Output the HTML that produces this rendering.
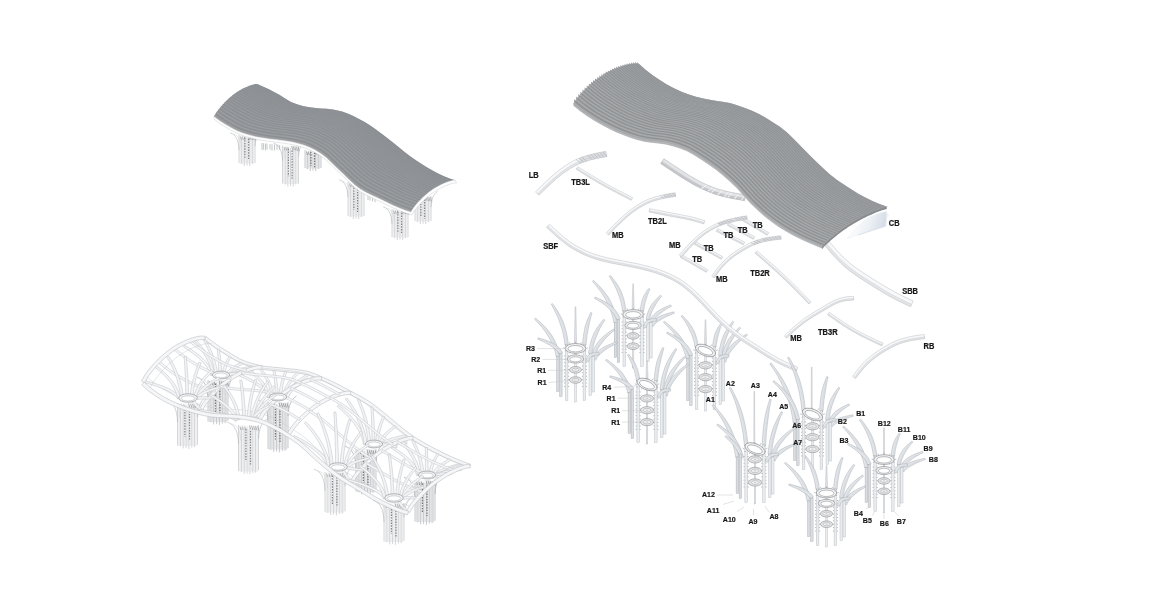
<!DOCTYPE html>
<html><head><meta charset="utf-8"><title>Exploded axonometric</title>
<style>
html,body{margin:0;padding:0;background:#fff;}
body{width:1175px;height:606px;overflow:hidden;}
svg{display:block;will-change:transform;}
text{font-family:"Liberation Sans",sans-serif;font-weight:bold;fill:#1a1a1a;}
</style></head><body>
<svg width="1175" height="606" viewBox="0 0 1175 606">
<rect width="1175" height="606" fill="#ffffff"/>
<rect x="305.5" y="150" width="15" height="18.5" fill="#f8f8f9"/>
<path d="M305 150V168M307.7 152.5V169.1M310.3 152.5V171.1M313 152.5V170.7M315.7 152.5V171.1M318.3 152.5V169.1M321 150V168" fill="none" stroke="#9b9ea2" stroke-width="0.55" />
<path d="M306.3 154V168.5M309 154V168.5M311.7 154V168.5M314.3 154V168.5M317 154V168.5M319.7 154V168.5" fill="none" stroke="#c3c6c9" stroke-width="0.5" />
<line x1="310.9" y1="151.7" x2="310.9" y2="165.9" stroke="#707377" stroke-width="1.2" stroke-dasharray="1.4 1.3"/>
<line x1="314.6" y1="152.6" x2="314.6" y2="167.2" stroke="#707377" stroke-width="1.2" stroke-dasharray="1.4 1.3"/>
<path d="M314 150.5L315.4 154.5M315.6 150.7L317 154.8M317.2 150.9L318.6 155.1M318.8 151.1L320.2 155.4M320.4 151.3L321.8 155.7M306.5 151.5L307.3 155M308.4 151.5L309.2 155M310.3 151.5L311.1 155" fill="none" stroke="#808387" stroke-width="0.7" />
<rect x="415.5" y="196" width="15" height="25.5" fill="#f8f8f9"/>
<path d="M415 196V221M417.7 198.5V222.1M420.3 198.5V224.1M423 198.5V223.7M425.7 198.5V224.1M428.3 198.5V222.1M431 196V221" fill="none" stroke="#b3b6ba" stroke-width="0.55" />
<path d="M416.3 200V221.5M419 200V221.5M421.7 200V221.5M424.3 200V221.5M427 200V221.5M429.7 200V221.5" fill="none" stroke="#dcdee1" stroke-width="0.5" />
<line x1="420.9" y1="198.3" x2="420.9" y2="217.1" stroke="#808387" stroke-width="1.2" stroke-dasharray="1.4 1.3"/>
<line x1="424.6" y1="199.4" x2="424.6" y2="218.8" stroke="#808387" stroke-width="1.2" stroke-dasharray="1.4 1.3"/>
<path d="M424 196.5L425.4 200.5M425.6 196.7L427 200.8M427.2 196.9L428.6 201.1M428.8 197.1L430.2 201.4M430.4 197.3L431.8 201.7M416.5 197.5L417.3 201M418.4 197.5L419.2 201M420.3 197.5L421.1 201" fill="none" stroke="#96999d" stroke-width="0.7" />
<path d="M437.7 191.2 L436.1 192.5 L434.6 194.1 L433.4 196 L432.5 198.3 L431.8 200.9 L431.3 203.9 L431 207.2" fill="none" stroke="#b3b6ba" stroke-width="0.6" />
<path d="M262 143V150.1M263.6 143.2V149.6M265.5 143.4V150.4M267 143.6V149.5M270 144V149.5M272 144.2V150.7M274.5 144.5V150.4M277 144.8V150.1M279.5 145.1V149.8" fill="none" stroke="#a9acb0" stroke-width="0.7" />
<path d="M368 195V200M370 195.8V200.6M372.5 196.8V201.3M375 197.8V202.1" fill="none" stroke="#a9acb0" stroke-width="0.7" />
<rect x="239.5" y="135" width="15" height="28.5" fill="#f8f8f9"/>
<path d="M239 135V163M241.7 137.5V164.1M244.3 137.5V166.1M247 137.5V165.7M249.7 137.5V166.1M252.3 137.5V164.1M255 135V163" fill="none" stroke="#b3b6ba" stroke-width="0.55" />
<path d="M240.3 139V163.5M243 139V163.5M245.7 139V163.5M248.3 139V163.5M251 139V163.5M253.7 139V163.5" fill="none" stroke="#dcdee1" stroke-width="0.5" />
<line x1="244.9" y1="137.5" x2="244.9" y2="158.3" stroke="#808387" stroke-width="1.2" stroke-dasharray="1.4 1.3"/>
<line x1="248.6" y1="138.8" x2="248.6" y2="160.2" stroke="#808387" stroke-width="1.2" stroke-dasharray="1.4 1.3"/>
<path d="M248 135.5L249.4 139.5M249.6 135.7L251 139.8M251.2 135.9L252.6 140.1M252.8 136.1L254.2 140.4M254.4 136.3L255.8 140.7M240.5 136.5L241.3 140M242.4 136.5L243.2 140M244.3 136.5L245.1 140" fill="none" stroke="#96999d" stroke-width="0.7" />
<path d="M230.2 132.8 L232.2 133.6 L233.9 134.9 L235.4 136.5 L236.6 138.5 L237.6 140.9 L238.3 143.6 L238.8 146.7 L239 150.2" fill="none" stroke="#b3b6ba" stroke-width="0.6" />
<path d="M233.2 134 L235.1 134.7 L236.7 135.6 L238 136.9 L239.2 138.5 L240.1 140.3 L240.7 142.5 L241.2 145 L241.4 147.8" fill="none" stroke="#cdd0d3" stroke-width="0.5" />
<path d="M261.7 130.2 L260.1 131.5 L258.6 133.1 L257.4 135 L256.5 137.3 L255.8 139.9 L255.3 142.9 L255 146.2" fill="none" stroke="#b3b6ba" stroke-width="0.6" />
<rect x="283" y="145.5" width="15" height="38.5" fill="#f8f8f9"/>
<path d="M282.5 145.5V183.5M285.2 148V184.6M287.8 148V186.6M290.5 148V186.2M293.2 148V186.6M295.8 148V184.6M298.5 145.5V183.5" fill="none" stroke="#b3b6ba" stroke-width="0.55" />
<path d="M283.8 149.5V184M286.5 149.5V184M289.2 149.5V184M291.8 149.5V184M294.5 149.5V184M297.2 149.5V184" fill="none" stroke="#dcdee1" stroke-width="0.5" />
<line x1="288.4" y1="148.8" x2="288.4" y2="176.2" stroke="#808387" stroke-width="1.2" stroke-dasharray="1.4 1.3"/>
<line x1="292.1" y1="150.5" x2="292.1" y2="178.7" stroke="#808387" stroke-width="1.2" stroke-dasharray="1.4 1.3"/>
<path d="M291.5 146L292.9 150M293.1 146.2L294.5 150.3M294.7 146.4L296.1 150.6M296.3 146.6L297.7 150.9M297.9 146.8L299.3 151.2M284 147L284.8 150.5M285.9 147L286.7 150.5M287.8 147L288.6 150.5" fill="none" stroke="#96999d" stroke-width="0.7" />
<path d="M273.7 143.3 L275.7 144.1 L277.4 145.4 L278.9 147 L280.1 149 L281.1 151.4 L281.8 154.1 L282.3 157.2 L282.5 160.7" fill="none" stroke="#b3b6ba" stroke-width="0.6" />
<path d="M276.7 144.5 L278.6 145.2 L280.2 146.1 L281.5 147.4 L282.7 149 L283.6 150.8 L284.2 153 L284.7 155.5 L284.9 158.3" fill="none" stroke="#cdd0d3" stroke-width="0.5" />
<path d="M305.2 140.7 L303.6 142 L302.1 143.6 L300.9 145.5 L300 147.8 L299.3 150.4 L298.8 153.4 L298.5 156.7" fill="none" stroke="#b3b6ba" stroke-width="0.6" />
<rect x="348.5" y="182" width="15" height="34.5" fill="#f8f8f9"/>
<path d="M348 182V216M350.7 184.5V217.1M353.3 184.5V219.1M356 184.5V218.7M358.7 184.5V219.1M361.3 184.5V217.1M364 182V216" fill="none" stroke="#b3b6ba" stroke-width="0.55" />
<path d="M349.3 186V216.5M352 186V216.5M354.7 186V216.5M357.3 186V216.5M360 186V216.5M362.7 186V216.5" fill="none" stroke="#dcdee1" stroke-width="0.5" />
<line x1="353.9" y1="185" x2="353.9" y2="209.8" stroke="#808387" stroke-width="1.2" stroke-dasharray="1.4 1.3"/>
<line x1="357.6" y1="186.5" x2="357.6" y2="212" stroke="#808387" stroke-width="1.2" stroke-dasharray="1.4 1.3"/>
<path d="M357 182.5L358.4 186.5M358.6 182.7L360 186.8M360.2 182.9L361.6 187.1M361.8 183.1L363.2 187.4M363.4 183.3L364.8 187.7M349.5 183.5L350.3 187M351.4 183.5L352.2 187M353.3 183.5L354.1 187" fill="none" stroke="#96999d" stroke-width="0.7" />
<path d="M339.2 179.8 L341.2 180.6 L342.9 181.9 L344.4 183.5 L345.6 185.5 L346.6 187.9 L347.3 190.6 L347.8 193.7 L348 197.2" fill="none" stroke="#b3b6ba" stroke-width="0.6" />
<path d="M342.2 181 L344.1 181.7 L345.7 182.6 L347 183.9 L348.2 185.5 L349.1 187.3 L349.7 189.5 L350.2 192 L350.4 194.8" fill="none" stroke="#cdd0d3" stroke-width="0.5" />
<path d="M370.7 177.2 L369.1 178.5 L367.6 180.1 L366.4 182 L365.5 184.3 L364.8 186.9 L364.3 189.9 L364 193.2" fill="none" stroke="#b3b6ba" stroke-width="0.6" />
<rect x="392.5" y="209" width="15" height="28.5" fill="#f8f8f9"/>
<path d="M392 209V237M394.7 211.5V238.1M397.3 211.5V240.1M400 211.5V239.7M402.7 211.5V240.1M405.3 211.5V238.1M408 209V237" fill="none" stroke="#b3b6ba" stroke-width="0.55" />
<path d="M393.3 213V237.5M396 213V237.5M398.7 213V237.5M401.3 213V237.5M404 213V237.5M406.7 213V237.5" fill="none" stroke="#dcdee1" stroke-width="0.5" />
<line x1="397.9" y1="211.5" x2="397.9" y2="232.3" stroke="#808387" stroke-width="1.2" stroke-dasharray="1.4 1.3"/>
<line x1="401.6" y1="212.8" x2="401.6" y2="234.2" stroke="#808387" stroke-width="1.2" stroke-dasharray="1.4 1.3"/>
<path d="M401 209.5L402.4 213.5M402.6 209.7L404 213.8M404.2 209.9L405.6 214.1M405.8 210.1L407.2 214.4M407.4 210.3L408.8 214.7M393.5 210.5L394.3 214M395.4 210.5L396.2 214M397.3 210.5L398.1 214" fill="none" stroke="#96999d" stroke-width="0.7" />
<path d="M383.2 206.8 L385.2 207.6 L386.9 208.9 L388.4 210.5 L389.6 212.5 L390.6 214.9 L391.3 217.6 L391.8 220.7 L392 224.2" fill="none" stroke="#b3b6ba" stroke-width="0.6" />
<path d="M386.2 208 L388.1 208.7 L389.7 209.6 L391 210.9 L392.2 212.5 L393.1 214.3 L393.7 216.5 L394.2 219 L394.4 221.8" fill="none" stroke="#cdd0d3" stroke-width="0.5" />
<path d="M257.3 84 L263 86.5 L268.6 89.1 L274.3 91.9 L279.9 95.1 L285.6 98.7 L291.2 102 L296.9 104.2 L302.6 105.9 L308.2 107 L313.9 107.8 L319.5 108.4 L325.2 108.8 L330.8 109.2 L336.5 110.2 L342.2 111.6 L347.8 113.5 L353.5 116.1 L359.1 119 L364.8 121.9 L370.4 125.4 L376.1 129.6 L381.8 133.8 L387.4 138 L393.1 142.4 L398.7 147.1 L404.4 151.7 L410 156 L415.7 160 L421.4 163.7 L427 167.3 L432.7 170.5 L438.3 173.5 L444 176.2 L449.6 178.4 L455.3 180.3 L455.3 180.3 L453.5 180.3 L451.6 180.7 L449.8 181.2 L447.9 181.8 L446.1 182.5 L444.2 183.2 L442.4 184 L440.5 184.9 L438.6 185.9 L436.8 186.9 L435 188 L433.1 189.2 L431.2 190.5 L429.4 191.8 L427.6 193.3 L425.7 194.9 L423.9 196.5 L422 198.3 L420.1 200.2 L418.3 202.1 L416.4 204.2 L414.6 206.4 L412.8 208.9 L410.9 212 L410.9 212 L405.3 210.2 L399.6 208.1 L394 205.7 L388.4 203.1 L382.8 200.3 L377.1 197.6 L371.5 195 L365.9 192.3 L360.3 189 L354.6 184.7 L349 179.5 L343.4 174 L337.8 168.7 L332.1 163.2 L326.5 157.8 L320.9 153.4 L315.3 150.1 L309.6 147.3 L304 145.1 L298.4 143.4 L292.8 142.1 L287.1 141.1 L281.5 140.3 L275.9 139.6 L270.3 138.9 L264.6 138.1 L259 137.2 L253.4 136 L247.8 134.6 L242.1 132.8 L236.5 130.4 L230.9 127.5 L225.3 124.3 L219.6 120.7 L214 116.5 L214 116.5 L215.8 113.3 L217.6 110.7 L219.4 108.4 L221.2 106.3 L223 104.3 L224.8 102.3 L226.6 100.5 L228.4 98.8 L230.2 97.2 L232 95.7 L233.8 94.3 L235.7 93 L237.5 91.8 L239.3 90.6 L241.1 89.6 L242.9 88.6 L244.7 87.7 L246.5 86.9 L248.3 86.2 L250.1 85.5 L251.9 84.9 L253.7 84.4 L255.5 84 L257.3 84Z" fill="#8c9094" stroke="none" stroke-width="0.5" />
<path d="M256.3 83.9 L262 86.4 L267.6 89.1 L273.3 91.9 L278.9 95.1 L284.6 98.6 L290.3 101.9 L295.9 104.1 L301.6 105.7 L307.2 106.9 L312.9 107.7 L318.5 108.3 L324.2 108.6 L329.8 109.1 L335.5 110.1 L341.2 111.5 L346.8 113.4 L352.5 116 L358.1 118.8 L363.8 121.8 L369.4 125.3 L375.1 129.5 L380.8 133.8 L386.4 138 L392.1 142.5 L397.7 147.1 L403.4 151.8 L409 156 L414.7 160 L420.4 163.7 L426 167.2 L431.7 170.4 L437.3 173.5 L443 176.1 L448.6 178.3 L454.3 180.2 L453.3 180.4 L447.6 178.5 L442 176.3 L436.3 173.6 L430.7 170.6 L425 167.4 L419.3 163.9 L413.7 160.2 L408 156.3 L402.4 152 L396.7 147.4 L391.1 142.7 L385.4 138.3 L379.8 134 L374.1 129.7 L368.4 125.5 L362.8 121.9 L357.1 119 L351.5 116.1 L345.8 113.5 L340.2 111.6 L334.5 110.2 L328.9 109.2 L323.2 108.8 L317.5 108.4 L311.9 107.8 L306.2 107 L300.6 105.9 L294.9 104.2 L289.3 102 L283.6 98.8 L278 95.3 L272.3 92.1 L266.6 89.3 L261 86.6 L255.3 84Z" fill="#8d9195" stroke="none" stroke-width="0.5" />
<path d="M254.3 84.2 L260 86.8 L265.7 89.5 L271.3 92.4 L277 95.5 L282.6 99.1 L288.3 102.2 L293.9 104.4 L299.6 106 L305.2 107.2 L310.9 108 L316.6 108.6 L322.2 109 L327.9 109.4 L333.5 110.4 L339.2 111.8 L344.8 113.7 L350.5 116.3 L356.1 119.1 L361.8 122.1 L367.4 125.7 L373.1 129.9 L378.8 134.2 L384.4 138.5 L390.1 143 L395.7 147.7 L401.4 152.3 L407 156.6 L412.7 160.5 L418.3 164.1 L424 167.6 L429.7 170.8 L435.3 173.8 L441 176.5 L446.6 178.7 L452.3 180.6 L451.3 180.8 L445.6 178.9 L440 176.7 L434.3 174.1 L428.6 171.1 L423 167.9 L417.3 164.4 L411.7 160.8 L406 156.9 L400.4 152.7 L394.7 148.1 L389.1 143.4 L383.4 138.9 L377.8 134.5 L372.1 130.2 L366.4 125.9 L360.8 122.4 L355.1 119.4 L349.5 116.5 L343.8 113.9 L338.2 112.1 L332.5 110.6 L326.9 109.7 L321.2 109.2 L315.6 108.8 L309.9 108.2 L304.3 107.4 L298.6 106.3 L292.9 104.6 L287.3 102.5 L281.6 99.3 L276 95.9 L270.3 92.7 L264.7 89.8 L259 87.1 L253.4 84.5Z" fill="#8e9296" stroke="none" stroke-width="0.5" />
<path d="M252.4 84.8 L258 87.4 L263.7 90.2 L269.3 93.1 L275 96.2 L280.6 99.7 L286.3 102.8 L292 104.9 L297.6 106.5 L303.3 107.6 L308.9 108.5 L314.6 109.1 L320.2 109.4 L325.9 109.9 L331.5 110.9 L337.2 112.3 L342.8 114.2 L348.5 116.8 L354.1 119.6 L359.8 122.6 L365.5 126.2 L371.1 130.5 L376.8 134.9 L382.4 139.3 L388.1 143.8 L393.7 148.5 L399.4 153.1 L405 157.3 L410.7 161.1 L416.3 164.8 L422 168.2 L427.6 171.4 L433.3 174.4 L438.9 177 L444.6 179.2 L450.3 181.1 L449.2 181.4 L443.6 179.5 L437.9 177.3 L432.3 174.7 L426.6 171.7 L421 168.5 L415.3 165.1 L409.7 161.5 L404 157.7 L398.4 153.5 L392.7 148.9 L387.1 144.2 L381.4 139.6 L375.8 135.3 L370.1 130.9 L364.5 126.5 L358.8 122.9 L353.1 119.9 L347.5 117.1 L341.8 114.5 L336.2 112.6 L330.5 111.2 L324.9 110.2 L319.2 109.7 L313.6 109.3 L307.9 108.7 L302.3 107.9 L296.6 106.8 L291 105.2 L285.3 103.1 L279.7 100 L274 96.6 L268.4 93.4 L262.7 90.5 L257 87.8 L251.4 85.1Z" fill="#8f9296" stroke="none" stroke-width="0.5" />
<path d="M250.4 85.4 L256.1 88.1 L261.7 90.9 L267.4 93.8 L273 97 L278.7 100.4 L284.3 103.4 L290 105.5 L295.6 107.1 L301.3 108.2 L306.9 109 L312.6 109.6 L318.2 110 L323.9 110.6 L329.5 111.5 L335.2 113 L340.8 114.8 L346.5 117.4 L352.1 120.2 L357.8 123.2 L363.5 126.9 L369.1 131.2 L374.8 135.7 L380.4 140.1 L386.1 144.7 L391.7 149.4 L397.4 154 L403 158.1 L408.7 161.9 L414.3 165.5 L420 168.9 L425.6 172 L431.3 175 L436.9 177.6 L442.6 179.8 L448.2 181.7 L447.2 182.1 L441.6 180.2 L435.9 178 L430.3 175.4 L424.6 172.4 L419 169.3 L413.3 165.9 L407.7 162.3 L402 158.6 L396.4 154.5 L390.7 149.9 L385.1 145.1 L379.4 140.5 L373.8 136.1 L368.1 131.6 L362.5 127.2 L356.8 123.6 L351.2 120.5 L345.5 117.7 L339.9 115.1 L334.2 113.3 L328.5 111.9 L322.9 110.9 L317.2 110.4 L311.6 110 L305.9 109.4 L300.3 108.5 L294.6 107.4 L289 105.9 L283.3 103.8 L277.7 100.8 L272 97.4 L266.4 94.3 L260.7 91.4 L255.1 88.5 L249.4 85.7Z" fill="#8f9397" stroke="none" stroke-width="0.5" />
<path d="M248.4 86.1 L254.1 88.9 L259.7 91.8 L265.4 94.7 L271 97.8 L276.7 101.2 L282.3 104.1 L288 106.2 L293.6 107.8 L299.3 108.9 L305 109.7 L310.6 110.3 L316.3 110.7 L321.9 111.3 L327.6 112.2 L333.2 113.7 L338.9 115.5 L344.5 118.1 L350.2 120.9 L355.8 123.9 L361.5 127.6 L367.1 132 L372.8 136.5 L378.4 141 L384.1 145.6 L389.7 150.4 L395.4 154.9 L401 159 L406.7 162.8 L412.3 166.3 L418 169.7 L423.6 172.8 L429.3 175.8 L434.9 178.4 L440.6 180.6 L446.2 182.4 L445.2 182.8 L439.6 181 L433.9 178.7 L428.3 176.1 L422.6 173.2 L417 170.1 L411.3 166.7 L405.7 163.2 L400 159.5 L394.4 155.5 L388.7 150.9 L383.1 146.1 L377.4 141.4 L371.8 137 L366.1 132.5 L360.5 128 L354.8 124.3 L349.2 121.3 L343.5 118.4 L337.9 115.9 L332.2 114 L326.6 112.6 L320.9 111.7 L315.3 111.1 L309.6 110.7 L304 110.1 L298.3 109.2 L292.7 108.1 L287 106.6 L281.4 104.5 L275.7 101.6 L270.1 98.3 L264.4 95.2 L258.8 92.2 L253.1 89.4 L247.5 86.5Z" fill="#909497" stroke="none" stroke-width="0.5" />
<path d="M246.5 86.9 L252.1 89.8 L257.8 92.7 L263.4 95.7 L269.1 98.7 L274.7 102.1 L280.4 104.9 L286 107 L291.7 108.5 L297.3 109.6 L303 110.5 L308.6 111.1 L314.3 111.5 L319.9 112.1 L325.6 113 L331.2 114.4 L336.9 116.3 L342.5 118.8 L348.2 121.6 L353.8 124.7 L359.5 128.4 L365.1 132.9 L370.8 137.4 L376.4 141.9 L382.1 146.6 L387.7 151.4 L393.4 156 L399 160 L404.7 163.7 L410.3 167.2 L416 170.5 L421.6 173.6 L427.3 176.6 L432.9 179.2 L438.6 181.4 L444.2 183.2 L443.2 183.7 L437.5 181.8 L431.9 179.6 L426.2 177 L420.6 174.1 L414.9 171 L409.3 167.7 L403.7 164.2 L398 160.6 L392.4 156.5 L386.7 152 L381.1 147.2 L375.4 142.5 L369.8 137.9 L364.1 133.4 L358.5 128.9 L352.8 125.1 L347.2 122.1 L341.5 119.2 L335.9 116.7 L330.2 114.9 L324.6 113.5 L318.9 112.5 L313.3 111.9 L307.6 111.5 L302 110.9 L296.3 110 L290.7 108.9 L285 107.4 L279.4 105.4 L273.7 102.5 L268.1 99.2 L262.4 96.2 L256.8 93.2 L251.1 90.3 L245.5 87.4Z" fill="#919498" stroke="none" stroke-width="0.5" />
<path d="M244.5 87.8 L250.2 90.8 L255.8 93.7 L261.5 96.7 L267.1 99.8 L272.7 103 L278.4 105.9 L284 107.9 L289.7 109.4 L295.3 110.5 L301 111.3 L306.6 111.9 L312.3 112.4 L317.9 112.9 L323.6 113.9 L329.2 115.3 L334.9 117.1 L340.5 119.7 L346.2 122.5 L351.8 125.5 L357.5 129.3 L363.1 133.9 L368.8 138.5 L374.4 143 L380.1 147.7 L385.7 152.6 L391.4 157.1 L397 161.1 L402.6 164.7 L408.3 168.2 L413.9 171.4 L419.6 174.5 L425.2 177.5 L430.9 180 L436.5 182.2 L442.2 184.1 L441.2 184.6 L435.5 182.7 L429.9 180.5 L424.2 177.9 L418.6 175 L412.9 171.9 L407.3 168.7 L401.6 165.3 L396 161.7 L390.3 157.7 L384.7 153.2 L379.1 148.3 L373.4 143.6 L367.8 139 L362.1 134.4 L356.5 129.8 L350.8 126 L345.2 122.9 L339.5 120.1 L333.9 117.6 L328.2 115.8 L322.6 114.4 L316.9 113.4 L311.3 112.8 L305.6 112.4 L300 111.7 L294.3 110.9 L288.7 109.8 L283.1 108.3 L277.4 106.3 L271.8 103.5 L266.1 100.3 L260.5 97.2 L254.8 94.3 L249.2 91.3 L243.5 88.3Z" fill="#919598" stroke="none" stroke-width="0.5" />
<path d="M242.5 88.8 L248.2 91.9 L253.8 94.8 L259.5 97.8 L265.1 100.9 L270.8 104.1 L276.4 106.8 L282.1 108.8 L287.7 110.3 L293.4 111.4 L299 112.2 L304.6 112.8 L310.3 113.3 L315.9 113.9 L321.6 114.9 L327.2 116.3 L332.9 118.1 L338.5 120.6 L344.2 123.4 L349.8 126.5 L355.5 130.3 L361.1 134.9 L366.8 139.6 L372.4 144.2 L378.1 148.9 L383.7 153.8 L389.3 158.3 L395 162.3 L400.6 165.9 L406.3 169.2 L411.9 172.5 L417.6 175.5 L423.2 178.4 L428.9 181 L434.5 183.2 L440.2 185.1 L439.2 185.6 L433.5 183.7 L427.9 181.5 L422.2 179 L416.6 176.1 L410.9 173 L405.3 169.8 L399.6 166.4 L394 162.9 L388.3 159 L382.7 154.4 L377.1 149.6 L371.4 144.8 L365.8 140.1 L360.1 135.5 L354.5 130.8 L348.8 127 L343.2 123.9 L337.5 121.1 L331.9 118.6 L326.2 116.8 L320.6 115.4 L314.9 114.4 L309.3 113.8 L303.7 113.3 L298 112.7 L292.4 111.9 L286.7 110.8 L281.1 109.3 L275.4 107.4 L269.8 104.6 L264.1 101.5 L258.5 98.4 L252.8 95.4 L247.2 92.4 L241.6 89.3Z" fill="#929599" stroke="none" stroke-width="0.5" />
<path d="M240.6 89.9 L246.2 93 L251.9 96 L257.5 99 L263.2 102.1 L268.8 105.2 L274.4 107.9 L280.1 109.8 L285.7 111.3 L291.4 112.4 L297 113.2 L302.7 113.9 L308.3 114.3 L314 115 L319.6 115.9 L325.2 117.3 L330.9 119.1 L336.5 121.6 L342.2 124.4 L347.8 127.5 L353.5 131.4 L359.1 136 L364.8 140.8 L370.4 145.4 L376.1 150.2 L381.7 155.1 L387.3 159.6 L393 163.5 L398.6 167.1 L404.3 170.4 L409.9 173.6 L415.6 176.6 L421.2 179.5 L426.9 182.1 L432.5 184.3 L438.1 186.1 L437.1 186.7 L431.5 184.8 L425.8 182.6 L420.2 180.1 L414.6 177.2 L408.9 174.2 L403.3 171 L397.6 167.7 L392 164.2 L386.3 160.3 L380.7 155.8 L375 150.9 L369.4 146.1 L363.8 141.4 L358.1 136.6 L352.5 132 L346.8 128.1 L341.2 125 L335.5 122.2 L329.9 119.7 L324.3 117.9 L318.6 116.5 L313 115.5 L307.3 114.9 L301.7 114.4 L296 113.8 L290.4 112.9 L284.7 111.9 L279.1 110.4 L273.5 108.5 L267.8 105.8 L262.2 102.7 L256.5 99.7 L250.9 96.7 L245.2 93.6 L239.6 90.4Z" fill="#939699" stroke="none" stroke-width="0.5" />
<path d="M238.6 91 L244.2 94.3 L249.9 97.3 L255.5 100.3 L261.2 103.4 L266.8 106.5 L272.5 109.1 L278.1 111 L283.8 112.4 L289.4 113.5 L295 114.4 L300.7 115 L306.3 115.5 L312 116.1 L317.6 117.1 L323.3 118.5 L328.9 120.3 L334.5 122.7 L340.2 125.6 L345.8 128.7 L351.5 132.6 L357.1 137.3 L362.8 142 L368.4 146.7 L374 151.6 L379.7 156.5 L385.3 161 L391 164.9 L396.6 168.4 L402.3 171.6 L407.9 174.8 L413.6 177.8 L419.2 180.7 L424.8 183.2 L430.5 185.4 L436.1 187.3 L435.1 187.9 L429.5 186 L423.8 183.8 L418.2 181.3 L412.5 178.5 L406.9 175.4 L401.3 172.3 L395.6 169 L390 165.6 L384.3 161.8 L378.7 157.3 L373 152.4 L367.4 147.4 L361.8 142.7 L356.1 137.9 L350.5 133.2 L344.8 129.3 L339.2 126.2 L333.5 123.3 L327.9 120.9 L322.3 119.1 L316.6 117.7 L311 116.7 L305.3 116.1 L299.7 115.6 L294 114.9 L288.4 114.1 L282.8 113 L277.1 111.6 L271.5 109.7 L265.8 107.1 L260.2 104.1 L254.5 101 L248.9 98 L243.3 94.9 L237.6 91.7Z" fill="#93979a" stroke="none" stroke-width="0.5" />
<path d="M236.6 92.3 L242.3 95.6 L247.9 98.7 L253.6 101.8 L259.2 104.8 L264.8 107.8 L270.5 110.4 L276.1 112.2 L281.8 113.7 L287.4 114.7 L293.1 115.6 L298.7 116.2 L304.3 116.7 L310 117.4 L315.6 118.3 L321.3 119.7 L326.9 121.5 L332.6 124 L338.2 126.8 L343.8 129.9 L349.5 133.8 L355.1 138.6 L360.8 143.4 L366.4 148.2 L372 153.1 L377.7 158 L383.3 162.5 L389 166.3 L394.6 169.8 L400.3 173 L405.9 176.1 L411.5 179.1 L417.2 182 L422.8 184.5 L428.5 186.7 L434.1 188.5 L433.1 189.2 L427.5 187.3 L421.8 185.1 L416.2 182.6 L410.5 179.8 L404.9 176.8 L399.3 173.7 L393.6 170.5 L388 167.1 L382.3 163.3 L376.7 158.8 L371 153.9 L365.4 148.9 L359.8 144.2 L354.1 139.3 L348.5 134.5 L342.8 130.5 L337.2 127.4 L331.6 124.6 L325.9 122.1 L320.3 120.4 L314.6 119 L309 118 L303.3 117.4 L297.7 116.8 L292.1 116.2 L286.4 115.4 L280.8 114.3 L275.1 112.9 L269.5 111.1 L263.9 108.5 L258.2 105.5 L252.6 102.5 L246.9 99.5 L241.3 96.3 L235.7 93Z" fill="#94979a" stroke="none" stroke-width="0.5" />
<path d="M234.7 93.7 L240.3 97.1 L245.9 100.2 L251.6 103.3 L257.2 106.3 L262.9 109.3 L268.5 111.8 L274.2 113.6 L279.8 115 L285.4 116.1 L291.1 116.9 L296.7 117.5 L302.4 118 L308 118.7 L313.6 119.7 L319.3 121.1 L324.9 122.8 L330.6 125.3 L336.2 128.1 L341.8 131.2 L347.5 135.2 L353.1 140 L358.8 144.9 L364.4 149.7 L370 154.7 L375.7 159.7 L381.3 164.1 L387 167.9 L392.6 171.3 L398.2 174.4 L403.9 177.5 L409.5 180.5 L415.2 183.3 L420.8 185.8 L426.5 188 L432.1 189.9 L431.1 190.6 L425.4 188.7 L419.8 186.6 L414.2 184 L408.5 181.2 L402.9 178.3 L397.2 175.2 L391.6 172.1 L386 168.7 L380.3 165 L374.7 160.5 L369 155.5 L363.4 150.5 L357.8 145.7 L352.1 140.8 L346.5 135.9 L340.8 131.9 L335.2 128.8 L329.6 126 L323.9 123.5 L318.3 121.8 L312.6 120.4 L307 119.4 L301.4 118.8 L295.7 118.2 L290.1 117.6 L284.4 116.8 L278.8 115.7 L273.2 114.3 L267.5 112.5 L261.9 110.1 L256.2 107.1 L250.6 104.1 L245 101 L239.3 97.9 L233.7 94.4Z" fill="#95989b" stroke="none" stroke-width="0.5" />
<path d="M232.7 95.2 L238.3 98.7 L244 101.9 L249.6 104.9 L255.3 107.9 L260.9 110.9 L266.5 113.3 L272.2 115 L277.8 116.4 L283.5 117.5 L289.1 118.3 L294.7 119 L300.4 119.5 L306 120.2 L311.6 121.2 L317.3 122.5 L322.9 124.3 L328.6 126.7 L334.2 129.5 L339.8 132.7 L345.5 136.7 L351.1 141.6 L356.8 146.5 L362.4 151.4 L368 156.4 L373.7 161.4 L379.3 165.8 L385 169.6 L390.6 172.9 L396.2 176 L401.9 179 L407.5 182 L413.2 184.8 L418.8 187.3 L424.4 189.5 L430.1 191.3 L429.1 192.1 L423.4 190.2 L417.8 188.1 L412.1 185.6 L406.5 182.8 L400.9 179.8 L395.2 176.8 L389.6 173.7 L384 170.4 L378.3 166.7 L372.7 162.3 L367 157.3 L361.4 152.2 L355.8 147.4 L350.1 142.4 L344.5 137.5 L338.8 133.4 L333.2 130.3 L327.6 127.5 L321.9 125.1 L316.3 123.3 L310.7 122 L305 121 L299.4 120.3 L293.7 119.7 L288.1 119.1 L282.5 118.2 L276.8 117.2 L271.2 115.8 L265.5 114.1 L259.9 111.7 L254.3 108.8 L248.6 105.8 L243 102.7 L237.4 99.5 L231.7 96Z" fill="#96989b" stroke="none" stroke-width="0.5" />
<path d="M230.7 96.8 L236.4 100.3 L242 103.6 L247.6 106.7 L253.3 109.7 L258.9 112.5 L264.6 114.9 L270.2 116.6 L275.8 118 L281.5 119 L287.1 119.9 L292.7 120.5 L298.4 121.1 L304 121.8 L309.7 122.8 L315.3 124.1 L320.9 125.8 L326.6 128.3 L332.2 131.1 L337.8 134.2 L343.5 138.3 L349.1 143.2 L354.8 148.3 L360.4 153.1 L366 158.2 L371.7 163.2 L377.3 167.7 L383 171.3 L388.6 174.6 L394.2 177.6 L399.9 180.7 L405.5 183.6 L411.1 186.4 L416.8 188.9 L422.4 191 L428.1 192.9 L427 193.7 L421.4 191.9 L415.8 189.7 L410.1 187.2 L404.5 184.5 L398.9 181.5 L393.2 178.5 L387.6 175.5 L381.9 172.3 L376.3 168.6 L370.7 164.2 L365 159.2 L359.4 154.1 L353.8 149.2 L348.1 144.1 L342.5 139.1 L336.9 135 L331.2 131.9 L325.6 129.1 L319.9 126.7 L314.3 124.9 L308.7 123.6 L303 122.6 L297.4 121.9 L291.8 121.3 L286.1 120.7 L280.5 119.9 L274.8 118.8 L269.2 117.5 L263.6 115.7 L257.9 113.4 L252.3 110.6 L246.7 107.6 L241 104.5 L235.4 101.2 L229.7 97.6Z" fill="#96999c" stroke="none" stroke-width="0.5" />
<path d="M228.8 98.5 L234.4 102.2 L240 105.5 L245.7 108.5 L251.3 111.5 L256.9 114.3 L262.6 116.6 L268.2 118.3 L273.9 119.7 L279.5 120.7 L285.1 121.5 L290.8 122.2 L296.4 122.7 L302 123.5 L307.7 124.5 L313.3 125.8 L318.9 127.5 L324.6 129.9 L330.2 132.7 L335.9 135.9 L341.5 140 L347.1 145 L352.8 150.1 L358.4 155 L364 160.1 L369.7 165.2 L375.3 169.6 L380.9 173.2 L386.6 176.4 L392.2 179.4 L397.9 182.4 L403.5 185.3 L409.1 188.1 L414.8 190.6 L420.4 192.7 L426 194.6 L425 195.5 L419.4 193.6 L413.8 191.5 L408.1 189 L402.5 186.2 L396.8 183.3 L391.2 180.4 L385.6 177.4 L379.9 174.2 L374.3 170.6 L368.7 166.2 L363 161.2 L357.4 156 L351.8 151.1 L346.1 145.9 L340.5 140.9 L334.9 136.8 L329.2 133.6 L323.6 130.8 L317.9 128.4 L312.3 126.7 L306.7 125.4 L301 124.4 L295.4 123.6 L289.8 123 L284.1 122.4 L278.5 121.6 L272.9 120.5 L267.2 119.2 L261.6 117.5 L256 115.3 L250.3 112.5 L244.7 109.5 L239 106.4 L233.4 103.1 L227.8 99.4Z" fill="#979a9c" stroke="none" stroke-width="0.5" />
<path d="M226.8 100.4 L232.4 104.1 L238.1 107.4 L243.7 110.5 L249.3 113.5 L255 116.3 L260.6 118.5 L266.2 120.1 L271.9 121.4 L277.5 122.5 L283.1 123.3 L288.8 124 L294.4 124.5 L300 125.3 L305.7 126.3 L311.3 127.6 L317 129.3 L322.6 131.7 L328.2 134.5 L333.9 137.7 L339.5 141.8 L345.1 146.9 L350.8 152 L356.4 157 L362 162.2 L367.7 167.2 L373.3 171.6 L378.9 175.2 L384.6 178.4 L390.2 181.3 L395.8 184.3 L401.5 187.2 L407.1 189.9 L412.7 192.4 L418.4 194.5 L424 196.4 L423 197.3 L417.4 195.5 L411.7 193.3 L406.1 190.9 L400.5 188.1 L394.8 185.3 L389.2 182.3 L383.6 179.4 L377.9 176.3 L372.3 172.7 L366.7 168.3 L361 163.3 L355.4 158 L349.8 153.1 L344.1 147.9 L338.5 142.8 L332.9 138.6 L327.2 135.4 L321.6 132.6 L316 130.3 L310.3 128.5 L304.7 127.2 L299.1 126.2 L293.4 125.5 L287.8 124.9 L282.2 124.2 L276.5 123.4 L270.9 122.4 L265.2 121.1 L259.6 119.4 L254 117.3 L248.3 114.5 L242.7 111.6 L237.1 108.5 L231.4 105.1 L225.8 101.3Z" fill="#989a9d" stroke="none" stroke-width="0.5" />
<path d="M224.8 102.3 L230.5 106.1 L236.1 109.5 L241.7 112.6 L247.4 115.6 L253 118.3 L258.6 120.4 L264.3 122.1 L269.9 123.4 L275.5 124.4 L281.2 125.2 L286.8 125.9 L292.4 126.5 L298.1 127.2 L303.7 128.2 L309.3 129.5 L315 131.2 L320.6 133.6 L326.2 136.4 L331.9 139.6 L337.5 143.8 L343.1 148.9 L348.8 154.1 L354.4 159.1 L360 164.3 L365.7 169.4 L371.3 173.8 L376.9 177.4 L382.6 180.4 L388.2 183.3 L393.8 186.3 L399.5 189.1 L405.1 191.8 L410.7 194.3 L416.4 196.4 L422 198.3 L421 199.3 L415.4 197.4 L409.7 195.3 L404.1 192.9 L398.5 190.1 L392.8 187.3 L387.2 184.4 L381.6 181.5 L375.9 178.5 L370.3 174.9 L364.7 170.6 L359 165.5 L353.4 160.2 L347.8 155.2 L342.1 149.9 L336.5 144.8 L330.9 140.6 L325.2 137.4 L319.6 134.6 L314 132.2 L308.3 130.5 L302.7 129.2 L297.1 128.2 L291.4 127.5 L285.8 126.9 L280.2 126.2 L274.5 125.4 L268.9 124.4 L263.3 123.1 L257.6 121.5 L252 119.4 L246.4 116.7 L240.7 113.7 L235.1 110.6 L229.5 107.2 L223.8 103.4Z" fill="#989b9d" stroke="none" stroke-width="0.5" />
<path d="M222.9 104.4 L228.5 108.3 L234.1 111.7 L239.8 114.9 L245.4 117.8 L251 120.5 L256.6 122.5 L262.3 124.1 L267.9 125.4 L273.5 126.4 L279.2 127.2 L284.8 127.9 L290.4 128.5 L296.1 129.3 L301.7 130.3 L307.3 131.6 L313 133.3 L318.6 135.6 L324.2 138.4 L329.9 141.6 L335.5 145.9 L341.1 151 L346.8 156.3 L352.4 161.4 L358 166.6 L363.7 171.7 L369.3 176.1 L374.9 179.6 L380.6 182.6 L386.2 185.5 L391.8 188.4 L397.5 191.2 L403.1 193.9 L408.7 196.3 L414.3 198.5 L420 200.3 L419 201.4 L413.3 199.5 L407.7 197.4 L402.1 195 L396.4 192.3 L390.8 189.5 L385.2 186.6 L379.6 183.8 L373.9 180.8 L368.3 177.3 L362.7 173 L357 167.8 L351.4 162.5 L345.8 157.4 L340.1 152.1 L334.5 147 L328.9 142.7 L323.2 139.5 L317.6 136.7 L312 134.4 L306.3 132.6 L300.7 131.4 L295.1 130.4 L289.4 129.6 L283.8 129 L278.2 128.3 L272.6 127.5 L266.9 126.5 L261.3 125.2 L255.7 123.6 L250 121.6 L244.4 119 L238.8 116 L233.1 112.9 L227.5 109.4 L221.9 105.5Z" fill="#999b9e" stroke="none" stroke-width="0.5" />
<path d="M220.9 106.7 L226.5 110.6 L232.2 114.1 L237.8 117.2 L243.4 120.2 L249 122.8 L254.7 124.8 L260.3 126.3 L265.9 127.6 L271.6 128.6 L277.2 129.4 L282.8 130 L288.5 130.7 L294.1 131.5 L299.7 132.5 L305.3 133.7 L311 135.5 L316.6 137.8 L322.2 140.6 L327.9 143.8 L333.5 148.1 L339.1 153.3 L344.8 158.6 L350.4 163.7 L356 169.1 L361.7 174.2 L367.3 178.5 L372.9 182 L378.5 185 L384.2 187.8 L389.8 190.6 L395.4 193.4 L401.1 196.1 L406.7 198.5 L412.3 200.6 L418 202.5 L417 203.6 L411.3 201.8 L405.7 199.7 L400.1 197.2 L394.4 194.6 L388.8 191.8 L383.2 188.9 L377.5 186.2 L371.9 183.2 L366.3 179.8 L360.7 175.5 L355 170.3 L349.4 165 L343.8 159.8 L338.1 154.5 L332.5 149.2 L326.9 144.9 L321.2 141.7 L315.6 138.9 L310 136.6 L304.4 134.9 L298.7 133.6 L293.1 132.6 L287.5 131.8 L281.8 131.2 L276.2 130.5 L270.6 129.7 L264.9 128.7 L259.3 127.5 L253.7 125.9 L248.1 124 L242.4 121.4 L236.8 118.5 L231.2 115.3 L225.5 111.8 L219.9 107.8Z" fill="#9a9c9e" stroke="none" stroke-width="0.5" />
<path d="M218.9 109.1 L224.5 113.1 L230.2 116.6 L235.8 119.7 L241.4 122.7 L247.1 125.2 L252.7 127.2 L258.3 128.7 L264 129.9 L269.6 130.9 L275.2 131.7 L280.8 132.4 L286.5 133 L292.1 133.8 L297.7 134.8 L303.4 136.1 L309 137.8 L314.6 140.1 L320.2 142.9 L325.9 146.1 L331.5 150.4 L337.1 155.7 L342.8 161.1 L348.4 166.2 L354 171.6 L359.7 176.8 L365.3 181.1 L370.9 184.5 L376.5 187.4 L382.2 190.2 L387.8 193 L393.4 195.8 L399.1 198.4 L404.7 200.8 L410.3 202.9 L415.9 204.8 L414.9 206 L409.3 204.2 L403.7 202.1 L398.1 199.6 L392.4 197 L386.8 194.2 L381.2 191.4 L375.5 188.7 L369.9 185.8 L364.3 182.5 L358.7 178.1 L353 173 L347.4 167.6 L341.8 162.4 L336.1 157 L330.5 151.7 L324.9 147.3 L319.3 144.1 L313.6 141.3 L308 139 L302.4 137.3 L296.7 136 L291.1 135.1 L285.5 134.2 L279.9 133.6 L274.2 132.9 L268.6 132.1 L263 131.1 L257.3 129.9 L251.7 128.4 L246.1 126.5 L240.5 124 L234.8 121.1 L229.2 117.9 L223.6 114.4 L217.9 110.3Z" fill="#9a9d9f" stroke="none" stroke-width="0.5" />
<path d="M217 111.6 L222.6 115.7 L228.2 119.3 L233.8 122.5 L239.5 125.4 L245.1 127.9 L250.7 129.7 L256.3 131.2 L262 132.4 L267.6 133.4 L273.2 134.2 L278.9 134.9 L284.5 135.5 L290.1 136.3 L295.7 137.3 L301.4 138.6 L307 140.3 L312.6 142.6 L318.3 145.4 L323.9 148.6 L329.5 153 L335.1 158.3 L340.8 163.7 L346.4 168.9 L352 174.4 L357.6 179.5 L363.3 183.9 L368.9 187.2 L374.5 190.1 L380.2 192.8 L385.8 195.5 L391.4 198.3 L397 200.9 L402.7 203.3 L408.3 205.4 L413.9 207.3 L412.9 208.6 L407.3 206.8 L401.7 204.7 L396 202.3 L390.4 199.6 L384.8 196.9 L379.2 194.2 L373.5 191.5 L367.9 188.7 L362.3 185.3 L356.6 181 L351 175.8 L345.4 170.4 L339.8 165.2 L334.1 159.7 L328.5 154.3 L322.9 150 L317.3 146.7 L311.6 143.9 L306 141.6 L300.4 140 L294.7 138.7 L289.1 137.7 L283.5 136.9 L277.9 136.2 L272.2 135.5 L266.6 134.7 L261 133.7 L255.4 132.5 L249.7 131.1 L244.1 129.3 L238.5 126.8 L232.8 123.9 L227.2 120.7 L221.6 117.1 L216 113Z" fill="#9b9d9f" stroke="none" stroke-width="0.5" />
<path d="M215 114.5 L220.6 118.7 L226.2 122.3 L231.9 125.5 L237.5 128.4 L243.1 130.8 L248.7 132.6 L254.4 134 L260 135.2 L265.6 136.2 L271.2 137 L276.9 137.7 L282.5 138.4 L288.1 139.2 L293.8 140.2 L299.4 141.4 L305 143.1 L310.6 145.4 L316.3 148.2 L321.9 151.4 L327.5 155.8 L333.1 161.2 L338.8 166.7 L344.4 171.9 L350 177.4 L355.6 182.6 L361.3 186.9 L366.9 190.2 L372.5 193 L378.2 195.7 L383.8 198.4 L389.4 201.1 L395 203.8 L400.7 206.1 L406.3 208.2 L411.9 210.1 L410.9 212 L405.3 210.2 L399.6 208.1 L394 205.7 L388.4 203.1 L382.8 200.3 L377.1 197.6 L371.5 195 L365.9 192.3 L360.3 189 L354.6 184.7 L349 179.5 L343.4 174 L337.8 168.7 L332.1 163.2 L326.5 157.8 L320.9 153.4 L315.3 150.1 L309.6 147.3 L304 145.1 L298.4 143.4 L292.8 142.1 L287.1 141.1 L281.5 140.3 L275.9 139.6 L270.3 138.9 L264.6 138.1 L259 137.2 L253.4 136 L247.8 134.6 L242.1 132.8 L236.5 130.4 L230.9 127.5 L225.3 124.3 L219.6 120.7 L214 116.5Z" fill="#9c9ea0" stroke="none" stroke-width="0.5" />
<path d="M214 116.5 L219.6 120.7 L225.3 124.3 L230.9 127.5 L236.5 130.4 L242.1 132.8 L247.8 134.6 L253.4 136 L259 137.2 L264.6 138.1 L270.3 138.9 L275.9 139.6 L281.5 140.3 L287.1 141.1 L292.8 142.1 L298.4 143.4 L304 145.1 L309.6 147.3 L315.3 150.1 L320.9 153.4 L326.5 157.8 L332.1 163.2 L337.8 168.7 L343.4 174 L349 179.5 L354.6 184.7 L360.3 189 L365.9 192.3 L371.5 195 L377.1 197.6 L382.8 200.3 L388.4 203.1 L394 205.7 L399.6 208.1 L405.3 210.2 L410.9 212 L410.9 212 L412.8 208.9 L414.6 206.4 L416.4 204.2 L418.3 202.1 L420.1 200.2 L422 198.3 L423.9 196.5 L425.7 194.9 L427.6 193.3 L429.4 191.8 L431.2 190.5 L433.1 189.2 L435 188 L436.8 186.9 L438.6 185.9 L440.5 184.9 L442.4 184 L444.2 183.2 L446.1 182.5 L447.9 181.8 L449.8 181.2 L451.6 180.7 L453.5 180.3 L455.3 180.3 L456.5 182.9 L454.7 182.9 L452.8 183.3 L450.9 183.8 L449.1 184.4 L447.3 185.1 L445.4 185.8 L443.6 186.6 L441.7 187.5 L439.8 188.5 L438 189.5 L436.2 190.6 L434.3 191.8 L432.4 193.1 L430.6 194.4 L428.8 195.9 L426.9 197.5 L425.1 199.1 L423.2 200.9 L421.3 202.8 L419.5 204.7 L417.6 206.8 L415.8 209 L413.9 211.5 L412.1 214.6 L410.9 214.6 L405.3 212.8 L399.6 210.7 L394 208.3 L388.4 205.7 L382.8 202.9 L377.1 200.2 L371.5 197.6 L365.9 194.9 L360.3 191.6 L354.6 187.3 L349 182.1 L343.4 176.6 L337.8 171.3 L332.1 165.8 L326.5 160.4 L320.9 156 L315.3 152.7 L309.6 149.9 L304 147.7 L298.4 146 L292.8 144.7 L287.1 143.7 L281.5 142.9 L275.9 142.2 L270.3 141.5 L264.6 140.7 L259 139.8 L253.4 138.6 L247.8 137.2 L242.1 135.4 L236.5 133 L230.9 130.1 L225.3 126.9 L219.6 123.3 L214 119.1Z" fill="#ffffff" stroke="#c9cacc" stroke-width="0.5" />
<rect x="208.5" y="380" width="19" height="42" fill="#f8f8f9"/>
<path d="M208 380V421.5M210.9 382.5V422.4M213.7 382.5V424.4M216.6 382.5V424.1M219.4 382.5V424.9M222.3 382.5V423.6M225.1 382.5V423.2M228 380V420.7" fill="none" stroke="#9b9ea2" stroke-width="0.55" />
<path d="M209.4 384V422M212.3 384V422M215.1 384V422M218 384V422M220.9 384V422M223.7 384V422M226.6 384V422" fill="none" stroke="#c3c6c9" stroke-width="0.5" />
<line x1="215.4" y1="383.6" x2="215.4" y2="413.3" stroke="#707377" stroke-width="1.2" stroke-dasharray="1.4 1.3"/>
<line x1="220" y1="385.4" x2="220" y2="416" stroke="#707377" stroke-width="1.2" stroke-dasharray="1.4 1.3"/>
<path d="M219 380.5L220.4 384.5M221 380.7L222.4 384.8M223 380.9L224.4 385.1M225 381.1L226.4 385.4M227 381.3L228.4 385.7M209.5 381.5L210.3 385M211.9 381.5L212.7 385M214.3 381.5L215.1 385" fill="none" stroke="#808387" stroke-width="0.7" />
<path d="M197 377.2 L199.5 378.3 L201.7 379.8 L203.6 381.8 L205.1 384.3 L206.3 387.3 L207.2 390.7 L207.8 394.6 L208 399" fill="none" stroke="#9b9ea2" stroke-width="0.6" />
<path d="M200.8 378.8 L203 379.6 L204.8 380.7 L206.5 382.2 L207.8 384.2 L208.9 386.6 L209.7 389.3 L210.2 392.4 L210.4 396" fill="none" stroke="#cdd0d3" stroke-width="0.5" />
<path d="M236.4 374 L234.3 375.6 L232.5 377.7 L231 380.1 L229.8 383 L228.9 386.2 L228.3 389.9 L228 394" fill="none" stroke="#9b9ea2" stroke-width="0.6" />
<rect x="268.5" y="402" width="19" height="47.5" fill="#f8f8f9"/>
<path d="M268 402V449M270.9 404.5V449.9M273.7 404.5V451.9M276.6 404.5V451.6M279.4 404.5V452.4M282.3 404.5V451.1M285.1 404.5V450.7M288 402V448.2" fill="none" stroke="#9b9ea2" stroke-width="0.55" />
<path d="M269.4 406V449.5M272.3 406V449.5M275.1 406V449.5M278 406V449.5M280.9 406V449.5M283.7 406V449.5M286.6 406V449.5" fill="none" stroke="#c3c6c9" stroke-width="0.5" />
<line x1="275.4" y1="406" x2="275.4" y2="439.4" stroke="#707377" stroke-width="1.2" stroke-dasharray="1.4 1.3"/>
<line x1="280" y1="408.1" x2="280" y2="442.4" stroke="#707377" stroke-width="1.2" stroke-dasharray="1.4 1.3"/>
<path d="M279 402.5L280.4 406.5M281 402.7L282.4 406.8M283 402.9L284.4 407.1M285 403.1L286.4 407.4M287 403.3L288.4 407.7M269.5 403.5L270.3 407M271.9 403.5L272.7 407M274.3 403.5L275.1 407" fill="none" stroke="#808387" stroke-width="0.7" />
<path d="M257 399.2 L259.5 400.3 L261.7 401.8 L263.6 403.8 L265.1 406.3 L266.3 409.3 L267.2 412.7 L267.8 416.6 L268 421" fill="none" stroke="#9b9ea2" stroke-width="0.6" />
<path d="M260.8 400.8 L263 401.6 L264.9 402.7 L266.5 404.2 L267.8 406.2 L268.9 408.6 L269.6 411.3 L270.2 414.4 L270.4 418" fill="none" stroke="#cdd0d3" stroke-width="0.5" />
<path d="M296.4 396 L294.3 397.6 L292.5 399.7 L291 402.1 L289.8 405 L288.9 408.2 L288.3 411.9 L288 416" fill="none" stroke="#9b9ea2" stroke-width="0.6" />
<rect x="356.5" y="449" width="19" height="43" fill="#f8f8f9"/>
<path d="M356 449V491.5M358.9 451.5V492.4M361.7 451.5V494.4M364.6 451.5V494.1M367.4 451.5V494.9M370.3 451.5V493.6M373.1 451.5V493.2M376 449V490.7" fill="none" stroke="#9b9ea2" stroke-width="0.55" />
<path d="M357.4 453V492M360.3 453V492M363.1 453V492M366 453V492M368.9 453V492M371.7 453V492M374.6 453V492" fill="none" stroke="#c3c6c9" stroke-width="0.5" />
<line x1="363.4" y1="452.7" x2="363.4" y2="483" stroke="#707377" stroke-width="1.2" stroke-dasharray="1.4 1.3"/>
<line x1="368" y1="454.5" x2="368" y2="485.8" stroke="#707377" stroke-width="1.2" stroke-dasharray="1.4 1.3"/>
<path d="M367 449.5L368.4 453.5M369 449.7L370.4 453.8M371 449.9L372.4 454.1M373 450.1L374.4 454.4M375 450.3L376.4 454.7M357.5 450.5L358.3 454M359.9 450.5L360.7 454M362.3 450.5L363.1 454" fill="none" stroke="#808387" stroke-width="0.7" />
<path d="M345 446.2 L347.5 447.3 L349.7 448.8 L351.6 450.8 L353.1 453.3 L354.3 456.3 L355.2 459.7 L355.8 463.6 L356 468" fill="none" stroke="#9b9ea2" stroke-width="0.6" />
<path d="M348.8 447.8 L351 448.6 L352.9 449.7 L354.5 451.2 L355.8 453.2 L356.9 455.6 L357.6 458.3 L358.2 461.4 L358.4 465" fill="none" stroke="#cdd0d3" stroke-width="0.5" />
<path d="M384.4 443 L382.3 444.6 L380.5 446.7 L379 449.1 L377.8 452 L376.9 455.2 L376.3 458.9 L376 463" fill="none" stroke="#9b9ea2" stroke-width="0.6" />
<rect x="415.5" y="480" width="19" height="42" fill="#f8f8f9"/>
<path d="M415 480V521.5M417.9 482.5V522.4M420.7 482.5V524.4M423.6 482.5V524.1M426.4 482.5V524.9M429.3 482.5V523.6M432.1 482.5V523.2M435 480V520.7" fill="none" stroke="#9b9ea2" stroke-width="0.55" />
<path d="M416.4 484V522M419.3 484V522M422.1 484V522M425 484V522M427.9 484V522M430.7 484V522M433.6 484V522" fill="none" stroke="#c3c6c9" stroke-width="0.5" />
<line x1="422.4" y1="483.6" x2="422.4" y2="513.3" stroke="#707377" stroke-width="1.2" stroke-dasharray="1.4 1.3"/>
<line x1="427" y1="485.4" x2="427" y2="516" stroke="#707377" stroke-width="1.2" stroke-dasharray="1.4 1.3"/>
<path d="M426 480.5L427.4 484.5M428 480.7L429.4 484.8M430 480.9L431.4 485.1M432 481.1L433.4 485.4M434 481.3L435.4 485.7M416.5 481.5L417.3 485M418.9 481.5L419.7 485M421.3 481.5L422.1 485" fill="none" stroke="#808387" stroke-width="0.7" />
<path d="M404 477.2 L406.5 478.3 L408.7 479.8 L410.6 481.8 L412.1 484.3 L413.3 487.3 L414.2 490.7 L414.8 494.6 L415 499" fill="none" stroke="#9b9ea2" stroke-width="0.6" />
<path d="M407.8 478.8 L410 479.6 L411.9 480.7 L413.5 482.2 L414.8 484.2 L415.9 486.6 L416.6 489.3 L417.2 492.4 L417.4 496" fill="none" stroke="#cdd0d3" stroke-width="0.5" />
<path d="M443.4 474 L441.3 475.6 L439.5 477.7 L438 480.1 L436.8 483 L435.9 486.2 L435.3 489.9 L435 494" fill="none" stroke="#9b9ea2" stroke-width="0.6" />
<path d="M204 339.4 L210.8 344.5 L217.6 349.3 L224.5 353.7 L231.3 357.9 L238.2 361.9 L245.2 364.9 L252.1 367 L259 368.7 L265.9 369.8 L272.8 370.6 L279.6 371.2 L286.4 371.9 L293.1 372.6 L299.9 373.4 L306.5 374.6 L313.1 376.7 L319.8 379.6 L326.6 382.6 L333.3 385.8 L340.1 389.3 L346.9 392.9 L353.7 396.5 L360.4 400.1 L367.1 404.2 L373.8 408.9 L380.6 414.4 L387.4 420.1 L394.2 425.6 L401 431.3 L407.9 436.6 L414.7 441.1 L421.6 445.2 L428.4 449.1 L435.2 452.7 L442.1 456.2 L448.9 459.4 L455.8 462.3 L462.6 465.1 L469.4 467.6 L470.6 464.4 L463.8 461.9 L457.1 459.2 L450.3 456.3 L443.6 453.1 L436.8 449.7 L430 446.1 L423.3 442.3 L416.5 438.3 L409.8 433.8 L403.1 428.6 L396.3 423 L389.5 417.4 L382.8 411.7 L375.9 406.2 L369 401.3 L362.1 397.2 L355.3 393.5 L348.5 389.9 L341.7 386.3 L334.9 382.8 L328 379.5 L321.2 376.5 L314.3 373.5 L307.3 371.3 L300.4 370 L293.5 369.2 L286.7 368.5 L279.9 367.8 L273.1 367.2 L266.4 366.5 L259.7 365.3 L253 363.7 L246.4 361.7 L239.7 358.9 L233.1 355 L226.3 350.8 L219.5 346.5 L212.8 341.7 L206 336.6Z" fill="#f5f6f7" stroke="#b7babe" stroke-width="0.55" stroke-linejoin="round"/>
<path d="M201.3 337.7 L208.1 342.9 L214.9 347.7 L221.7 352 L228.5 356.3 L235.3 360.1 L242 363 L248.8 365.1 L255.6 366.8 L262.4 368 L269.2 368.8 L276 369.4 L282.8 370.1 L289.6 370.7 L296.4 371.6 L303.2 372.8 L310 374.9 L316.8 377.8 L323.6 380.7 L330.4 384 L337.2 387.6 L344 391.2 L350.8 394.8 L357.6 398.6 L364.4 402.8 L371.2 407.7 L377.9 413.3 L384.7 419 L391.5 424.6 L398.3 430.2 L405.1 435.4 L411.9 439.8 L418.7 443.9 L425.5 447.8 L432.3 451.5 L439.1 454.9 L445.9 458.1 L452.7 461.1 L459.5 463.8 L466.3 466.3" fill="none" stroke="#c9ccd0" stroke-width="0.5" />
<path d="M146.7 376.4 L153.5 382.4 L160.3 387.4 L167.1 391.6 L173.9 395.2 L180.7 398.3 L187.5 401 L194.3 403.3 L201.1 405.2 L207.9 406.8 L214.7 408.1 L221.5 408.7 L228.3 409.1 L235.1 409.4 L241.8 409.9 L248.6 410.8 L255.4 412.1 L262.2 413.8 L269 416.4 L275.8 419.6 L282.6 423.1 L289.4 427.2 L296.2 431.6 L303 436.3 L309.8 441.9 L316.6 448.2 L323.4 454.4 L330.2 460.2 L337 465.7 L343.8 470.8 L350.6 475.2 L357.4 479.2 L364.2 483.2 L371 487.4 L377.7 491.6 L384.5 495.3 L391.3 498.7 L398.1 501.7 L404.9 504.4 L411.7 506.6" fill="none" stroke="#c9ccd0" stroke-width="0.5" />
<path d="M183.5 347.1 L188.6 350.4 L193.2 353.6 L197.3 356.8 L200.8 360 L203.8 363.2 L206.3 366.4 L208.2 369.5 L209.6 372.6 L210.6 375.7 L213.4 374.8 L212.3 371.5 L210.7 368.1 L208.5 364.8 L205.8 361.5 L202.6 358.2 L198.8 355 L194.6 351.7 L189.8 348.5 L184.6 345.3Z" fill="#f3f4f6" stroke="#bbbec2" stroke-width="0.5" />
<path d="M194.3 341.1 L197.6 345 L200.6 348.8 L203.2 352.6 L205.5 356.4 L207.4 360.2 L209 363.9 L210.2 367.7 L211.2 371.4 L211.7 375.2 L214.7 374.7 L214 370.8 L212.9 366.9 L211.5 363 L209.7 359 L207.6 355.2 L205.2 351.3 L202.4 347.4 L199.3 343.6 L195.9 339.8Z" fill="#f3f4f6" stroke="#bbbec2" stroke-width="0.5" />
<path d="M203.6 340.6 L205.7 344.4 L207.5 348.2 L209.2 352 L210.6 355.7 L211.8 359.5 L212.8 363.2 L213.6 366.9 L214.2 370.6 L214.5 374.4 L217.5 374.1 L217.1 370.2 L216.4 366.4 L215.4 362.5 L214.3 358.7 L213 354.9 L211.4 351 L209.6 347.2 L207.6 343.4 L205.4 339.6Z" fill="#f3f4f6" stroke="#bbbec2" stroke-width="0.5" />
<path d="M217.2 349.3 L217.5 352 L217.8 354.6 L218 357.3 L218.2 359.9 L218.4 362.6 L218.5 365.3 L218.6 367.9 L218.7 370.6 L218.7 373.2 L221.7 373.2 L221.6 370.5 L221.4 367.8 L221.2 365.1 L221 362.4 L220.7 359.7 L220.4 357 L220.1 354.4 L219.7 351.7 L219.3 349Z" fill="#f3f4f6" stroke="#bbbec2" stroke-width="0.5" />
<path d="M229.3 356.2 L228 358.1 L226.9 360 L225.9 361.9 L225 363.8 L224.2 365.7 L223.5 367.7 L223 369.6 L222.6 371.6 L222.3 373.5 L225.2 373.9 L225.4 372 L225.7 370.2 L226.1 368.4 L226.6 366.6 L227.3 364.7 L228 362.9 L228.9 361.1 L229.9 359.2 L231.1 357.3Z" fill="#f3f4f6" stroke="#bbbec2" stroke-width="0.5" />
<path d="M241.7 362.4 L238.9 363.6 L236.3 364.8 L234.1 366.1 L232 367.3 L230.3 368.6 L228.8 369.9 L227.6 371.2 L226.6 372.6 L226 374 L228.7 375.2 L229.1 374 L229.8 372.9 L230.7 371.8 L232 370.6 L233.5 369.4 L235.3 368.1 L237.4 366.9 L239.8 365.6 L242.5 364.3Z" fill="#f3f4f6" stroke="#bbbec2" stroke-width="0.5" />
<path d="M251.9 365.9 L247.8 366.7 L244 367.6 L240.7 368.5 L237.7 369.4 L235.2 370.3 L233 371.3 L231.2 372.2 L229.8 373.3 L228.9 374.3 L231.1 376.2 L231.8 375.4 L232.8 374.6 L234.3 373.7 L236.2 372.7 L238.6 371.8 L241.4 370.8 L244.6 369.8 L248.3 368.9 L252.4 367.9Z" fill="#f3f4f6" stroke="#bbbec2" stroke-width="0.5" />
<path d="M253.2 368.8 L248.8 369.3 L244.9 369.9 L241.4 370.4 L238.3 371 L235.7 371.6 L233.4 372.2 L231.6 372.7 L230.1 373.4 L229.1 374 L230.9 376.5 L231.6 375.9 L232.6 375.3 L234.2 374.7 L236.3 374.1 L238.8 373.5 L241.8 372.8 L245.2 372.2 L249.1 371.5 L253.4 370.9Z" fill="#f3f4f6" stroke="#bbbec2" stroke-width="0.5" />
<path d="M243.3 372.2 L240.4 372.3 L237.8 372.4 L235.4 372.5 L233.4 372.6 L231.6 372.7 L230.1 372.9 L228.9 373 L228 373.1 L227.3 373.2 L228.1 376.1 L228.6 375.9 L229.4 375.7 L230.5 375.5 L231.9 375.3 L233.6 375.1 L235.6 374.9 L237.9 374.7 L240.5 374.5 L243.4 374.3Z" fill="#f3f4f6" stroke="#bbbec2" stroke-width="0.5" />
<path d="M239.2 375.9 L244.6 378.4 L249.5 380.9 L253.8 383.4 L257.5 385.9 L260.6 388.3 L263.2 390.8 L265.2 393.1 L266.7 395.5 L267.6 397.8 L270.4 396.7 L269.2 394.1 L267.4 391.4 L265.1 388.9 L262.3 386.3 L258.9 383.8 L255 381.3 L250.6 378.9 L245.6 376.4 L240.1 374Z" fill="#f3f4f6" stroke="#bbbec2" stroke-width="0.5" />
<path d="M247.4 370.1 L251.3 373.3 L254.7 376.4 L257.7 379.4 L260.3 382.5 L262.6 385.6 L264.4 388.6 L265.8 391.6 L266.9 394.6 L267.6 397.6 L270.5 396.9 L269.7 393.7 L268.4 390.5 L266.8 387.3 L264.7 384.1 L262.3 380.9 L259.5 377.8 L256.3 374.7 L252.7 371.6 L248.7 368.5Z" fill="#f3f4f6" stroke="#bbbec2" stroke-width="0.5" />
<path d="M259.3 369.3 L261.6 372.4 L263.6 375.4 L265.4 378.5 L266.9 381.5 L268.2 384.5 L269.3 387.5 L270.1 390.5 L270.8 393.5 L271.2 396.6 L274.1 396.1 L273.6 393 L272.9 389.8 L271.9 386.7 L270.6 383.5 L269.2 380.4 L267.4 377.3 L265.5 374.2 L263.3 371.1 L261 368Z" fill="#f3f4f6" stroke="#bbbec2" stroke-width="0.5" />
<path d="M272.9 370.7 L273.4 373.4 L273.8 376.2 L274.2 378.9 L274.5 381.7 L274.7 384.4 L275 387.1 L275.1 389.9 L275.2 392.6 L275.3 395.4 L278.3 395.3 L278.1 392.5 L277.9 389.7 L277.6 386.9 L277.3 384.1 L277 381.4 L276.5 378.6 L276 375.8 L275.5 373 L274.9 370.3Z" fill="#f3f4f6" stroke="#bbbec2" stroke-width="0.5" />
<path d="M284.8 371.2 L283.8 373.9 L282.8 376.6 L281.9 379.3 L281.1 382 L280.5 384.7 L279.9 387.4 L279.5 390.1 L279.1 392.8 L278.9 395.5 L281.8 395.7 L282 393.1 L282.2 390.4 L282.6 387.8 L283 385.2 L283.6 382.6 L284.2 379.9 L285 377.3 L285.8 374.6 L286.8 372Z" fill="#f3f4f6" stroke="#bbbec2" stroke-width="0.5" />
<path d="M297 372.2 L294.4 374.8 L292 377.4 L289.8 380 L288 382.7 L286.3 385.4 L285 388.1 L283.9 390.8 L283 393.5 L282.5 396.2 L285.4 396.8 L285.8 394.2 L286.5 391.7 L287.4 389.2 L288.6 386.6 L290.1 384 L291.8 381.5 L293.7 378.9 L296 376.3 L298.5 373.6Z" fill="#f3f4f6" stroke="#bbbec2" stroke-width="0.5" />
<path d="M307.2 374 L303.3 376.4 L299.7 378.9 L296.6 381.4 L293.7 383.9 L291.3 386.4 L289.3 389 L287.6 391.6 L286.3 394.2 L285.5 396.8 L288.4 397.7 L289.1 395.3 L290.1 392.9 L291.5 390.6 L293.3 388.1 L295.5 385.7 L298.1 383.2 L301.1 380.8 L304.5 378.3 L308.4 375.8Z" fill="#f3f4f6" stroke="#bbbec2" stroke-width="0.5" />
<path d="M308.5 378 L304.3 380 L300.6 382 L297.3 384 L294.3 386.1 L291.8 388.1 L289.6 390.2 L287.8 392.4 L286.5 394.6 L285.6 396.7 L288.4 397.8 L289.1 395.9 L290.1 394 L291.6 392 L293.5 390.1 L295.8 388.1 L298.6 386 L301.8 384 L305.4 381.9 L309.4 379.9Z" fill="#f3f4f6" stroke="#bbbec2" stroke-width="0.5" />
<path d="M298.5 381.2 L295.7 382.8 L293.2 384.4 L290.9 386 L288.9 387.6 L287.1 389.3 L285.7 390.9 L284.4 392.6 L283.5 394.4 L282.9 396.1 L285.7 397 L286.2 395.5 L286.9 394.1 L287.8 392.6 L289 391 L290.6 389.5 L292.4 387.9 L294.5 386.3 L296.9 384.6 L299.6 383Z" fill="#f3f4f6" stroke="#bbbec2" stroke-width="0.5" />
<path d="M337 406.4 L342.1 410.7 L346.5 415 L350.5 419.3 L354 423.5 L356.9 427.8 L359.3 432 L361.2 436.2 L362.6 440.4 L363.5 444.6 L366.5 443.9 L365.4 439.6 L363.8 435.1 L361.7 430.7 L359.1 426.4 L356 422 L352.3 417.7 L348.2 413.4 L343.5 409.1 L338.4 404.8Z" fill="#f3f4f6" stroke="#bbbec2" stroke-width="0.5" />
<path d="M345.3 399.1 L348.9 404.2 L352 409.2 L354.9 414.3 L357.3 419.3 L359.4 424.3 L361.1 429.3 L362.5 434.3 L363.5 439.3 L364.2 444.3 L367.1 443.9 L366.4 438.8 L365.2 433.6 L363.7 428.5 L361.8 423.4 L359.6 418.2 L357 413.1 L354 408 L350.7 403 L347 397.9Z" fill="#f3f4f6" stroke="#bbbec2" stroke-width="0.5" />
<path d="M357.2 399.6 L359.2 404.5 L361 409.4 L362.6 414.2 L364 419.1 L365.1 423.9 L366.1 428.8 L366.9 433.6 L367.4 438.4 L367.8 443.3 L370.7 443.1 L370.3 438.1 L369.6 433.2 L368.8 428.3 L367.7 423.3 L366.4 418.4 L364.9 413.5 L363.2 408.6 L361.2 403.7 L359.1 398.8Z" fill="#f3f4f6" stroke="#bbbec2" stroke-width="0.5" />
<path d="M370.9 406.9 L371.1 410.8 L371.3 414.8 L371.5 418.7 L371.6 422.6 L371.7 426.5 L371.8 430.4 L371.9 434.3 L371.9 438.3 L371.9 442.2 L374.9 442.1 L374.8 438.2 L374.7 434.3 L374.5 430.3 L374.3 426.4 L374.1 422.5 L373.9 418.6 L373.6 414.6 L373.3 410.7 L373 406.8Z" fill="#f3f4f6" stroke="#bbbec2" stroke-width="0.5" />
<path d="M382.9 416 L381.6 418.9 L380.4 421.9 L379.3 424.8 L378.3 427.8 L377.5 430.7 L376.8 433.7 L376.2 436.7 L375.8 439.7 L375.5 442.6 L378.5 442.9 L378.7 440 L379 437.1 L379.4 434.2 L380 431.3 L380.7 428.5 L381.5 425.6 L382.5 422.7 L383.6 419.8 L384.8 416.8Z" fill="#f3f4f6" stroke="#bbbec2" stroke-width="0.5" />
<path d="M395.2 425.4 L392.3 427.3 L389.7 429.2 L387.3 431.2 L385.2 433.1 L383.4 435.1 L381.9 437.1 L380.7 439.1 L379.7 441.2 L379.1 443.2 L382 444 L382.5 442.2 L383.2 440.4 L384.2 438.6 L385.5 436.7 L387.1 434.9 L388.9 433 L391.1 431 L393.6 429.1 L396.4 427.1Z" fill="#f3f4f6" stroke="#bbbec2" stroke-width="0.5" />
<path d="M405.6 434.7 L401.4 435.6 L397.5 436.5 L394 437.4 L391 438.3 L388.4 439.3 L386.2 440.2 L384.3 441.2 L382.8 442.2 L381.9 443.3 L384.1 445.2 L384.8 444.4 L385.8 443.5 L387.4 442.6 L389.4 441.7 L391.8 440.7 L394.7 439.7 L398.1 438.7 L401.9 437.8 L406.1 436.8Z" fill="#f3f4f6" stroke="#bbbec2" stroke-width="0.5" />
<path d="M407 441.7 L402.5 441.8 L398.5 441.9 L394.9 442 L391.8 442.1 L389.1 442.3 L386.8 442.4 L385 442.5 L383.6 442.6 L382.7 442.8 L383.3 445.7 L384.1 445.5 L385.3 445.3 L387.1 445.1 L389.3 444.9 L391.9 444.6 L395 444.4 L398.6 444.2 L402.6 444 L407 443.7Z" fill="#f3f4f6" stroke="#bbbec2" stroke-width="0.5" />
<path d="M397.2 445.6 L394.2 445.2 L391.5 444.8 L389.1 444.5 L387.1 444.1 L385.3 443.7 L383.9 443.4 L382.8 443 L382.1 442.7 L381.6 442.4 L380.2 445 L380.9 445.4 L382 445.7 L383.3 446 L384.8 446.3 L386.7 446.6 L388.8 446.8 L391.2 447.1 L393.9 447.4 L397 447.7Z" fill="#f3f4f6" stroke="#bbbec2" stroke-width="0.5" />
<path d="M391.5 448.5 L396.3 451.6 L400.5 454.7 L404.3 457.8 L407.6 460.8 L410.3 463.8 L412.6 466.8 L414.4 469.8 L415.7 472.7 L416.6 475.7 L419.4 474.8 L418.4 471.7 L416.9 468.4 L414.8 465.3 L412.3 462.1 L409.3 459 L405.8 455.9 L401.9 452.9 L397.5 449.8 L392.6 446.8Z" fill="#f3f4f6" stroke="#bbbec2" stroke-width="0.5" />
<path d="M399.7 440.4 L403.1 444.3 L406.1 448.2 L408.8 452.1 L411.1 456 L413.1 459.9 L414.7 463.7 L416 467.6 L416.9 471.4 L417.6 475.2 L420.5 474.7 L419.8 470.8 L418.7 466.7 L417.2 462.7 L415.4 458.7 L413.3 454.8 L410.8 450.8 L407.9 446.8 L404.8 442.9 L401.2 439Z" fill="#f3f4f6" stroke="#bbbec2" stroke-width="0.5" />
<path d="M411.6 440.7 L413.4 444.5 L415 448.2 L416.5 451.9 L417.7 455.7 L418.8 459.4 L419.7 463.1 L420.3 466.8 L420.8 470.5 L421.2 474.2 L424.1 473.9 L423.7 470.1 L423.1 466.3 L422.3 462.5 L421.3 458.7 L420.1 454.9 L418.7 451.1 L417.1 447.3 L415.4 443.5 L413.4 439.8Z" fill="#f3f4f6" stroke="#bbbec2" stroke-width="0.5" />
<path d="M425.2 447.5 L425.3 450.3 L425.3 453.2 L425.3 456 L425.3 458.9 L425.4 461.7 L425.3 464.5 L425.3 467.4 L425.3 470.2 L425.3 473.1 L428.3 473 L428.2 470.2 L428.1 467.3 L428 464.5 L428 461.7 L427.8 458.8 L427.7 456 L427.6 453.1 L427.5 450.3 L427.3 447.4Z" fill="#f3f4f6" stroke="#bbbec2" stroke-width="0.5" />
<path d="M437.3 453.3 L435.8 455.5 L434.4 457.7 L433.2 460 L432.1 462.2 L431.1 464.5 L430.4 466.8 L429.7 469.1 L429.2 471.4 L428.9 473.7 L431.8 474 L432.1 471.8 L432.4 469.7 L432.9 467.6 L433.6 465.4 L434.4 463.2 L435.3 461 L436.4 458.8 L437.7 456.6 L439.1 454.4Z" fill="#f3f4f6" stroke="#bbbec2" stroke-width="0.5" />
<path d="M449.6 458.6 L446.6 460.3 L443.8 462 L441.3 463.7 L439.1 465.4 L437.2 467.1 L435.5 468.8 L434.2 470.6 L433.2 472.5 L432.5 474.2 L435.4 475.2 L435.9 473.6 L436.6 472.1 L437.7 470.5 L439 468.9 L440.7 467.2 L442.7 465.6 L445 463.9 L447.7 462.2 L450.6 460.5Z" fill="#f3f4f6" stroke="#bbbec2" stroke-width="0.5" />
<path d="M459.9 463.5 L455.4 464.6 L451.3 465.8 L447.6 466.9 L444.4 468.1 L441.6 469.3 L439.3 470.5 L437.3 471.7 L435.8 473.1 L434.8 474.4 L437.2 476.1 L437.9 475 L439.1 474 L440.7 472.8 L442.8 471.6 L445.4 470.4 L448.4 469.2 L452 468 L456 466.7 L460.5 465.5Z" fill="#f3f4f6" stroke="#bbbec2" stroke-width="0.5" />
<path d="M461.2 468.3 L456.4 468.9 L452.2 469.5 L448.4 470.1 L445.1 470.7 L442.2 471.4 L439.8 472 L437.8 472.6 L436.2 473.3 L435.1 474 L436.9 476.5 L437.6 475.8 L438.8 475.2 L440.6 474.6 L442.8 473.9 L445.6 473.2 L448.8 472.5 L452.6 471.8 L456.8 471.1 L461.5 470.4Z" fill="#f3f4f6" stroke="#bbbec2" stroke-width="0.5" />
<path d="M451.4 472.5 L448.2 472.6 L445.3 472.7 L442.7 472.8 L440.5 472.9 L438.6 473 L437 473.1 L435.7 473.2 L434.7 473.3 L434 473.4 L434.7 476.3 L435.2 476.1 L436.1 475.9 L437.3 475.7 L438.8 475.5 L440.7 475.4 L442.9 475.2 L445.4 475 L448.3 474.8 L451.4 474.6Z" fill="#f3f4f6" stroke="#bbbec2" stroke-width="0.5" />
<path d="M262 365.8 L257.7 365.7 L253.3 366.6 L249.1 367.8 L244.8 369.3 L240.6 371.1 L236.4 373.2 L232.2 375.6 L227.9 378.4 L223.7 381.5 L219.5 385 L215.3 388.9 L211.1 393.2 L206.9 397.9 L202.7 403.3 L198.5 410.4 L201.4 412.1 L205.5 405.2 L209.5 400.1 L213.6 395.5 L217.7 391.3 L221.8 387.6 L225.8 384.2 L229.9 381.2 L233.9 378.5 L238 376.2 L242 374.2 L246.1 372.5 L250.1 371 L254.1 369.9 L258 369.1 L261.9 369.2Z" fill="#f5f6f7" stroke="#b7babe" stroke-width="0.55" stroke-linejoin="round"/>
<path d="M321.7 376.8 L317.4 376.6 L313 377.4 L308.7 378.4 L304.5 379.8 L300.3 381.5 L296 383.4 L291.8 385.6 L287.6 388.2 L283.4 391.1 L279.2 394.4 L275 398.1 L270.8 402.1 L266.6 406.6 L262.3 411.6 L258.2 418.4 L261 420.2 L265.1 413.6 L269.1 408.8 L273.2 404.5 L277.3 400.6 L281.3 397 L285.4 393.9 L289.5 391.1 L293.5 388.6 L297.6 386.4 L301.6 384.6 L305.6 383 L309.7 381.7 L313.7 380.7 L317.6 380 L321.5 380.2Z" fill="#f5f6f7" stroke="#b7babe" stroke-width="0.55" stroke-linejoin="round"/>
<path d="M350.8 391.3 L346.5 391.2 L342.1 392 L337.9 393.2 L333.6 394.6 L329.4 396.3 L325.2 398.3 L321 400.5 L316.7 403.2 L312.5 406.1 L308.3 409.4 L304.1 413 L299.9 417.1 L295.7 421.5 L291.5 426.6 L287.3 433.3 L290.2 435.1 L294.3 428.6 L298.3 423.8 L302.4 419.5 L306.4 415.6 L310.5 412 L314.6 408.8 L318.6 406 L322.7 403.5 L326.7 401.3 L330.8 399.4 L334.8 397.8 L338.8 396.4 L342.9 395.3 L346.8 394.6 L350.7 394.7Z" fill="#f5f6f7" stroke="#b7babe" stroke-width="0.55" stroke-linejoin="round"/>
<path d="M412.9 436.3 L408.6 436.6 L404.3 437.8 L400 439.2 L395.8 441 L391.6 442.9 L387.4 445.2 L383.2 447.7 L379 450.6 L374.8 453.8 L370.6 457.3 L366.4 461.1 L362.2 465.3 L358 470 L353.8 475.2 L349.6 481.9 L352.5 483.7 L356.5 477.1 L360.6 472.2 L364.7 467.7 L368.7 463.6 L372.8 459.8 L376.9 456.4 L380.9 453.4 L385 450.6 L389.1 448.2 L393.1 446 L397.2 444.1 L401.2 442.4 L405.3 441 L409.2 439.9 L413.1 439.7Z" fill="#f5f6f7" stroke="#b7babe" stroke-width="0.55" stroke-linejoin="round"/>
<path d="M310 380.7 L312.7 381.9 L315.3 383 L317.9 384.2 L320.6 385.5 L323.2 386.8 L325.8 388.2 L328.5 389.6 L331.1 391.1 L333.8 392.5 L336.4 393.9 L339.1 395.4 L340.1 393.5 L337.5 392 L334.8 390.6 L332.2 389.1 L329.5 387.7 L326.9 386.3 L324.2 384.9 L321.5 383.5 L318.9 382.3 L316.2 381 L313.5 379.9 L310.9 378.7Z" fill="#f5f6f7" stroke="#c4c7cb" stroke-width="0.55" stroke-linejoin="round"/>
<path d="M300.1 384.2 L302.7 385.3 L305.4 386.5 L308 387.7 L310.6 388.9 L313.3 390.3 L315.9 391.6 L318.5 393 L321.2 394.5 L323.8 396 L326.5 397.5 L329.1 399 L330.2 397.1 L327.6 395.6 L324.9 394.1 L322.3 392.6 L319.6 391.1 L316.9 389.7 L314.3 388.3 L311.6 387 L308.9 385.7 L306.3 384.4 L303.6 383.3 L300.9 382.2Z" fill="#f5f6f7" stroke="#c4c7cb" stroke-width="0.55" stroke-linejoin="round"/>
<path d="M290.2 389.3 L292.8 390.4 L295.5 391.5 L298.1 392.7 L300.7 394 L303.4 395.3 L306 396.7 L308.6 398.1 L311.3 399.6 L313.9 401.1 L316.5 402.7 L319.2 404.2 L320.3 402.3 L317.7 400.8 L315 399.2 L312.3 397.7 L309.7 396.2 L307 394.7 L304.3 393.4 L301.7 392 L299 390.8 L296.3 389.5 L293.7 388.4 L291 387.3Z" fill="#f5f6f7" stroke="#c4c7cb" stroke-width="0.55" stroke-linejoin="round"/>
<path d="M280.3 396.4 L282.9 397.4 L285.5 398.5 L288.2 399.7 L290.8 401 L293.4 402.3 L296.1 403.6 L298.7 405.1 L301.3 406.6 L304 408.1 L306.6 409.7 L309.3 411.3 L310.4 409.4 L307.7 407.8 L305.1 406.3 L302.4 404.7 L299.8 403.1 L297.1 401.7 L294.4 400.3 L291.8 399 L289.1 397.7 L286.4 396.5 L283.7 395.4 L281.1 394.4Z" fill="#f5f6f7" stroke="#c4c7cb" stroke-width="0.55" stroke-linejoin="round"/>
<path d="M270.4 405.6 L273 406.6 L275.6 407.7 L278.2 408.8 L280.9 410.1 L283.5 411.4 L286.2 412.7 L288.8 414.1 L291.4 415.7 L294 417.3 L296.7 418.9 L299.3 420.5 L300.5 418.6 L297.8 417 L295.2 415.4 L292.5 413.8 L289.9 412.2 L287.2 410.7 L284.5 409.4 L281.8 408.1 L279.2 406.8 L276.5 405.6 L273.8 404.5 L271.1 403.5Z" fill="#f5f6f7" stroke="#c4c7cb" stroke-width="0.55" stroke-linejoin="round"/>
<path d="M241.3 373.6 L246.8 374.6 L252.2 375.4 L257.7 375.9 L263.1 376.4 L268.5 376.9 L273.9 377.4 L279.3 378 L284.7 378.8 L290 380.1 L295.3 381.9 L300.7 384 L301.5 381.9 L296.1 379.8 L290.6 378 L285.1 376.7 L279.6 375.8 L274.2 375.2 L268.7 374.7 L263.3 374.2 L257.9 373.7 L252.5 373.2 L247.1 372.4 L241.7 371.5Z" fill="#f5f6f7" stroke="#c4c7cb" stroke-width="0.55" stroke-linejoin="round"/>
<path d="M329.7 398.7 L335.4 402 L341 405.4 L346.6 409.3 L352.2 413.6 L357.9 418.4 L363.5 423.2 L369.2 428 L374.9 432.7 L380.6 437.3 L386.3 441.5 L392 445.3 L393.2 443.4 L387.5 439.7 L381.9 435.5 L376.3 431 L370.6 426.3 L365 421.6 L359.3 416.7 L353.6 411.9 L347.9 407.5 L342.2 403.6 L336.5 400.1 L330.8 396.8Z" fill="#f5f6f7" stroke="#c4c7cb" stroke-width="0.55" stroke-linejoin="round"/>
<path d="M220.2 387.5 L225.7 388.7 L231.1 389.6 L236.6 390.2 L242 390.6 L247.5 390.9 L252.9 391.3 L258.2 391.9 L263.6 392.6 L269 393.7 L274.3 395.1 L279.7 396.9 L280.4 394.8 L275 393 L269.5 391.6 L264 390.5 L258.5 389.7 L253.1 389.1 L247.6 388.8 L242.2 388.4 L236.8 388 L231.4 387.4 L226.1 386.5 L220.7 385.4Z" fill="#f5f6f7" stroke="#c4c7cb" stroke-width="0.55" stroke-linejoin="round"/>
<path d="M308.6 411.8 L314.3 415.3 L319.9 419.1 L325.5 423.5 L331.1 428.3 L336.8 433.4 L342.5 438.3 L348.1 443 L353.8 447.7 L359.5 452.1 L365.2 456.1 L370.9 459.7 L372.1 457.8 L366.4 454.3 L360.8 450.3 L355.2 446 L349.5 441.3 L343.9 436.6 L338.2 431.7 L332.6 426.6 L326.9 421.7 L321.2 417.3 L315.5 413.5 L309.8 409.9Z" fill="#f5f6f7" stroke="#c4c7cb" stroke-width="0.55" stroke-linejoin="round"/>
<path d="M188.8 341.6 L194 345.7 L199.2 349.6 L204.4 353.2 L209.6 356.4 L214.8 359.6 L220.1 362.6 L225.3 365.2 L230.6 367.3 L235.8 369 L241 370.4 L246.2 371.6 L246.7 369.4 L241.6 368.2 L236.4 366.9 L231.3 365.2 L226.2 363.2 L221.1 360.7 L216 357.7 L210.8 354.6 L205.6 351.3 L200.5 347.8 L195.4 344 L190.2 339.9Z" fill="#f5f6f7" stroke="#c4c7cb" stroke-width="0.55" stroke-linejoin="round"/>
<path d="M396.9 443 L402.1 446.2 L407.3 449.3 L412.5 452.3 L417.7 455.3 L422.9 458.1 L428.1 460.7 L433.3 463.2 L438.5 465.5 L443.7 467.7 L448.9 469.7 L454.1 471.6 L454.9 469.5 L449.7 467.7 L444.6 465.7 L439.4 463.5 L434.2 461.2 L429.1 458.8 L423.9 456.1 L418.8 453.3 L413.6 450.4 L408.4 447.4 L403.3 444.3 L398.1 441.1Z" fill="#f5f6f7" stroke="#c4c7cb" stroke-width="0.55" stroke-linejoin="round"/>
<path d="M173.3 349.4 L178.5 353.8 L183.7 357.8 L188.9 361.3 L194.1 364.6 L199.4 367.6 L204.6 370.5 L209.8 373 L215.1 375 L220.3 376.7 L225.5 378.2 L230.7 379.4 L231.2 377.3 L226.1 376.1 L220.9 374.6 L215.8 372.9 L210.7 371 L205.6 368.5 L200.4 365.7 L195.3 362.7 L190.1 359.5 L185 356 L179.9 352.1 L174.7 347.7Z" fill="#f5f6f7" stroke="#c4c7cb" stroke-width="0.55" stroke-linejoin="round"/>
<path d="M381.5 451.5 L386.6 454.6 L391.8 457.7 L397 460.8 L402.2 463.9 L407.4 466.8 L412.6 469.5 L417.8 472 L423 474.4 L428.2 476.6 L433.4 478.6 L438.6 480.4 L439.4 478.3 L434.2 476.5 L429.1 474.6 L423.9 472.4 L418.7 470 L413.6 467.5 L408.4 464.9 L403.3 462 L398.1 458.9 L392.9 455.8 L387.8 452.7 L382.6 449.6Z" fill="#f5f6f7" stroke="#c4c7cb" stroke-width="0.55" stroke-linejoin="round"/>
<path d="M157.8 362.3 L163 366.8 L168.2 370.9 L173.4 374.5 L178.7 377.7 L183.9 380.6 L189.1 383.3 L194.3 385.6 L199.6 387.7 L204.8 389.4 L210 390.9 L215.2 392.2 L215.7 390.1 L210.6 388.8 L205.4 387.3 L200.3 385.6 L195.2 383.6 L190.1 381.3 L184.9 378.7 L179.8 375.8 L174.6 372.6 L169.5 369.2 L164.4 365.1 L159.2 360.6Z" fill="#f5f6f7" stroke="#c4c7cb" stroke-width="0.55" stroke-linejoin="round"/>
<path d="M366 464.3 L371.1 467.4 L376.3 470.5 L381.5 473.6 L386.7 476.8 L391.9 479.8 L397.1 482.5 L402.3 485.1 L407.5 487.5 L412.7 489.7 L418 491.6 L423.2 493.4 L423.8 491.3 L418.7 489.6 L413.5 487.6 L408.4 485.5 L403.3 483.1 L398.1 480.6 L393 477.9 L387.8 474.9 L382.6 471.8 L377.5 468.6 L372.3 465.5 L367.1 462.4Z" fill="#f5f6f7" stroke="#c4c7cb" stroke-width="0.55" stroke-linejoin="round"/>
<ellipse cx="221" cy="375" rx="8.6" ry="3.9" fill="#f3f4f5" stroke="#a4a7ab" stroke-width="0.85"/>
<ellipse cx="221" cy="375.4" rx="6.2" ry="2.4" fill="#ffffff" stroke="#b4b7bb" stroke-width="0.6"/>
<ellipse cx="278" cy="397" rx="8.6" ry="3.9" fill="#f3f4f5" stroke="#a4a7ab" stroke-width="0.85"/>
<ellipse cx="278" cy="397.4" rx="6.2" ry="2.4" fill="#ffffff" stroke="#b4b7bb" stroke-width="0.6"/>
<ellipse cx="374" cy="444" rx="8.6" ry="3.9" fill="#f3f4f5" stroke="#a4a7ab" stroke-width="0.85"/>
<ellipse cx="374" cy="444.4" rx="6.2" ry="2.4" fill="#ffffff" stroke="#b4b7bb" stroke-width="0.6"/>
<ellipse cx="427" cy="475" rx="8.6" ry="3.9" fill="#f3f4f5" stroke="#a4a7ab" stroke-width="0.85"/>
<ellipse cx="427" cy="475.4" rx="6.2" ry="2.4" fill="#ffffff" stroke="#b4b7bb" stroke-width="0.6"/>
<rect x="178" y="403" width="19" height="43" fill="#f8f8f9"/>
<path d="M177.5 403V445.5M180.4 405.5V446.4M183.2 405.5V448.4M186.1 405.5V448.1M188.9 405.5V448.9M191.8 405.5V447.6M194.6 405.5V447.2M197.5 403V444.7" fill="none" stroke="#b3b6ba" stroke-width="0.55" />
<path d="M178.9 407V446M181.8 407V446M184.6 407V446M187.5 407V446M190.4 407V446M193.2 407V446M196.1 407V446" fill="none" stroke="#dcdee1" stroke-width="0.5" />
<line x1="184.9" y1="406.7" x2="184.9" y2="437" stroke="#808387" stroke-width="1.2" stroke-dasharray="1.4 1.3"/>
<line x1="189.5" y1="408.5" x2="189.5" y2="439.8" stroke="#808387" stroke-width="1.2" stroke-dasharray="1.4 1.3"/>
<path d="M188.5 403.5L189.9 407.5M190.5 403.7L191.9 407.8M192.5 403.9L193.9 408.1M194.5 404.1L195.9 408.4M196.5 404.3L197.9 408.7M179 404.5L179.8 408M181.4 404.5L182.2 408M183.8 404.5L184.6 408" fill="none" stroke="#96999d" stroke-width="0.7" />
<path d="M166.5 400.2 L169 401.3 L171.2 402.8 L173.1 404.8 L174.6 407.3 L175.8 410.3 L176.7 413.7 L177.3 417.6 L177.5 422" fill="none" stroke="#b3b6ba" stroke-width="0.6" />
<path d="M170.3 401.8 L172.5 402.6 L174.3 403.7 L176 405.2 L177.3 407.2 L178.4 409.6 L179.2 412.3 L179.7 415.4 L179.9 419" fill="none" stroke="#cdd0d3" stroke-width="0.5" />
<path d="M205.9 397 L203.8 398.6 L202 400.7 L200.5 403.1 L199.3 406 L198.4 409.2 L197.8 412.9 L197.5 417" fill="none" stroke="#b3b6ba" stroke-width="0.6" />
<rect x="239" y="425" width="19" height="46.5" fill="#f8f8f9"/>
<path d="M238.5 425V471M241.4 427.5V471.9M244.2 427.5V473.9M247.1 427.5V473.6M249.9 427.5V474.4M252.8 427.5V473.1M255.6 427.5V472.7M258.5 425V470.2" fill="none" stroke="#b3b6ba" stroke-width="0.55" />
<path d="M239.9 429V471.5M242.8 429V471.5M245.6 429V471.5M248.5 429V471.5M251.4 429V471.5M254.2 429V471.5M257.1 429V471.5" fill="none" stroke="#dcdee1" stroke-width="0.5" />
<line x1="245.9" y1="429" x2="245.9" y2="461.6" stroke="#808387" stroke-width="1.2" stroke-dasharray="1.4 1.3"/>
<line x1="250.5" y1="430.9" x2="250.5" y2="464.6" stroke="#808387" stroke-width="1.2" stroke-dasharray="1.4 1.3"/>
<path d="M249.5 425.5L250.9 429.5M251.5 425.7L252.9 429.8M253.5 425.9L254.9 430.1M255.5 426.1L256.9 430.4M257.5 426.3L258.9 430.7M240 426.5L240.8 430M242.4 426.5L243.2 430M244.8 426.5L245.6 430" fill="none" stroke="#96999d" stroke-width="0.7" />
<path d="M227.5 422.2 L230 423.3 L232.2 424.8 L234.1 426.8 L235.6 429.3 L236.8 432.3 L237.7 435.7 L238.3 439.6 L238.5 444" fill="none" stroke="#b3b6ba" stroke-width="0.6" />
<path d="M231.3 423.8 L233.5 424.6 L235.4 425.7 L237 427.2 L238.3 429.2 L239.4 431.6 L240.1 434.3 L240.7 437.4 L240.9 441" fill="none" stroke="#cdd0d3" stroke-width="0.5" />
<path d="M266.9 419 L264.8 420.6 L263 422.7 L261.5 425.1 L260.3 428 L259.4 431.2 L258.8 434.9 L258.5 439" fill="none" stroke="#b3b6ba" stroke-width="0.6" />
<rect x="325.5" y="472" width="19" height="40.6" fill="#f8f8f9"/>
<path d="M325 472V512.1M327.9 474.5V513M330.7 474.5V515M333.6 474.5V514.7M336.4 474.5V515.5M339.3 474.5V514.2M342.1 474.5V513.8M345 472V511.3" fill="none" stroke="#b3b6ba" stroke-width="0.55" />
<path d="M326.4 476V512.6M329.3 476V512.6M332.1 476V512.6M335 476V512.6M337.9 476V512.6M340.7 476V512.6M343.6 476V512.6" fill="none" stroke="#dcdee1" stroke-width="0.5" />
<line x1="332.4" y1="475.5" x2="332.4" y2="504.3" stroke="#808387" stroke-width="1.2" stroke-dasharray="1.4 1.3"/>
<line x1="337" y1="477.2" x2="337" y2="506.9" stroke="#808387" stroke-width="1.2" stroke-dasharray="1.4 1.3"/>
<path d="M336 472.5L337.4 476.5M338 472.7L339.4 476.8M340 472.9L341.4 477.1M342 473.1L343.4 477.4M344 473.3L345.4 477.7M326.5 473.5L327.3 477M328.9 473.5L329.7 477M331.3 473.5L332.1 477" fill="none" stroke="#96999d" stroke-width="0.7" />
<path d="M314 469.2 L316.5 470.3 L318.7 471.8 L320.6 473.8 L322.1 476.3 L323.3 479.3 L324.2 482.7 L324.8 486.6 L325 491" fill="none" stroke="#b3b6ba" stroke-width="0.6" />
<path d="M317.8 470.8 L320 471.6 L321.9 472.7 L323.5 474.2 L324.8 476.2 L325.9 478.6 L326.6 481.3 L327.2 484.4 L327.4 488" fill="none" stroke="#cdd0d3" stroke-width="0.5" />
<path d="M353.4 466 L351.3 467.6 L349.5 469.7 L348 472.1 L346.8 475 L345.9 478.2 L345.3 481.9 L345 486" fill="none" stroke="#b3b6ba" stroke-width="0.6" />
<rect x="384.5" y="503" width="19" height="39" fill="#f8f8f9"/>
<path d="M384 503V541.5M386.9 505.5V542.4M389.7 505.5V544.4M392.6 505.5V544.1M395.4 505.5V544.9M398.3 505.5V543.6M401.1 505.5V543.2M404 503V540.7" fill="none" stroke="#b3b6ba" stroke-width="0.55" />
<path d="M385.4 507V542M388.3 507V542M391.1 507V542M394 507V542M396.9 507V542M399.7 507V542M402.6 507V542" fill="none" stroke="#dcdee1" stroke-width="0.5" />
<line x1="391.4" y1="506.4" x2="391.4" y2="534.1" stroke="#808387" stroke-width="1.2" stroke-dasharray="1.4 1.3"/>
<line x1="396" y1="508" x2="396" y2="536.6" stroke="#808387" stroke-width="1.2" stroke-dasharray="1.4 1.3"/>
<path d="M395 503.5L396.4 507.5M397 503.7L398.4 507.8M399 503.9L400.4 508.1M401 504.1L402.4 508.4M403 504.3L404.4 508.7M385.5 504.5L386.3 508M387.9 504.5L388.7 508M390.3 504.5L391.1 508" fill="none" stroke="#96999d" stroke-width="0.7" />
<path d="M373 500.2 L375.5 501.3 L377.7 502.8 L379.6 504.8 L381.1 507.3 L382.3 510.3 L383.2 513.7 L383.8 517.6 L384 522" fill="none" stroke="#b3b6ba" stroke-width="0.6" />
<path d="M376.8 501.8 L379 502.6 L380.9 503.7 L382.5 505.2 L383.8 507.2 L384.9 509.6 L385.6 512.3 L386.2 515.5 L386.4 519" fill="none" stroke="#cdd0d3" stroke-width="0.5" />
<path d="M412.4 497 L410.3 498.6 L408.5 500.7 L407 503.1 L405.8 506 L404.9 509.2 L404.3 512.9 L404 517" fill="none" stroke="#b3b6ba" stroke-width="0.6" />
<path d="M143.6 382.3 L150.1 384.2 L156 386.1 L161.1 388.1 L165.6 390 L169.4 391.9 L172.5 393.7 L174.9 395.6 L176.6 397.3 L177.8 399.1 L180.2 397.4 L178.8 395.4 L176.7 393.4 L174 391.5 L170.6 389.6 L166.6 387.7 L162 385.8 L156.7 384 L150.8 382.1 L144.2 380.3Z" fill="#f3f4f6" stroke="#bbbec2" stroke-width="0.5" />
<path d="M154.7 367 L159.1 370.6 L163 374.2 L166.4 377.7 L169.3 381.2 L171.9 384.7 L173.9 388.2 L175.6 391.7 L176.8 395.1 L177.5 398.6 L180.5 397.9 L179.5 394.3 L178.1 390.6 L176.3 386.9 L174 383.3 L171.3 379.7 L168.1 376.1 L164.5 372.5 L160.5 368.9 L156.1 365.4Z" fill="#f3f4f6" stroke="#bbbec2" stroke-width="0.5" />
<path d="M167 357.3 L169.5 361.8 L171.8 366.3 L173.9 370.8 L175.6 375.3 L177.1 379.8 L178.3 384.3 L179.3 388.7 L180 393.2 L180.5 397.7 L183.5 397.3 L182.9 392.8 L182.1 388.2 L181 383.6 L179.6 379 L178 374.4 L176.1 369.8 L173.9 365.3 L171.5 360.7 L168.8 356.2Z" fill="#f3f4f6" stroke="#bbbec2" stroke-width="0.5" />
<path d="M184.1 356.5 L184.4 360.9 L184.7 365.3 L184.9 369.7 L185.2 374.1 L185.3 378.6 L185.5 383 L185.6 387.4 L185.6 391.8 L185.6 396.2 L188.6 396.2 L188.5 391.8 L188.4 387.3 L188.2 382.9 L187.9 378.4 L187.7 374 L187.3 369.6 L187 365.1 L186.6 360.7 L186.2 356.3Z" fill="#f3f4f6" stroke="#bbbec2" stroke-width="0.5" />
<path d="M199.2 361.9 L197.6 365.8 L196.1 369.6 L194.7 373.5 L193.6 377.4 L192.6 381.3 L191.7 385.1 L191 389 L190.5 392.9 L190.2 396.8 L193.1 397 L193.4 393.2 L193.8 389.4 L194.4 385.6 L195.1 381.8 L196 378 L197 374.2 L198.2 370.4 L199.6 366.6 L201.1 362.7Z" fill="#f3f4f6" stroke="#bbbec2" stroke-width="0.5" />
<path d="M211.4 369.6 L208.2 372.6 L205.3 375.7 L202.7 378.8 L200.4 381.9 L198.5 385 L196.8 388.1 L195.5 391.2 L194.5 394.4 L193.8 397.5 L196.7 398.1 L197.3 395.1 L198.1 392.2 L199.3 389.2 L200.7 386.3 L202.5 383.3 L204.6 380.2 L207.1 377.2 L209.8 374.2 L212.9 371.1Z" fill="#f3f4f6" stroke="#bbbec2" stroke-width="0.5" />
<path d="M218.6 377 L214.5 379.2 L210.7 381.5 L207.3 383.7 L204.3 386 L201.8 388.3 L199.6 390.6 L197.8 393 L196.5 395.4 L195.6 397.7 L198.4 398.8 L199.1 396.6 L200.2 394.5 L201.7 392.3 L203.6 390.1 L206 387.9 L208.7 385.7 L211.9 383.4 L215.6 381.1 L219.6 378.9Z" fill="#f3f4f6" stroke="#bbbec2" stroke-width="0.5" />
<path d="M219.4 386.1 L215.2 387.3 L211.3 388.5 L207.9 389.7 L204.8 390.9 L202.2 392.2 L200 393.4 L198.2 394.7 L196.7 396.1 L195.7 397.4 L198.3 399.1 L198.9 397.9 L200 396.8 L201.5 395.7 L203.5 394.4 L205.9 393.2 L208.8 391.9 L212.1 390.7 L215.8 389.4 L220 388.1Z" fill="#f3f4f6" stroke="#bbbec2" stroke-width="0.5" />
<path d="M213.8 396.8 L210.4 396.7 L207.4 396.7 L204.7 396.6 L202.4 396.6 L200.4 396.6 L198.7 396.5 L197.4 396.5 L196.4 396.5 L195.7 396.4 L195.8 399.4 L196.4 399.4 L197.4 399.3 L198.7 399.2 L200.4 399.2 L202.4 399.1 L204.7 399 L207.4 399 L210.4 398.9 L213.8 398.9Z" fill="#f3f4f6" stroke="#bbbec2" stroke-width="0.5" />
<path d="M202.9 410.1 L201.1 408.6 L199.5 407 L198.1 405.5 L196.9 404 L195.9 402.5 L195.1 401.1 L194.5 399.6 L194 398.2 L193.7 396.7 L190.8 397.4 L191.2 399 L191.9 400.7 L192.7 402.3 L193.7 403.9 L194.9 405.5 L196.3 407.1 L197.9 408.7 L199.7 410.2 L201.6 411.7Z" fill="#f3f4f6" stroke="#bbbec2" stroke-width="0.5" />
<path d="M199.4 411.3 L206.3 412.5 L212.4 413.6 L217.9 414.8 L222.6 415.9 L226.7 417.1 L230 418.2 L232.6 419.3 L234.4 420.4 L235.5 421.4 L237.5 419.1 L236 417.9 L233.7 416.8 L230.9 415.7 L227.4 414.6 L223.2 413.5 L218.4 412.4 L212.8 411.4 L206.6 410.3 L199.7 409.2Z" fill="#f3f4f6" stroke="#bbbec2" stroke-width="0.5" />
<path d="M210.5 396.4 L215.2 399.2 L219.4 402 L223.1 404.7 L226.3 407.4 L229 410.1 L231.2 412.8 L233 415.5 L234.2 418.1 L235.1 420.7 L237.9 419.8 L236.9 416.9 L235.4 414 L233.4 411.2 L230.9 408.4 L228 405.6 L224.6 402.8 L220.7 400.1 L216.4 397.3 L211.6 394.6Z" fill="#f3f4f6" stroke="#bbbec2" stroke-width="0.5" />
<path d="M222.7 386 L225.5 389.8 L228 393.6 L230.2 397.4 L232.1 401.1 L233.8 404.9 L235.1 408.6 L236.2 412.4 L236.9 416.1 L237.4 419.9 L240.4 419.4 L239.8 415.6 L238.9 411.7 L237.7 407.8 L236.2 403.9 L234.4 400 L232.3 396.2 L229.9 392.3 L227.3 388.5 L224.4 384.7Z" fill="#f3f4f6" stroke="#bbbec2" stroke-width="0.5" />
<path d="M239.7 380.3 L240.3 384.6 L240.8 388.8 L241.2 393 L241.6 397.2 L241.9 401.5 L242.2 405.7 L242.4 409.9 L242.5 414.2 L242.6 418.4 L245.6 418.3 L245.4 414.1 L245.2 409.8 L244.9 405.5 L244.5 401.3 L244.1 397 L243.6 392.8 L243.1 388.5 L242.5 384.3 L241.8 380Z" fill="#f3f4f6" stroke="#bbbec2" stroke-width="0.5" />
<path d="M254.8 379.2 L253.4 383.6 L252.1 388 L251 392.3 L250 396.7 L249.2 401.1 L248.4 405.5 L247.9 409.9 L247.4 414.3 L247.1 418.7 L250.1 418.9 L250.3 414.5 L250.6 410.2 L251.1 405.9 L251.7 401.6 L252.5 397.2 L253.4 392.9 L254.4 388.6 L255.5 384.2 L256.8 379.9Z" fill="#f3f4f6" stroke="#bbbec2" stroke-width="0.5" />
<path d="M267 380.8 L264 385 L261.3 389.3 L258.9 393.6 L256.8 397.9 L255 402.2 L253.5 406.5 L252.3 410.8 L251.3 415.2 L250.7 419.5 L253.7 419.9 L254.2 415.7 L255 411.5 L256.1 407.3 L257.4 403.1 L259.1 398.9 L261 394.7 L263.3 390.5 L265.8 386.2 L268.7 382Z" fill="#f3f4f6" stroke="#bbbec2" stroke-width="0.5" />
<path d="M274 385.4 L270.2 389.2 L266.7 393 L263.5 396.8 L260.8 400.6 L258.4 404.5 L256.4 408.3 L254.8 412.2 L253.6 416.1 L252.8 419.9 L255.8 420.5 L256.4 416.8 L257.5 413.1 L258.9 409.4 L260.7 405.7 L262.9 402 L265.4 398.3 L268.4 394.5 L271.8 390.7 L275.5 386.9Z" fill="#f3f4f6" stroke="#bbbec2" stroke-width="0.5" />
<path d="M274.8 394.3 L270.8 397 L267.2 399.8 L264 402.6 L261.2 405.4 L258.8 408.3 L256.8 411.2 L255.1 414 L253.8 417 L253 419.8 L255.9 420.6 L256.6 417.9 L257.6 415.3 L259.1 412.6 L260.9 409.9 L263.1 407.1 L265.7 404.4 L268.7 401.6 L272.1 398.8 L276 396Z" fill="#f3f4f6" stroke="#bbbec2" stroke-width="0.5" />
<path d="M269 404.7 L265.8 406.2 L262.9 407.8 L260.3 409.3 L258.1 410.9 L256.1 412.5 L254.4 414.2 L253 415.9 L252 417.6 L251.3 419.3 L254.1 420.3 L254.6 418.8 L255.4 417.4 L256.4 416 L257.9 414.4 L259.6 412.9 L261.7 411.3 L264.1 409.7 L266.8 408.1 L269.9 406.5Z" fill="#f3f4f6" stroke="#bbbec2" stroke-width="0.5" />
<path d="M257.8 416.9 L256.2 416.9 L254.7 417 L253.4 417.1 L252.3 417.1 L251.3 417.2 L250.4 417.3 L249.7 417.3 L249.1 417.4 L248.7 417.5 L249.7 420.3 L249.9 420.2 L250.3 420.1 L250.8 419.9 L251.6 419.8 L252.5 419.6 L253.6 419.5 L254.9 419.3 L256.3 419.1 L258 419Z" fill="#f3f4f6" stroke="#bbbec2" stroke-width="0.5" />
<path d="M293.2 437.2 L299.7 440.7 L305.5 444.1 L310.7 447.6 L315.2 451 L319 454.4 L322.2 457.8 L324.6 461.1 L326.4 464.4 L327.6 467.8 L330.4 466.7 L329 463.2 L327 459.6 L324.2 456 L320.8 452.5 L316.8 449.1 L312.1 445.6 L306.8 442.2 L300.8 438.7 L294.1 435.3Z" fill="#f3f4f6" stroke="#bbbec2" stroke-width="0.5" />
<path d="M304.3 423 L308.7 428 L312.6 433 L316.1 437.9 L319.1 442.9 L321.7 447.8 L323.8 452.8 L325.5 457.7 L326.7 462.6 L327.5 467.5 L330.5 467 L329.6 461.9 L328.2 456.8 L326.3 451.8 L324 446.7 L321.3 441.7 L318.1 436.6 L314.5 431.6 L310.4 426.6 L305.9 421.6Z" fill="#f3f4f6" stroke="#bbbec2" stroke-width="0.5" />
<path d="M316.7 413.6 L319.3 419.5 L321.6 425.4 L323.6 431.3 L325.4 437.2 L327 443.1 L328.2 449 L329.2 454.9 L329.9 460.8 L330.4 466.7 L333.4 466.4 L332.8 460.4 L332 454.5 L330.9 448.5 L329.5 442.5 L327.8 436.5 L325.9 430.6 L323.7 424.6 L321.3 418.7 L318.6 412.7Z" fill="#f3f4f6" stroke="#bbbec2" stroke-width="0.5" />
<path d="M333.8 412.1 L334.2 418 L334.5 423.9 L334.8 429.8 L335 435.7 L335.2 441.6 L335.3 447.5 L335.5 453.4 L335.5 459.3 L335.6 465.3 L338.6 465.2 L338.4 459.3 L338.3 453.4 L338 447.4 L337.8 441.5 L337.5 435.6 L337.2 429.7 L336.8 423.8 L336.4 417.8 L335.9 411.9Z" fill="#f3f4f6" stroke="#bbbec2" stroke-width="0.5" />
<path d="M348.9 419.2 L347.3 424.4 L345.8 429.5 L344.5 434.7 L343.4 439.9 L342.4 445.1 L341.6 450.3 L340.9 455.4 L340.4 460.6 L340.1 465.8 L343.1 466 L343.3 460.8 L343.7 455.7 L344.3 450.6 L345 445.5 L345.9 440.4 L346.9 435.2 L348.1 430.1 L349.4 425 L350.9 419.8Z" fill="#f3f4f6" stroke="#bbbec2" stroke-width="0.5" />
<path d="M361.1 431 L357.9 434.9 L355 438.8 L352.5 442.7 L350.2 446.7 L348.3 450.6 L346.6 454.6 L345.3 458.6 L344.3 462.6 L343.7 466.6 L346.7 467 L347.2 463.2 L348 459.4 L349.2 455.5 L350.7 451.7 L352.4 447.8 L354.5 444 L356.9 440.1 L359.7 436.2 L362.7 432.3Z" fill="#f3f4f6" stroke="#bbbec2" stroke-width="0.5" />
<path d="M368.3 443.8 L364.2 446.3 L360.5 448.8 L357.1 451.3 L354.2 453.8 L351.6 456.4 L349.5 458.9 L347.8 461.6 L346.4 464.2 L345.6 466.8 L348.4 467.7 L349.1 465.3 L350.2 462.9 L351.7 460.5 L353.6 458.1 L355.9 455.6 L358.6 453.1 L361.8 450.6 L365.4 448.1 L369.4 445.6Z" fill="#f3f4f6" stroke="#bbbec2" stroke-width="0.5" />
<path d="M369.2 457 L365 458 L361.2 459 L357.8 460 L354.8 461 L352.2 462 L350 463 L348.2 464.1 L346.8 465.2 L345.8 466.3 L348.2 468.2 L348.8 467.3 L349.8 466.4 L351.3 465.4 L353.3 464.4 L355.7 463.3 L358.6 462.3 L361.8 461.2 L365.5 460.1 L369.7 459.1Z" fill="#f3f4f6" stroke="#bbbec2" stroke-width="0.5" />
<path d="M363.6 469.1 L360.3 468.7 L357.3 468.3 L354.7 467.9 L352.4 467.5 L350.5 467.1 L348.9 466.7 L347.7 466.3 L346.9 465.9 L346.4 465.6 L344.9 468.2 L345.7 468.6 L346.9 469 L348.3 469.3 L350 469.6 L352 469.9 L354.4 470.2 L357.1 470.6 L360.1 470.9 L363.4 471.2Z" fill="#f3f4f6" stroke="#bbbec2" stroke-width="0.5" />
<path d="M352.7 481.5 L350.9 479.7 L349.4 477.9 L348 476.2 L346.8 474.4 L345.8 472.6 L345 470.9 L344.4 469.2 L343.9 467.5 L343.7 465.8 L340.7 466.3 L341.1 468.2 L341.8 470.1 L342.6 472 L343.6 473.9 L344.7 475.8 L346.1 477.6 L347.6 479.4 L349.3 481.2 L351.2 483Z" fill="#f3f4f6" stroke="#bbbec2" stroke-width="0.5" />
<path d="M347.7 481 L354.5 483 L360.7 485.1 L366.1 487.2 L370.9 489.2 L374.9 491.3 L378.2 493.3 L380.7 495.2 L382.5 497.1 L383.7 499.1 L386.3 497.4 L384.8 495.3 L382.5 493.1 L379.7 491 L376.1 489 L371.9 487 L367 484.9 L361.4 482.9 L355.2 480.9 L348.3 479Z" fill="#f3f4f6" stroke="#bbbec2" stroke-width="0.5" />
<path d="M358.8 466.4 L363.5 470.1 L367.7 473.7 L371.4 477.3 L374.6 480.9 L377.4 484.5 L379.6 488 L381.4 491.6 L382.7 495.1 L383.5 498.6 L386.5 497.9 L385.5 494.2 L384 490.4 L382 486.7 L379.5 483 L376.6 479.3 L373.1 475.6 L369.3 472 L364.9 468.4 L360.1 464.8Z" fill="#f3f4f6" stroke="#bbbec2" stroke-width="0.5" />
<path d="M371 456.5 L373.9 461.1 L376.4 465.8 L378.6 470.4 L380.5 475 L382.2 479.5 L383.5 484.1 L384.6 488.7 L385.4 493.2 L385.9 497.8 L388.9 497.5 L388.3 492.8 L387.3 488.1 L386.1 483.4 L384.6 478.7 L382.9 474 L380.8 469.4 L378.4 464.7 L375.8 460 L372.8 455.4Z" fill="#f3f4f6" stroke="#bbbec2" stroke-width="0.5" />
<path d="M388.1 454.2 L388.7 458.9 L389.2 463.6 L389.7 468.3 L390.1 473 L390.4 477.6 L390.7 482.3 L390.9 487 L391 491.7 L391.1 496.4 L394.1 496.3 L393.9 491.6 L393.6 486.9 L393.3 482.2 L393 477.5 L392.6 472.7 L392.1 468 L391.5 463.3 L390.9 458.6 L390.2 453.9Z" fill="#f3f4f6" stroke="#bbbec2" stroke-width="0.5" />
<path d="M403.2 458.9 L401.8 463.1 L400.6 467.3 L399.5 471.5 L398.5 475.7 L397.6 479.9 L396.9 484.1 L396.3 488.3 L395.9 492.5 L395.6 496.7 L398.6 496.9 L398.8 492.7 L399.1 488.6 L399.6 484.4 L400.2 480.3 L400.9 476.2 L401.8 472 L402.8 467.9 L403.9 463.7 L405.2 459.5Z" fill="#f3f4f6" stroke="#bbbec2" stroke-width="0.5" />
<path d="M415.4 466.6 L412.5 469.9 L409.8 473.3 L407.4 476.7 L405.3 480.2 L403.5 483.6 L402 487 L400.7 490.5 L399.8 494 L399.2 497.4 L402.1 497.9 L402.6 494.6 L403.4 491.3 L404.5 488 L405.8 484.7 L407.5 481.4 L409.4 478 L411.7 474.7 L414.2 471.3 L417 467.9Z" fill="#f3f4f6" stroke="#bbbec2" stroke-width="0.5" />
<path d="M422.6 475.3 L418.8 477.7 L415.3 480.2 L412.1 482.6 L409.4 485.1 L407 487.6 L405 490.1 L403.4 492.6 L402.1 495.2 L401.3 497.8 L404.2 498.6 L404.8 496.3 L405.8 494 L407.2 491.6 L409 489.3 L411.2 486.9 L413.7 484.4 L416.7 482 L420 479.5 L423.8 477.1Z" fill="#f3f4f6" stroke="#bbbec2" stroke-width="0.5" />
<path d="M423.5 485.8 L419.5 487.1 L416 488.3 L412.8 489.5 L410 490.8 L407.6 492.1 L405.6 493.3 L403.9 494.7 L402.5 496.1 L401.6 497.5 L404.2 499 L404.8 497.8 L405.8 496.7 L407.2 495.5 L409 494.3 L411.2 493 L413.8 491.7 L416.8 490.4 L420.3 489.1 L424.1 487.8Z" fill="#f3f4f6" stroke="#bbbec2" stroke-width="0.5" />
<path d="M417.8 496.8 L414.7 496.8 L411.9 496.7 L409.5 496.6 L407.3 496.6 L405.4 496.5 L403.9 496.5 L402.7 496.4 L401.8 496.3 L401.2 496.3 L401.1 499.3 L401.7 499.2 L402.7 499.2 L403.9 499.2 L405.4 499.1 L407.3 499.1 L409.5 499 L411.9 499 L414.7 499 L417.8 498.9Z" fill="#f3f4f6" stroke="#bbbec2" stroke-width="0.5" />
<path d="M407 509.6 L405.4 508.1 L404.1 506.6 L402.9 505.1 L401.9 503.7 L401 502.2 L400.3 500.8 L399.8 499.4 L399.4 498 L399.2 496.6 L396.2 497.2 L396.6 498.8 L397.2 500.4 L397.9 502 L398.8 503.5 L399.8 505.1 L401 506.6 L402.4 508.1 L403.9 509.6 L405.6 511.1Z" fill="#f3f4f6" stroke="#bbbec2" stroke-width="0.5" />
<ellipse cx="188" cy="398" rx="9.3" ry="4.2" fill="#f3f4f5" stroke="#a4a7ab" stroke-width="0.85"/>
<ellipse cx="188" cy="398.4" rx="6.7" ry="2.6" fill="#ffffff" stroke="#b4b7bb" stroke-width="0.6"/>
<ellipse cx="338" cy="467" rx="9.3" ry="4.2" fill="#f3f4f5" stroke="#a4a7ab" stroke-width="0.85"/>
<ellipse cx="338" cy="467.4" rx="6.7" ry="2.6" fill="#ffffff" stroke="#b4b7bb" stroke-width="0.6"/>
<ellipse cx="394" cy="498" rx="9.3" ry="4.2" fill="#f3f4f5" stroke="#a4a7ab" stroke-width="0.85"/>
<ellipse cx="394" cy="498.4" rx="6.7" ry="2.6" fill="#ffffff" stroke="#b4b7bb" stroke-width="0.6"/>
<path d="M205.1 336.2 L200.8 336 L196.3 336.8 L192.1 338 L187.8 339.4 L183.6 341.2 L179.4 343.3 L175.1 345.7 L170.9 348.5 L166.7 351.7 L162.5 355.2 L158.3 359.1 L154.1 363.5 L149.9 368.3 L145.6 373.8 L141.4 381.1 L144.6 382.9 L148.6 375.8 L152.7 370.6 L156.7 365.9 L160.8 361.7 L164.9 357.9 L168.9 354.5 L173 351.4 L177 348.8 L181 346.5 L185.1 344.5 L189.1 342.8 L193.1 341.4 L197.1 340.3 L201 339.6 L204.9 339.8Z" fill="#f5f6f7" stroke="#b7babe" stroke-width="0.55" stroke-linejoin="round"/>
<path d="M211.6 343.5 L207.5 343.3 L203.4 344.2 L199.2 345.4 L195.1 346.9 L191 348.7 L186.8 350.8 L182.7 353.2 L178.6 356 L174.4 359.2 L170.3 362.7 L166.2 366.6 L162 371 L157.9 375.8 L153.8 381.2 L149.6 388.4" fill="none" stroke="#c9ccd0" stroke-width="0.5" />
<path d="M469.8 464.2 L465.5 464.7 L461.2 466 L456.9 467.6 L452.7 469.4 L448.5 471.5 L444.3 473.8 L440.1 476.5 L435.9 479.4 L431.7 482.6 L427.5 486.1 L423.3 490 L419.1 494.2 L414.9 498.8 L410.7 504 L406.5 510.6 L409.5 512.6 L413.6 506.1 L417.6 501.2 L421.7 496.7 L425.8 492.6 L429.9 488.8 L433.9 485.4 L438 482.3 L442.1 479.5 L446.1 476.9 L450.2 474.7 L454.2 472.7 L458.3 470.9 L462.3 469.4 L466.2 468.2 L470.2 467.8Z" fill="#f5f6f7" stroke="#b7babe" stroke-width="0.55" stroke-linejoin="round"/>
<path d="M463.4 464.1 L459.2 464.5 L455.1 465.8 L451 467.3 L446.8 469.1 L442.7 471.2 L438.6 473.5 L434.4 476.1 L430.3 479 L426.2 482.2 L422 485.7 L417.9 489.6 L413.8 493.8 L409.6 498.3 L405.5 503.4 L401.4 510" fill="none" stroke="#c9ccd0" stroke-width="0.5" />
<path d="M141.8 384.9 L148.6 391 L155.6 396.1 L162.5 400.3 L169.4 404 L176.3 407 L183.1 409.7 L190 412 L196.9 413.9 L203.8 415.6 L210.7 416.9 L217.6 417.5 L224.5 417.8 L231.2 418.1 L237.9 418.6 L244.6 419.5 L251.3 420.6 L258 422.2 L264.6 424.7 L271.3 427.8 L278 431.2 L284.7 435.3 L291.5 439.7 L298.2 444.4 L304.8 450 L311.6 456.4 L318.4 462.6 L325.3 468.4 L332.1 474 L339 479.1 L345.9 483.4 L352.7 487.4 L359.5 491.3 L366.3 495.6 L373.1 499.8 L380 503.6 L386.8 506.9 L393.7 510 L400.6 512.7 L407.4 514.9 L408.6 511.3 L401.8 509.2 L395.1 506.6 L388.4 503.6 L381.7 500.3 L375 496.6 L368.2 492.4 L361.4 488.2 L354.6 484.2 L347.8 480.3 L341.1 476 L334.4 471.1 L327.6 465.5 L320.9 459.8 L314.1 453.7 L307.3 447.3 L300.4 441.5 L293.5 436.6 L286.7 432.2 L279.8 428 L272.9 424.4 L266 421.3 L259.1 418.7 L252.1 417 L245.2 415.8 L238.3 414.9 L231.4 414.4 L224.6 414.1 L217.9 413.8 L211.2 413.2 L204.5 411.9 L197.8 410.3 L191.1 408.5 L184.4 406.3 L177.7 403.6 L171 400.6 L164.3 397.1 L157.6 393 L151 388.1 L144.2 382.1Z" fill="#f5f6f7" stroke="#b7babe" stroke-width="0.55" stroke-linejoin="round"/>
<path d="M605.8 151.3 L602.8 151.9 L599.8 152.5 L596.8 153.1 L593.8 153.8 L590.8 154.5 L587.8 155.3 L584.8 156.2 L581.9 157.1 L579 158.3 L576.1 159.5 L573.4 160.9 L570.6 162.4 L567.9 164 L565.3 165.7 L562.8 167.5 L560.3 169.3 L557.8 171.2 L555.4 173.1 L553.1 175.1 L550.8 177.2 L548.5 179.2 L546.3 181.3 L544.1 183.4 L541.9 185.5 L539.8 187.6 L537.6 189.8 L535.5 191.9 L538.9 195.3 L541 193.2 L543.2 191.1 L545.3 189 L547.5 186.9 L549.7 184.9 L551.9 182.8 L554.1 180.9 L556.3 178.9 L558.6 177 L560.9 175.1 L563.3 173.3 L565.7 171.6 L568.1 169.9 L570.6 168.3 L573.2 166.9 L575.7 165.5 L578.3 164.2 L581 163.1 L583.7 162.1 L586.4 161.2 L589.2 160.3 L592.1 159.6 L595 158.9 L597.9 158.3 L600.8 157.7 L603.8 157.2 L606.8 156.7Z" fill="#f7f8f9" stroke="none" stroke-width="0.5" />
<path d="M606.4 154.4 L603.4 155 L600.4 155.5 L597.4 156.1 L594.5 156.8 L591.5 157.4 L588.6 158.2 L585.8 159.1 L582.9 160 L580.1 161.1 L577.4 162.2 L574.7 163.6 L572.1 165 L569.5 166.5 L567 168.1 L564.5 169.9 L562 171.6 L559.6 173.5 L557.3 175.4 L555 177.3 L552.7 179.3 L550.5 181.3 L548.2 183.4 L546.1 185.4 L543.9 187.5 L541.7 189.6 L539.6 191.7 L537.5 193.9 L538.9 195.3 L541 193.2 L543.2 191.1 L545.3 189 L547.5 186.9 L549.7 184.9 L551.9 182.8 L554.1 180.9 L556.3 178.9 L558.6 177 L560.9 175.1 L563.3 173.3 L565.7 171.6 L568.1 169.9 L570.6 168.3 L573.2 166.9 L575.7 165.5 L578.3 164.2 L581 163.1 L583.7 162.1 L586.4 161.2 L589.2 160.3 L592.1 159.6 L595 158.9 L597.9 158.3 L600.8 157.7 L603.8 157.2 L606.8 156.7Z" fill="#e3e5e8" stroke="none" stroke-width="0.5" />
<path d="M605.8 151.3 L602.8 151.9 L599.8 152.5 L596.8 153.1 L593.8 153.8 L590.8 154.5 L587.8 155.3 L584.8 156.2 L581.9 157.1 L579 158.3 L581 163.1 L583.7 162.1 L586.4 161.2 L589.2 160.3 L592.1 159.6 L595 158.9 L597.9 158.3 L600.8 157.7 L603.8 157.2 L606.8 156.7Z" fill="#dcdee1" stroke="none" stroke-width="0.5" />
<path d="M602.8 151.9L606.8 156.7M599.8 152.5L603.8 157.2M596.8 153.1L600.8 157.7M593.8 153.8L597.9 158.3M590.8 154.5L595 158.9M587.8 155.3L592.1 159.6M581.9 157.1L586.4 161.2M579 158.3L583.7 162.1M576.1 159.5L581 163.1" fill="none" stroke="#a4a8ac" stroke-width="0.55" />
<path d="M605.8 151.3 L602.8 151.9 L599.8 152.5 L596.8 153.1 L593.8 153.8 L590.8 154.5 L587.8 155.3 L584.8 156.2 L581.9 157.1 L579 158.3 L576.1 159.5 L573.4 160.9 L570.6 162.4 L567.9 164 L565.3 165.7 L562.8 167.5 L560.3 169.3 L557.8 171.2 L555.4 173.1 L553.1 175.1 L550.8 177.2 L548.5 179.2 L546.3 181.3 L544.1 183.4 L541.9 185.5 L539.8 187.6 L537.6 189.8 L535.5 191.9 L538.9 195.3 L541 193.2 L543.2 191.1 L545.3 189 L547.5 186.9 L549.7 184.9 L551.9 182.8 L554.1 180.9 L556.3 178.9 L558.6 177 L560.9 175.1 L563.3 173.3 L565.7 171.6 L568.1 169.9 L570.6 168.3 L573.2 166.9 L575.7 165.5 L578.3 164.2 L581 163.1 L583.7 162.1 L586.4 161.2 L589.2 160.3 L592.1 159.6 L595 158.9 L597.9 158.3 L600.8 157.7 L603.8 157.2 L606.8 156.7Z" fill="none" stroke="#b9bcc0" stroke-width="0.5" stroke-linejoin="round"/>
<path d="M606.4 154.4 L603.4 155 L600.4 155.5 L597.4 156.1 L594.5 156.8 L591.5 157.4 L588.6 158.2 L585.8 159.1 L582.9 160 L580.1 161.1 L577.4 162.2 L574.7 163.6 L572.1 165 L569.5 166.5 L567 168.1 L564.5 169.9 L562 171.6 L559.6 173.5 L557.3 175.4 L555 177.3 L552.7 179.3 L550.5 181.3 L548.2 183.4 L546.1 185.4 L543.9 187.5 L541.7 189.6 L539.6 191.7 L537.5 193.9" fill="none" stroke="#c3c6ca" stroke-width="0.4" />
<path d="M577.8 166.7 L579.8 168 L581.8 169.2 L583.7 170.4 L585.7 171.7 L587.7 172.9 L589.7 174.1 L591.7 175.3 L593.7 176.5 L595.7 177.7 L597.7 178.9 L599.7 180.1 L601.7 181.3 L603.8 182.4 L605.8 183.6 L607.8 184.7 L609.9 185.8 L611.9 186.9 L614 188 L616.1 189.1 L618.1 190.2 L620.2 191.3 L622.3 192.3 L624.4 193.4 L626.4 194.5 L628.5 195.5 L630.6 196.6 L632.7 197.7 L631.3 200.3 L629.2 199.3 L627.1 198.2 L625.1 197.1 L623 196.1 L620.9 195 L618.8 193.9 L616.7 192.8 L614.7 191.7 L612.6 190.7 L610.5 189.5 L608.5 188.4 L606.4 187.3 L604.3 186.2 L602.3 185 L600.3 183.9 L598.2 182.7 L596.2 181.5 L594.2 180.3 L592.2 179.1 L590.1 177.9 L588.1 176.7 L586.1 175.5 L584.2 174.2 L582.2 173 L580.2 171.8 L578.2 170.5 L576.2 169.3Z" fill="#f7f8f9" stroke="none" stroke-width="0.5" />
<path d="M576.9 168.2 L578.9 169.4 L580.8 170.7 L582.8 171.9 L584.8 173.2 L586.8 174.4 L588.8 175.6 L590.8 176.8 L592.8 178 L594.8 179.2 L596.8 180.4 L598.8 181.6 L600.9 182.8 L602.9 183.9 L605 185.1 L607 186.2 L609.1 187.3 L611.1 188.4 L613.2 189.5 L615.2 190.6 L617.3 191.7 L619.4 192.8 L621.5 193.9 L623.6 195 L625.6 196 L627.7 197.1 L629.8 198.2 L631.9 199.2 L631.3 200.3 L629.2 199.3 L627.1 198.2 L625.1 197.1 L623 196.1 L620.9 195 L618.8 193.9 L616.7 192.8 L614.7 191.7 L612.6 190.7 L610.5 189.5 L608.5 188.4 L606.4 187.3 L604.3 186.2 L602.3 185 L600.3 183.9 L598.2 182.7 L596.2 181.5 L594.2 180.3 L592.2 179.1 L590.1 177.9 L588.1 176.7 L586.1 175.5 L584.2 174.2 L582.2 173 L580.2 171.8 L578.2 170.5 L576.2 169.3Z" fill="#e3e5e8" stroke="none" stroke-width="0.5" />
<path d="M577.8 166.7 L579.8 168 L581.8 169.2 L583.7 170.4 L585.7 171.7 L587.7 172.9 L589.7 174.1 L591.7 175.3 L593.7 176.5 L595.7 177.7 L597.7 178.9 L599.7 180.1 L601.7 181.3 L603.8 182.4 L605.8 183.6 L607.8 184.7 L609.9 185.8 L611.9 186.9 L614 188 L616.1 189.1 L618.1 190.2 L620.2 191.3 L622.3 192.3 L624.4 193.4 L626.4 194.5 L628.5 195.5 L630.6 196.6 L632.7 197.7 L631.3 200.3 L629.2 199.3 L627.1 198.2 L625.1 197.1 L623 196.1 L620.9 195 L618.8 193.9 L616.7 192.8 L614.7 191.7 L612.6 190.7 L610.5 189.5 L608.5 188.4 L606.4 187.3 L604.3 186.2 L602.3 185 L600.3 183.9 L598.2 182.7 L596.2 181.5 L594.2 180.3 L592.2 179.1 L590.1 177.9 L588.1 176.7 L586.1 175.5 L584.2 174.2 L582.2 173 L580.2 171.8 L578.2 170.5 L576.2 169.3Z" fill="none" stroke="#b9bcc0" stroke-width="0.5" stroke-linejoin="round"/>
<path d="M576.9 168.2 L578.9 169.4 L580.8 170.7 L582.8 171.9 L584.8 173.2 L586.8 174.4 L588.8 175.6 L590.8 176.8 L592.8 178 L594.8 179.2 L596.8 180.4 L598.8 181.6 L600.9 182.8 L602.9 183.9 L605 185.1 L607 186.2 L609.1 187.3 L611.1 188.4 L613.2 189.5 L615.2 190.6 L617.3 191.7 L619.4 192.8 L621.5 193.9 L623.6 195 L625.6 196 L627.7 197.1 L629.8 198.2 L631.9 199.2" fill="none" stroke="#c3c6ca" stroke-width="0.4" />
<path d="M663.9 158.7 L666.7 160.6 L669.5 162.5 L672.3 164.4 L675.2 166.2 L678 168.1 L680.8 170 L683.6 171.8 L686.5 173.6 L689.3 175.4 L692.2 177.1 L695.1 178.8 L698 180.4 L700.9 181.9 L703.9 183.4 L706.9 184.8 L710 186.1 L713.1 187.3 L716.2 188.4 L719.3 189.4 L722.5 190.3 L725.7 191.1 L728.9 191.9 L732.2 192.6 L735.5 193.2 L738.8 193.8 L742.1 194.4 L745.5 194.9 L744.5 200.7 L741.2 200.1 L737.8 199.5 L734.4 198.9 L731 198.3 L727.7 197.6 L724.3 196.8 L721 195.9 L717.6 195 L714.3 193.9 L711 192.7 L707.8 191.4 L704.6 190.1 L701.4 188.6 L698.3 187.1 L695.2 185.5 L692.2 183.8 L689.3 182.1 L686.3 180.3 L683.4 178.5 L680.5 176.7 L677.6 174.8 L674.8 173 L672 171.1 L669.1 169.2 L666.3 167.3 L663.5 165.4 L660.7 163.5Z" fill="#e3e4e6" stroke="none" stroke-width="0.5" />
<path d="M662 161.5 L664.9 163.4 L667.7 165.3 L670.5 167.2 L673.3 169 L676.1 170.9 L679 172.8 L681.8 174.6 L684.7 176.4 L687.6 178.2 L690.5 180 L693.4 181.7 L696.4 183.3 L699.4 184.9 L702.5 186.4 L705.6 187.9 L708.7 189.2 L711.9 190.4 L715.1 191.6 L718.3 192.6 L721.6 193.6 L724.9 194.4 L728.2 195.2 L731.5 195.9 L734.9 196.5 L738.2 197.1 L741.6 197.7 L744.9 198.3 L744.5 200.7 L741.2 200.1 L737.8 199.5 L734.4 198.9 L731 198.3 L727.7 197.6 L724.3 196.8 L721 195.9 L717.6 195 L714.3 193.9 L711 192.7 L707.8 191.4 L704.6 190.1 L701.4 188.6 L698.3 187.1 L695.2 185.5 L692.2 183.8 L689.3 182.1 L686.3 180.3 L683.4 178.5 L680.5 176.7 L677.6 174.8 L674.8 173 L672 171.1 L669.1 169.2 L666.3 167.3 L663.5 165.4 L660.7 163.5Z" fill="#c5c7ca" stroke="none" stroke-width="0.5" />
<path d="M706.9 184.8L701.4 188.6M713.1 187.3L707.8 191.4M716.2 188.4L711 192.7M722.5 190.3L717.6 195M728.9 191.9L724.3 196.8M732.2 192.6L727.7 197.6M738.8 193.8L734.4 198.9M745.5 194.9L741.2 200.1" fill="none" stroke="#f1f2f3" stroke-width="1.3" />
<path d="M663.9 158.7 L666.7 160.6 L669.5 162.5 L672.3 164.4 L675.2 166.2 L678 168.1 L680.8 170 L683.6 171.8 L686.5 173.6 L689.3 175.4 L692.2 177.1 L695.1 178.8 L698 180.4 L700.9 181.9 L703.9 183.4 L706.9 184.8 L710 186.1 L713.1 187.3 L716.2 188.4 L719.3 189.4 L722.5 190.3 L725.7 191.1 L728.9 191.9 L732.2 192.6 L735.5 193.2 L738.8 193.8 L742.1 194.4 L745.5 194.9 L744.5 200.7 L741.2 200.1 L737.8 199.5 L734.4 198.9 L731 198.3 L727.7 197.6 L724.3 196.8 L721 195.9 L717.6 195 L714.3 193.9 L711 192.7 L707.8 191.4 L704.6 190.1 L701.4 188.6 L698.3 187.1 L695.2 185.5 L692.2 183.8 L689.3 182.1 L686.3 180.3 L683.4 178.5 L680.5 176.7 L677.6 174.8 L674.8 173 L672 171.1 L669.1 169.2 L666.3 167.3 L663.5 165.4 L660.7 163.5Z" fill="none" stroke="#a9acb0" stroke-width="0.5" stroke-linejoin="round"/>
<path d="M662 161.5 L664.9 163.4 L667.7 165.3 L670.5 167.2 L673.3 169 L676.1 170.9 L679 172.8 L681.8 174.6 L684.7 176.4 L687.6 178.2 L690.5 180 L693.4 181.7 L696.4 183.3 L699.4 184.9 L702.5 186.4 L705.6 187.9 L708.7 189.2 L711.9 190.4 L715.1 191.6 L718.3 192.6 L721.6 193.6 L724.9 194.4 L728.2 195.2 L731.5 195.9 L734.9 196.5 L738.2 197.1 L741.6 197.7 L744.9 198.3" fill="none" stroke="#c3c6ca" stroke-width="0.4" />
<path d="M675.2 192.7 L672.2 193.2 L669.2 193.7 L666.3 194.3 L663.3 194.9 L660.3 195.5 L657.4 196.3 L654.5 197.1 L651.6 198.1 L648.7 199.1 L645.9 200.4 L643.2 201.7 L640.5 203.2 L637.8 204.8 L635.3 206.4 L632.8 208.2 L630.3 210 L627.9 211.9 L625.6 213.9 L623.3 215.9 L621.1 217.9 L618.9 220 L616.7 222.1 L614.6 224.2 L612.5 226.4 L610.4 228.5 L608.4 230.7 L606.3 232.9 L608.7 235.1 L610.7 232.9 L612.8 230.8 L614.8 228.6 L616.9 226.5 L619 224.4 L621.1 222.4 L623.3 220.3 L625.5 218.3 L627.7 216.4 L630 214.5 L632.3 212.7 L634.7 210.9 L637.2 209.3 L639.6 207.7 L642.2 206.2 L644.7 204.8 L647.4 203.5 L650 202.4 L652.7 201.3 L655.5 200.4 L658.3 199.7 L661.1 199 L664 198.3 L666.9 197.8 L669.9 197.2 L672.8 196.8 L675.8 196.3Z" fill="#f7f8f9" stroke="none" stroke-width="0.5" />
<path d="M675.5 194.8 L672.6 195.3 L669.6 195.8 L666.6 196.3 L663.7 196.9 L660.8 197.5 L657.9 198.2 L655 199 L652.2 200 L649.5 201 L646.8 202.2 L644.1 203.5 L641.5 204.9 L638.9 206.4 L636.4 208.1 L633.9 209.8 L631.5 211.6 L629.1 213.4 L626.8 215.3 L624.6 217.3 L622.4 219.3 L620.2 221.4 L618.1 223.4 L615.9 225.6 L613.9 227.7 L611.8 229.8 L609.7 232 L607.7 234.2 L608.7 235.1 L610.7 232.9 L612.8 230.8 L614.8 228.6 L616.9 226.5 L619 224.4 L621.1 222.4 L623.3 220.3 L625.5 218.3 L627.7 216.4 L630 214.5 L632.3 212.7 L634.7 210.9 L637.2 209.3 L639.6 207.7 L642.2 206.2 L644.7 204.8 L647.4 203.5 L650 202.4 L652.7 201.3 L655.5 200.4 L658.3 199.7 L661.1 199 L664 198.3 L666.9 197.8 L669.9 197.2 L672.8 196.8 L675.8 196.3Z" fill="#e3e5e8" stroke="none" stroke-width="0.5" />
<path d="M675.2 192.7 L672.2 193.2 L669.2 193.7 L666.3 194.3 L663.3 194.9 L664 198.3 L666.9 197.8 L669.9 197.2 L672.8 196.8 L675.8 196.3Z" fill="#dcdee1" stroke="none" stroke-width="0.5" />
<path d="M672.2 193.2L675.8 196.3M669.2 193.7L672.8 196.8M666.3 194.3L669.9 197.2M663.3 194.9L666.9 197.8M660.3 195.5L664 198.3" fill="none" stroke="#a4a8ac" stroke-width="0.55" />
<path d="M675.2 192.7 L672.2 193.2 L669.2 193.7 L666.3 194.3 L663.3 194.9 L660.3 195.5 L657.4 196.3 L654.5 197.1 L651.6 198.1 L648.7 199.1 L645.9 200.4 L643.2 201.7 L640.5 203.2 L637.8 204.8 L635.3 206.4 L632.8 208.2 L630.3 210 L627.9 211.9 L625.6 213.9 L623.3 215.9 L621.1 217.9 L618.9 220 L616.7 222.1 L614.6 224.2 L612.5 226.4 L610.4 228.5 L608.4 230.7 L606.3 232.9 L608.7 235.1 L610.7 232.9 L612.8 230.8 L614.8 228.6 L616.9 226.5 L619 224.4 L621.1 222.4 L623.3 220.3 L625.5 218.3 L627.7 216.4 L630 214.5 L632.3 212.7 L634.7 210.9 L637.2 209.3 L639.6 207.7 L642.2 206.2 L644.7 204.8 L647.4 203.5 L650 202.4 L652.7 201.3 L655.5 200.4 L658.3 199.7 L661.1 199 L664 198.3 L666.9 197.8 L669.9 197.2 L672.8 196.8 L675.8 196.3Z" fill="none" stroke="#b9bcc0" stroke-width="0.5" stroke-linejoin="round"/>
<path d="M675.5 194.8 L672.6 195.3 L669.6 195.8 L666.6 196.3 L663.7 196.9 L660.8 197.5 L657.9 198.2 L655 199 L652.2 200 L649.5 201 L646.8 202.2 L644.1 203.5 L641.5 204.9 L638.9 206.4 L636.4 208.1 L633.9 209.8 L631.5 211.6 L629.1 213.4 L626.8 215.3 L624.6 217.3 L622.4 219.3 L620.2 221.4 L618.1 223.4 L615.9 225.6 L613.9 227.7 L611.8 229.8 L609.7 232 L607.7 234.2" fill="none" stroke="#c3c6ca" stroke-width="0.4" />
<path d="M649.6 208.6 L651.7 209 L653.7 209.5 L655.8 209.9 L657.8 210.3 L659.9 210.7 L661.9 211.1 L663.9 211.5 L666 211.9 L668 212.3 L670.1 212.7 L672.1 213.1 L674.2 213.4 L676.2 213.8 L678.3 214.2 L680.3 214.6 L682.4 215 L684.5 215.4 L686.5 215.8 L688.6 216.2 L690.6 216.7 L692.7 217.2 L694.7 217.7 L696.7 218.3 L698.8 218.9 L700.8 219.5 L702.8 220.1 L704.8 220.7 L703.8 223.9 L701.8 223.3 L699.8 222.7 L697.8 222.1 L695.8 221.6 L693.8 221 L691.8 220.5 L689.8 220 L687.8 219.6 L685.8 219.1 L683.8 218.7 L681.8 218.3 L679.7 217.9 L677.7 217.5 L675.6 217.2 L673.6 216.8 L671.5 216.4 L669.4 216 L667.4 215.6 L665.3 215.2 L663.3 214.8 L661.2 214.4 L659.2 214 L657.1 213.6 L655.1 213.2 L653 212.8 L651 212.4 L649 212Z" fill="#f7f8f9" stroke="none" stroke-width="0.5" />
<path d="M649.2 210.6 L651.3 211 L653.3 211.4 L655.4 211.8 L657.4 212.2 L659.5 212.6 L661.5 213 L663.6 213.4 L665.6 213.8 L667.7 214.2 L669.7 214.6 L671.8 215 L673.8 215.4 L675.9 215.8 L677.9 216.1 L680 216.5 L682 216.9 L684.1 217.3 L686.1 217.7 L688.1 218.2 L690.2 218.6 L692.2 219.1 L694.2 219.7 L696.2 220.2 L698.2 220.8 L700.2 221.4 L702.2 222 L704.2 222.6 L703.8 223.9 L701.8 223.3 L699.8 222.7 L697.8 222.1 L695.8 221.6 L693.8 221 L691.8 220.5 L689.8 220 L687.8 219.6 L685.8 219.1 L683.8 218.7 L681.8 218.3 L679.7 217.9 L677.7 217.5 L675.6 217.2 L673.6 216.8 L671.5 216.4 L669.4 216 L667.4 215.6 L665.3 215.2 L663.3 214.8 L661.2 214.4 L659.2 214 L657.1 213.6 L655.1 213.2 L653 212.8 L651 212.4 L649 212Z" fill="#e3e5e8" stroke="none" stroke-width="0.5" />
<path d="M649.6 208.6 L651.7 209 L653.7 209.5 L655.8 209.9 L657.8 210.3 L659.9 210.7 L661.9 211.1 L663.9 211.5 L666 211.9 L668 212.3 L670.1 212.7 L672.1 213.1 L674.2 213.4 L676.2 213.8 L678.3 214.2 L680.3 214.6 L682.4 215 L684.5 215.4 L686.5 215.8 L688.6 216.2 L690.6 216.7 L692.7 217.2 L694.7 217.7 L696.7 218.3 L698.8 218.9 L700.8 219.5 L702.8 220.1 L704.8 220.7 L703.8 223.9 L701.8 223.3 L699.8 222.7 L697.8 222.1 L695.8 221.6 L693.8 221 L691.8 220.5 L689.8 220 L687.8 219.6 L685.8 219.1 L683.8 218.7 L681.8 218.3 L679.7 217.9 L677.7 217.5 L675.6 217.2 L673.6 216.8 L671.5 216.4 L669.4 216 L667.4 215.6 L665.3 215.2 L663.3 214.8 L661.2 214.4 L659.2 214 L657.1 213.6 L655.1 213.2 L653 212.8 L651 212.4 L649 212Z" fill="none" stroke="#b9bcc0" stroke-width="0.5" stroke-linejoin="round"/>
<path d="M649.2 210.6 L651.3 211 L653.3 211.4 L655.4 211.8 L657.4 212.2 L659.5 212.6 L661.5 213 L663.6 213.4 L665.6 213.8 L667.7 214.2 L669.7 214.6 L671.8 215 L673.8 215.4 L675.9 215.8 L677.9 216.1 L680 216.5 L682 216.9 L684.1 217.3 L686.1 217.7 L688.1 218.2 L690.2 218.6 L692.2 219.1 L694.2 219.7 L696.2 220.2 L698.2 220.8 L700.2 221.4 L702.2 222 L704.2 222.6" fill="none" stroke="#c3c6ca" stroke-width="0.4" />
<path d="M681.7 254.7 L707.7 269.7 L706.3 272.3 L680.3 257.3Z" fill="#f7f8f9" stroke="none" stroke-width="0.5" />
<path d="M680.9 256.2 L706.9 271.2 L706.3 272.3 L680.3 257.3Z" fill="#e3e5e8" stroke="none" stroke-width="0.5" />
<path d="M681.7 254.7 L707.7 269.7 L706.3 272.3 L680.3 257.3Z" fill="none" stroke="#b9bcc0" stroke-width="0.5" stroke-linejoin="round"/>
<path d="M680.9 256.2 L706.9 271.2" fill="none" stroke="#c3c6ca" stroke-width="0.4" />
<path d="M695.7 241.7 L722.7 256.7 L721.3 259.3 L694.3 244.3Z" fill="#f7f8f9" stroke="none" stroke-width="0.5" />
<path d="M694.9 243.2 L721.9 258.2 L721.3 259.3 L694.3 244.3Z" fill="#e3e5e8" stroke="none" stroke-width="0.5" />
<path d="M695.7 241.7 L722.7 256.7 L721.3 259.3 L694.3 244.3Z" fill="none" stroke="#b9bcc0" stroke-width="0.5" stroke-linejoin="round"/>
<path d="M694.9 243.2 L721.9 258.2" fill="none" stroke="#c3c6ca" stroke-width="0.4" />
<path d="M717.7 228.7 L744.7 242.2 L743.3 244.8 L716.3 231.3Z" fill="#f7f8f9" stroke="none" stroke-width="0.5" />
<path d="M716.9 230.2 L743.9 243.7 L743.3 244.8 L716.3 231.3Z" fill="#e3e5e8" stroke="none" stroke-width="0.5" />
<path d="M717.7 228.7 L744.7 242.2 L743.3 244.8 L716.3 231.3Z" fill="none" stroke="#b9bcc0" stroke-width="0.5" stroke-linejoin="round"/>
<path d="M716.9 230.2 L743.9 243.7" fill="none" stroke="#c3c6ca" stroke-width="0.4" />
<path d="M728.7 222.7 L754.7 236.7 L753.3 239.3 L727.3 225.3Z" fill="#f7f8f9" stroke="none" stroke-width="0.5" />
<path d="M727.9 224.2 L753.9 238.2 L753.3 239.3 L727.3 225.3Z" fill="#e3e5e8" stroke="none" stroke-width="0.5" />
<path d="M728.7 222.7 L754.7 236.7 L753.3 239.3 L727.3 225.3Z" fill="none" stroke="#b9bcc0" stroke-width="0.5" stroke-linejoin="round"/>
<path d="M727.9 224.2 L753.9 238.2" fill="none" stroke="#c3c6ca" stroke-width="0.4" />
<path d="M742.8 217.2 L768.8 232.7 L767.2 235.3 L741.2 219.8Z" fill="#f7f8f9" stroke="none" stroke-width="0.5" />
<path d="M741.9 218.7 L767.9 234.2 L767.2 235.3 L741.2 219.8Z" fill="#e3e5e8" stroke="none" stroke-width="0.5" />
<path d="M742.8 217.2 L768.8 232.7 L767.2 235.3 L741.2 219.8Z" fill="none" stroke="#b9bcc0" stroke-width="0.5" stroke-linejoin="round"/>
<path d="M741.9 218.7 L767.9 234.2" fill="none" stroke="#c3c6ca" stroke-width="0.4" />
<path d="M746.7 215.8 L743.8 216.3 L740.9 216.8 L738 217.4 L735.1 217.9 L732.2 218.6 L729.3 219.3 L726.4 220.1 L723.6 220.9 L720.7 221.9 L718 223 L715.2 224.3 L712.6 225.6 L709.9 227.1 L707.4 228.6 L704.8 230.3 L702.4 232 L700 233.9 L697.7 235.8 L695.5 237.8 L693.3 239.8 L691.2 241.9 L689.1 244 L687.1 246.1 L685.1 248.3 L683.2 250.5 L681.2 252.7 L679.3 254.9 L681.7 257.1 L683.6 254.8 L685.6 252.7 L687.5 250.5 L689.5 248.3 L691.5 246.2 L693.5 244.2 L695.6 242.1 L697.7 240.2 L699.8 238.3 L702.1 236.4 L704.4 234.7 L706.7 233 L709.1 231.4 L711.6 229.9 L714.1 228.5 L716.7 227.3 L719.3 226.1 L721.9 225 L724.6 224.1 L727.3 223.3 L730.1 222.5 L732.9 221.9 L735.7 221.2 L738.6 220.7 L741.5 220.2 L744.4 219.7 L747.3 219.2Z" fill="#f7f8f9" stroke="none" stroke-width="0.5" />
<path d="M747 217.8 L744.1 218.3 L741.2 218.8 L738.3 219.3 L735.5 219.9 L732.6 220.5 L729.8 221.2 L726.9 221.9 L724.2 222.8 L721.4 223.7 L718.7 224.8 L716.1 226 L713.4 227.3 L710.9 228.7 L708.4 230.3 L705.9 231.9 L703.5 233.6 L701.2 235.4 L698.9 237.2 L696.8 239.2 L694.6 241.1 L692.5 243.2 L690.5 245.3 L688.5 247.4 L686.5 249.6 L684.6 251.8 L682.6 254 L680.7 256.2 L681.7 257.1 L683.6 254.8 L685.6 252.7 L687.5 250.5 L689.5 248.3 L691.5 246.2 L693.5 244.2 L695.6 242.1 L697.7 240.2 L699.8 238.3 L702.1 236.4 L704.4 234.7 L706.7 233 L709.1 231.4 L711.6 229.9 L714.1 228.5 L716.7 227.3 L719.3 226.1 L721.9 225 L724.6 224.1 L727.3 223.3 L730.1 222.5 L732.9 221.9 L735.7 221.2 L738.6 220.7 L741.5 220.2 L744.4 219.7 L747.3 219.2Z" fill="#e3e5e8" stroke="none" stroke-width="0.5" />
<path d="M746.7 215.8 L743.8 216.3 L740.9 216.8 L738 217.4 L735.1 217.9 L732.2 218.6 L729.3 219.3 L726.4 220.1 L723.6 220.9 L720.7 221.9 L718 223 L719.3 226.1 L721.9 225 L724.6 224.1 L727.3 223.3 L730.1 222.5 L732.9 221.9 L735.7 221.2 L738.6 220.7 L741.5 220.2 L744.4 219.7 L747.3 219.2Z" fill="#dcdee1" stroke="none" stroke-width="0.5" />
<path d="M743.8 216.3L747.3 219.2M740.9 216.8L744.4 219.7M738 217.4L741.5 220.2M735.1 217.9L738.6 220.7M729.3 219.3L732.9 221.9M726.4 220.1L730.1 222.5M723.6 220.9L727.3 223.3M720.7 221.9L724.6 224.1M718 223L721.9 225" fill="none" stroke="#a4a8ac" stroke-width="0.55" />
<path d="M746.7 215.8 L743.8 216.3 L740.9 216.8 L738 217.4 L735.1 217.9 L732.2 218.6 L729.3 219.3 L726.4 220.1 L723.6 220.9 L720.7 221.9 L718 223 L715.2 224.3 L712.6 225.6 L709.9 227.1 L707.4 228.6 L704.8 230.3 L702.4 232 L700 233.9 L697.7 235.8 L695.5 237.8 L693.3 239.8 L691.2 241.9 L689.1 244 L687.1 246.1 L685.1 248.3 L683.2 250.5 L681.2 252.7 L679.3 254.9 L681.7 257.1 L683.6 254.8 L685.6 252.7 L687.5 250.5 L689.5 248.3 L691.5 246.2 L693.5 244.2 L695.6 242.1 L697.7 240.2 L699.8 238.3 L702.1 236.4 L704.4 234.7 L706.7 233 L709.1 231.4 L711.6 229.9 L714.1 228.5 L716.7 227.3 L719.3 226.1 L721.9 225 L724.6 224.1 L727.3 223.3 L730.1 222.5 L732.9 221.9 L735.7 221.2 L738.6 220.7 L741.5 220.2 L744.4 219.7 L747.3 219.2Z" fill="none" stroke="#b9bcc0" stroke-width="0.5" stroke-linejoin="round"/>
<path d="M747 217.8 L744.1 218.3 L741.2 218.8 L738.3 219.3 L735.5 219.9 L732.6 220.5 L729.8 221.2 L726.9 221.9 L724.2 222.8 L721.4 223.7 L718.7 224.8 L716.1 226 L713.4 227.3 L710.9 228.7 L708.4 230.3 L705.9 231.9 L703.5 233.6 L701.2 235.4 L698.9 237.2 L696.8 239.2 L694.6 241.1 L692.5 243.2 L690.5 245.3 L688.5 247.4 L686.5 249.6 L684.6 251.8 L682.6 254 L680.7 256.2" fill="none" stroke="#c3c6ca" stroke-width="0.4" />
<path d="M780.8 235.8 L777.8 236.1 L774.7 236.5 L771.7 236.9 L768.7 237.3 L765.6 237.9 L762.6 238.6 L759.7 239.4 L756.7 240.3 L753.8 241.4 L751 242.6 L748.2 243.9 L745.5 245.4 L742.8 246.9 L740.1 248.5 L737.5 250.1 L734.9 251.8 L732.4 253.6 L730 255.5 L727.6 257.4 L725.3 259.5 L723.1 261.6 L721 263.9 L719 266.2 L717.1 268.7 L715.2 271.1 L713.5 273.6 L711.7 276.1 L714.3 277.9 L716.1 275.5 L717.8 273 L719.6 270.6 L721.5 268.3 L723.4 266.1 L725.4 263.9 L727.5 261.9 L729.7 259.9 L732 258.1 L734.3 256.3 L736.8 254.5 L739.3 252.9 L741.8 251.3 L744.4 249.8 L747.1 248.3 L749.7 246.9 L752.4 245.6 L755.1 244.5 L757.8 243.5 L760.6 242.6 L763.4 241.8 L766.3 241.2 L769.2 240.7 L772.2 240.2 L775.2 239.8 L778.2 239.5 L781.2 239.2Z" fill="#f7f8f9" stroke="none" stroke-width="0.5" />
<path d="M781 237.8 L778 238.1 L775 238.4 L772 238.8 L769 239.3 L766 239.8 L763.1 240.4 L760.2 241.2 L757.4 242.1 L754.6 243.2 L751.8 244.4 L749.1 245.7 L746.4 247.1 L743.7 248.6 L741.1 250.1 L738.5 251.7 L736 253.4 L733.5 255.2 L731.1 257 L728.8 258.9 L726.5 260.9 L724.4 263 L722.4 265.1 L720.4 267.4 L718.6 269.8 L716.7 272.2 L715 274.7 L713.2 277.1 L714.3 277.9 L716.1 275.5 L717.8 273 L719.6 270.6 L721.5 268.3 L723.4 266.1 L725.4 263.9 L727.5 261.9 L729.7 259.9 L732 258.1 L734.3 256.3 L736.8 254.5 L739.3 252.9 L741.8 251.3 L744.4 249.8 L747.1 248.3 L749.7 246.9 L752.4 245.6 L755.1 244.5 L757.8 243.5 L760.6 242.6 L763.4 241.8 L766.3 241.2 L769.2 240.7 L772.2 240.2 L775.2 239.8 L778.2 239.5 L781.2 239.2Z" fill="#e3e5e8" stroke="none" stroke-width="0.5" />
<path d="M780.8 235.8 L777.8 236.1 L774.7 236.5 L771.7 236.9 L768.7 237.3 L765.6 237.9 L762.6 238.6 L759.7 239.4 L756.7 240.3 L753.8 241.4 L755.1 244.5 L757.8 243.5 L760.6 242.6 L763.4 241.8 L766.3 241.2 L769.2 240.7 L772.2 240.2 L775.2 239.8 L778.2 239.5 L781.2 239.2Z" fill="#dcdee1" stroke="none" stroke-width="0.5" />
<path d="M777.8 236.1L781.2 239.2M774.7 236.5L778.2 239.5M771.7 236.9L775.2 239.8M768.7 237.3L772.2 240.2M765.6 237.9L769.2 240.7M762.6 238.6L766.3 241.2M756.7 240.3L760.6 242.6M753.8 241.4L757.8 243.5M751 242.6L755.1 244.5" fill="none" stroke="#a4a8ac" stroke-width="0.55" />
<path d="M780.8 235.8 L777.8 236.1 L774.7 236.5 L771.7 236.9 L768.7 237.3 L765.6 237.9 L762.6 238.6 L759.7 239.4 L756.7 240.3 L753.8 241.4 L751 242.6 L748.2 243.9 L745.5 245.4 L742.8 246.9 L740.1 248.5 L737.5 250.1 L734.9 251.8 L732.4 253.6 L730 255.5 L727.6 257.4 L725.3 259.5 L723.1 261.6 L721 263.9 L719 266.2 L717.1 268.7 L715.2 271.1 L713.5 273.6 L711.7 276.1 L714.3 277.9 L716.1 275.5 L717.8 273 L719.6 270.6 L721.5 268.3 L723.4 266.1 L725.4 263.9 L727.5 261.9 L729.7 259.9 L732 258.1 L734.3 256.3 L736.8 254.5 L739.3 252.9 L741.8 251.3 L744.4 249.8 L747.1 248.3 L749.7 246.9 L752.4 245.6 L755.1 244.5 L757.8 243.5 L760.6 242.6 L763.4 241.8 L766.3 241.2 L769.2 240.7 L772.2 240.2 L775.2 239.8 L778.2 239.5 L781.2 239.2Z" fill="none" stroke="#b9bcc0" stroke-width="0.5" stroke-linejoin="round"/>
<path d="M781 237.8 L778 238.1 L775 238.4 L772 238.8 L769 239.3 L766 239.8 L763.1 240.4 L760.2 241.2 L757.4 242.1 L754.6 243.2 L751.8 244.4 L749.1 245.7 L746.4 247.1 L743.7 248.6 L741.1 250.1 L738.5 251.7 L736 253.4 L733.5 255.2 L731.1 257 L728.8 258.9 L726.5 260.9 L724.4 263 L722.4 265.1 L720.4 267.4 L718.6 269.8 L716.7 272.2 L715 274.7 L713.2 277.1" fill="none" stroke="#c3c6ca" stroke-width="0.4" />
<path d="M757 250.9 L759.1 252.7 L761.2 254.5 L763.2 256.3 L765.3 258.1 L767.4 259.9 L769.5 261.7 L771.6 263.5 L773.6 265.3 L775.7 267.2 L777.7 269 L779.8 270.9 L781.8 272.8 L783.8 274.6 L785.8 276.5 L787.8 278.4 L789.8 280.4 L791.8 282.3 L793.7 284.2 L795.7 286.2 L797.6 288.1 L799.5 290.1 L801.5 292.1 L803.4 294 L805.3 296 L807.2 298 L809.2 300 L811.1 302 L808.9 304 L807 302.1 L805.1 300.1 L803.2 298.1 L801.3 296.1 L799.3 294.2 L797.4 292.2 L795.5 290.3 L793.5 288.3 L791.6 286.4 L789.6 284.4 L787.7 282.5 L785.7 280.6 L783.7 278.7 L781.7 276.8 L779.7 274.9 L777.7 273.1 L775.7 271.2 L773.7 269.4 L771.6 267.6 L769.6 265.8 L767.5 263.9 L765.4 262.1 L763.4 260.3 L761.3 258.5 L759.2 256.7 L757.1 254.9 L755 253.1Z" fill="#f7f8f9" stroke="none" stroke-width="0.5" />
<path d="M755.8 252.2 L757.9 254 L760 255.8 L762.1 257.6 L764.2 259.4 L766.3 261.2 L768.3 263 L770.4 264.8 L772.5 266.6 L774.5 268.5 L776.6 270.3 L778.6 272.2 L780.6 274 L782.6 275.9 L784.6 277.8 L786.6 279.7 L788.6 281.6 L790.5 283.5 L792.5 285.5 L794.4 287.4 L796.4 289.4 L798.3 291.3 L800.2 293.3 L802.2 295.3 L804.1 297.2 L806 299.2 L807.9 301.2 L809.8 303.2 L808.9 304 L807 302.1 L805.1 300.1 L803.2 298.1 L801.3 296.1 L799.3 294.2 L797.4 292.2 L795.5 290.3 L793.5 288.3 L791.6 286.4 L789.6 284.4 L787.7 282.5 L785.7 280.6 L783.7 278.7 L781.7 276.8 L779.7 274.9 L777.7 273.1 L775.7 271.2 L773.7 269.4 L771.6 267.6 L769.6 265.8 L767.5 263.9 L765.4 262.1 L763.4 260.3 L761.3 258.5 L759.2 256.7 L757.1 254.9 L755 253.1Z" fill="#e3e5e8" stroke="none" stroke-width="0.5" />
<path d="M757 250.9 L759.1 252.7 L761.2 254.5 L763.2 256.3 L765.3 258.1 L767.4 259.9 L769.5 261.7 L771.6 263.5 L773.6 265.3 L775.7 267.2 L777.7 269 L779.8 270.9 L781.8 272.8 L783.8 274.6 L785.8 276.5 L787.8 278.4 L789.8 280.4 L791.8 282.3 L793.7 284.2 L795.7 286.2 L797.6 288.1 L799.5 290.1 L801.5 292.1 L803.4 294 L805.3 296 L807.2 298 L809.2 300 L811.1 302 L808.9 304 L807 302.1 L805.1 300.1 L803.2 298.1 L801.3 296.1 L799.3 294.2 L797.4 292.2 L795.5 290.3 L793.5 288.3 L791.6 286.4 L789.6 284.4 L787.7 282.5 L785.7 280.6 L783.7 278.7 L781.7 276.8 L779.7 274.9 L777.7 273.1 L775.7 271.2 L773.7 269.4 L771.6 267.6 L769.6 265.8 L767.5 263.9 L765.4 262.1 L763.4 260.3 L761.3 258.5 L759.2 256.7 L757.1 254.9 L755 253.1Z" fill="none" stroke="#b9bcc0" stroke-width="0.5" stroke-linejoin="round"/>
<path d="M755.8 252.2 L757.9 254 L760 255.8 L762.1 257.6 L764.2 259.4 L766.3 261.2 L768.3 263 L770.4 264.8 L772.5 266.6 L774.5 268.5 L776.6 270.3 L778.6 272.2 L780.6 274 L782.6 275.9 L784.6 277.8 L786.6 279.7 L788.6 281.6 L790.5 283.5 L792.5 285.5 L794.4 287.4 L796.4 289.4 L798.3 291.3 L800.2 293.3 L802.2 295.3 L804.1 297.2 L806 299.2 L807.9 301.2 L809.8 303.2" fill="none" stroke="#c3c6ca" stroke-width="0.4" />
<path d="M829.3 241.6 L831.8 244.5 L834.4 247.5 L836.9 250.4 L839.5 253.2 L842.1 256 L844.8 258.6 L847.6 261.2 L850.4 263.7 L853.4 266 L856.5 268.2 L859.6 270.4 L862.8 272.5 L866.1 274.6 L869.3 276.7 L872.6 278.8 L875.9 280.9 L879.2 282.9 L882.5 284.9 L885.8 286.9 L889.1 288.8 L892.5 290.7 L895.9 292.6 L899.3 294.3 L902.7 296 L906.2 297.7 L909.7 299.3 L913.2 300.9 L910.6 306.7 L907 305.1 L903.5 303.4 L899.9 301.7 L896.4 300 L892.9 298.1 L889.4 296.3 L886 294.3 L882.6 292.3 L879.2 290.3 L875.9 288.2 L872.6 286.2 L869.3 284.1 L866 282 L862.7 279.8 L859.4 277.7 L856.1 275.5 L852.9 273.2 L849.7 270.9 L846.5 268.4 L843.5 265.8 L840.6 263 L837.8 260.2 L835.1 257.3 L832.4 254.4 L829.8 251.4 L827.3 248.4 L824.7 245.4Z" fill="#f7f8f9" stroke="none" stroke-width="0.5" />
<path d="M826.6 243.8 L829.2 246.8 L831.7 249.8 L834.3 252.7 L836.9 255.6 L839.6 258.4 L842.4 261.2 L845.2 263.8 L848.2 266.4 L851.2 268.8 L854.4 271.1 L857.6 273.4 L860.8 275.5 L864.1 277.7 L867.4 279.8 L870.7 281.9 L874 283.9 L877.3 286 L880.6 288 L883.9 290 L887.3 292 L890.7 293.9 L894.1 295.8 L897.6 297.6 L901.1 299.3 L904.6 301 L908.1 302.7 L911.7 304.3 L910.6 306.7 L907 305.1 L903.5 303.4 L899.9 301.7 L896.4 300 L892.9 298.1 L889.4 296.3 L886 294.3 L882.6 292.3 L879.2 290.3 L875.9 288.2 L872.6 286.2 L869.3 284.1 L866 282 L862.7 279.8 L859.4 277.7 L856.1 275.5 L852.9 273.2 L849.7 270.9 L846.5 268.4 L843.5 265.8 L840.6 263 L837.8 260.2 L835.1 257.3 L832.4 254.4 L829.8 251.4 L827.3 248.4 L824.7 245.4Z" fill="#e3e5e8" stroke="none" stroke-width="0.5" />
<path d="M829.3 241.6 L831.8 244.5 L834.4 247.5 L836.9 250.4 L839.5 253.2 L842.1 256 L844.8 258.6 L847.6 261.2 L850.4 263.7 L853.4 266 L856.5 268.2 L859.6 270.4 L862.8 272.5 L866.1 274.6 L869.3 276.7 L872.6 278.8 L875.9 280.9 L879.2 282.9 L882.5 284.9 L885.8 286.9 L889.1 288.8 L892.5 290.7 L895.9 292.6 L899.3 294.3 L902.7 296 L906.2 297.7 L909.7 299.3 L913.2 300.9 L910.6 306.7 L907 305.1 L903.5 303.4 L899.9 301.7 L896.4 300 L892.9 298.1 L889.4 296.3 L886 294.3 L882.6 292.3 L879.2 290.3 L875.9 288.2 L872.6 286.2 L869.3 284.1 L866 282 L862.7 279.8 L859.4 277.7 L856.1 275.5 L852.9 273.2 L849.7 270.9 L846.5 268.4 L843.5 265.8 L840.6 263 L837.8 260.2 L835.1 257.3 L832.4 254.4 L829.8 251.4 L827.3 248.4 L824.7 245.4Z" fill="none" stroke="#b9bcc0" stroke-width="0.5" stroke-linejoin="round"/>
<path d="M826.6 243.8 L829.2 246.8 L831.7 249.8 L834.3 252.7 L836.9 255.6 L839.6 258.4 L842.4 261.2 L845.2 263.8 L848.2 266.4 L851.2 268.8 L854.4 271.1 L857.6 273.4 L860.8 275.5 L864.1 277.7 L867.4 279.8 L870.7 281.9 L874 283.9 L877.3 286 L880.6 288 L883.9 290 L887.3 292 L890.7 293.9 L894.1 295.8 L897.6 297.6 L901.1 299.3 L904.6 301 L908.1 302.7 L911.7 304.3" fill="none" stroke="#c3c6ca" stroke-width="0.4" />
<path d="M853.6 296.3 L850.6 296.5 L847.6 296.7 L844.5 297.1 L841.5 297.8 L838.5 298.7 L835.6 299.9 L832.8 301.2 L830.1 302.6 L827.5 304.1 L825 305.6 L822.4 307.2 L819.9 308.7 L817.4 310.2 L814.8 311.7 L812.3 313.3 L809.7 314.9 L807.2 316.5 L804.7 318.2 L802.3 320 L800 321.9 L797.6 323.8 L795.3 325.7 L793.1 327.7 L790.9 329.7 L788.7 331.7 L786.5 333.8 L784.4 335.8 L786.6 338.2 L788.8 336.1 L790.9 334.1 L793.1 332.1 L795.3 330.2 L797.5 328.2 L799.7 326.4 L802 324.5 L804.4 322.7 L806.7 321 L809.1 319.4 L811.6 317.8 L814.1 316.2 L816.6 314.8 L819.2 313.3 L821.7 311.7 L824.3 310.2 L826.8 308.7 L829.3 307.2 L831.9 305.8 L834.4 304.4 L837.1 303.2 L839.7 302.2 L842.4 301.4 L845.1 300.8 L848 300.5 L850.8 300.2 L853.8 300.1Z" fill="#f7f8f9" stroke="none" stroke-width="0.5" />
<path d="M853.7 298.5 L850.7 298.7 L847.8 298.9 L844.9 299.3 L842 299.9 L839.2 300.7 L836.5 301.8 L833.8 303.1 L831.1 304.4 L828.6 305.9 L826 307.4 L823.5 308.9 L821 310.5 L818.4 312 L815.9 313.5 L813.3 315 L810.8 316.5 L808.3 318.2 L805.9 319.9 L803.5 321.6 L801.2 323.4 L798.9 325.3 L796.6 327.2 L794.4 329.1 L792.2 331.1 L790 333.1 L787.8 335.1 L785.7 337.2 L786.6 338.2 L788.8 336.1 L790.9 334.1 L793.1 332.1 L795.3 330.2 L797.5 328.2 L799.7 326.4 L802 324.5 L804.4 322.7 L806.7 321 L809.1 319.4 L811.6 317.8 L814.1 316.2 L816.6 314.8 L819.2 313.3 L821.7 311.7 L824.3 310.2 L826.8 308.7 L829.3 307.2 L831.9 305.8 L834.4 304.4 L837.1 303.2 L839.7 302.2 L842.4 301.4 L845.1 300.8 L848 300.5 L850.8 300.2 L853.8 300.1Z" fill="#e3e5e8" stroke="none" stroke-width="0.5" />
<path d="M853.6 296.3 L850.6 296.5 L847.6 296.7 L844.5 297.1 L841.5 297.8 L838.5 298.7 L835.6 299.9 L832.8 301.2 L830.1 302.6 L827.5 304.1 L825 305.6 L822.4 307.2 L819.9 308.7 L817.4 310.2 L814.8 311.7 L812.3 313.3 L809.7 314.9 L807.2 316.5 L804.7 318.2 L802.3 320 L800 321.9 L797.6 323.8 L795.3 325.7 L793.1 327.7 L790.9 329.7 L788.7 331.7 L786.5 333.8 L784.4 335.8 L786.6 338.2 L788.8 336.1 L790.9 334.1 L793.1 332.1 L795.3 330.2 L797.5 328.2 L799.7 326.4 L802 324.5 L804.4 322.7 L806.7 321 L809.1 319.4 L811.6 317.8 L814.1 316.2 L816.6 314.8 L819.2 313.3 L821.7 311.7 L824.3 310.2 L826.8 308.7 L829.3 307.2 L831.9 305.8 L834.4 304.4 L837.1 303.2 L839.7 302.2 L842.4 301.4 L845.1 300.8 L848 300.5 L850.8 300.2 L853.8 300.1Z" fill="none" stroke="#b9bcc0" stroke-width="0.5" stroke-linejoin="round"/>
<path d="M853.7 298.5 L850.7 298.7 L847.8 298.9 L844.9 299.3 L842 299.9 L839.2 300.7 L836.5 301.8 L833.8 303.1 L831.1 304.4 L828.6 305.9 L826 307.4 L823.5 308.9 L821 310.5 L818.4 312 L815.9 313.5 L813.3 315 L810.8 316.5 L808.3 318.2 L805.9 319.9 L803.5 321.6 L801.2 323.4 L798.9 325.3 L796.6 327.2 L794.4 329.1 L792.2 331.1 L790 333.1 L787.8 335.1 L785.7 337.2" fill="none" stroke="#c3c6ca" stroke-width="0.4" />
<path d="M829.4 312.3 L831.3 313.6 L833.1 314.9 L835 316.3 L836.9 317.6 L838.8 318.9 L840.7 320.2 L842.6 321.5 L844.6 322.8 L846.5 324 L848.4 325.3 L850.4 326.5 L852.3 327.7 L854.3 328.8 L856.3 330 L858.3 331.1 L860.3 332.2 L862.3 333.3 L864.3 334.3 L866.4 335.3 L868.5 336.3 L870.5 337.3 L872.6 338.3 L874.7 339.3 L876.8 340.3 L878.9 341.2 L881 342.2 L883.1 343.1 L881.9 345.9 L879.8 344.9 L877.7 344 L875.5 343 L873.4 342 L871.3 341 L869.2 340 L867.1 339 L865.1 338 L863 337 L860.9 335.9 L858.9 334.8 L856.8 333.7 L854.8 332.6 L852.8 331.4 L850.8 330.3 L848.8 329 L846.8 327.8 L844.8 326.6 L842.9 325.3 L841 324 L839 322.7 L837.1 321.4 L835.2 320.1 L833.3 318.7 L831.4 317.4 L829.5 316.1 L827.6 314.7Z" fill="#f7f8f9" stroke="none" stroke-width="0.5" />
<path d="M828.4 313.7 L830.3 315 L832.1 316.4 L834 317.7 L835.9 319 L837.8 320.3 L839.8 321.7 L841.7 322.9 L843.6 324.2 L845.5 325.5 L847.5 326.7 L849.4 328 L851.4 329.2 L853.4 330.4 L855.4 331.5 L857.4 332.6 L859.4 333.7 L861.5 334.8 L863.5 335.9 L865.6 336.9 L867.7 337.9 L869.8 338.9 L871.9 339.9 L874 340.9 L876.1 341.8 L878.2 342.8 L880.3 343.8 L882.4 344.7 L881.9 345.9 L879.8 344.9 L877.7 344 L875.5 343 L873.4 342 L871.3 341 L869.2 340 L867.1 339 L865.1 338 L863 337 L860.9 335.9 L858.9 334.8 L856.8 333.7 L854.8 332.6 L852.8 331.4 L850.8 330.3 L848.8 329 L846.8 327.8 L844.8 326.6 L842.9 325.3 L841 324 L839 322.7 L837.1 321.4 L835.2 320.1 L833.3 318.7 L831.4 317.4 L829.5 316.1 L827.6 314.7Z" fill="#e3e5e8" stroke="none" stroke-width="0.5" />
<path d="M829.4 312.3 L831.3 313.6 L833.1 314.9 L835 316.3 L836.9 317.6 L838.8 318.9 L840.7 320.2 L842.6 321.5 L844.6 322.8 L846.5 324 L848.4 325.3 L850.4 326.5 L852.3 327.7 L854.3 328.8 L856.3 330 L858.3 331.1 L860.3 332.2 L862.3 333.3 L864.3 334.3 L866.4 335.3 L868.5 336.3 L870.5 337.3 L872.6 338.3 L874.7 339.3 L876.8 340.3 L878.9 341.2 L881 342.2 L883.1 343.1 L881.9 345.9 L879.8 344.9 L877.7 344 L875.5 343 L873.4 342 L871.3 341 L869.2 340 L867.1 339 L865.1 338 L863 337 L860.9 335.9 L858.9 334.8 L856.8 333.7 L854.8 332.6 L852.8 331.4 L850.8 330.3 L848.8 329 L846.8 327.8 L844.8 326.6 L842.9 325.3 L841 324 L839 322.7 L837.1 321.4 L835.2 320.1 L833.3 318.7 L831.4 317.4 L829.5 316.1 L827.6 314.7Z" fill="none" stroke="#b9bcc0" stroke-width="0.5" stroke-linejoin="round"/>
<path d="M828.4 313.7 L830.3 315 L832.1 316.4 L834 317.7 L835.9 319 L837.8 320.3 L839.8 321.7 L841.7 322.9 L843.6 324.2 L845.5 325.5 L847.5 326.7 L849.4 328 L851.4 329.2 L853.4 330.4 L855.4 331.5 L857.4 332.6 L859.4 333.7 L861.5 334.8 L863.5 335.9 L865.6 336.9 L867.7 337.9 L869.8 338.9 L871.9 339.9 L874 340.9 L876.1 341.8 L878.2 342.8 L880.3 343.8 L882.4 344.7" fill="none" stroke="#c3c6ca" stroke-width="0.4" />
<path d="M924.2 334.4 L921.1 334.9 L918 335.3 L914.8 335.8 L911.7 336.3 L908.6 337 L905.5 337.7 L902.4 338.6 L899.4 339.6 L896.4 340.7 L893.5 342 L890.6 343.4 L887.8 344.9 L885 346.5 L882.3 348.2 L879.6 349.9 L876.9 351.7 L874.3 353.5 L871.8 355.4 L869.3 357.4 L866.9 359.5 L864.6 361.7 L862.3 364 L860.2 366.4 L858.2 368.8 L856.3 371.3 L854.4 373.8 L852.5 376.4 L855.5 378.6 L857.4 376.1 L859.3 373.7 L861.2 371.2 L863.2 368.9 L865.2 366.6 L867.3 364.5 L869.5 362.4 L871.8 360.4 L874.2 358.5 L876.7 356.7 L879.2 354.9 L881.8 353.2 L884.4 351.5 L887 349.9 L889.7 348.4 L892.4 347 L895.1 345.7 L897.9 344.5 L900.7 343.4 L903.6 342.5 L906.5 341.7 L909.5 341 L912.5 340.4 L915.5 339.9 L918.6 339.4 L921.7 339 L924.8 338.6Z" fill="#f7f8f9" stroke="none" stroke-width="0.5" />
<path d="M924.5 336.8 L921.4 337.3 L918.3 337.7 L915.2 338.2 L912.1 338.7 L909.1 339.3 L906.1 340 L903.1 340.8 L900.2 341.8 L897.3 342.9 L894.4 344.1 L891.6 345.5 L888.9 346.9 L886.2 348.5 L883.5 350.1 L880.9 351.8 L878.2 353.6 L875.7 355.4 L873.2 357.2 L870.7 359.2 L868.4 361.2 L866.1 363.3 L864 365.5 L861.9 367.8 L860 370.2 L858 372.7 L856.1 375.2 L854.2 377.7 L855.5 378.6 L857.4 376.1 L859.3 373.7 L861.2 371.2 L863.2 368.9 L865.2 366.6 L867.3 364.5 L869.5 362.4 L871.8 360.4 L874.2 358.5 L876.7 356.7 L879.2 354.9 L881.8 353.2 L884.4 351.5 L887 349.9 L889.7 348.4 L892.4 347 L895.1 345.7 L897.9 344.5 L900.7 343.4 L903.6 342.5 L906.5 341.7 L909.5 341 L912.5 340.4 L915.5 339.9 L918.6 339.4 L921.7 339 L924.8 338.6Z" fill="#e3e5e8" stroke="none" stroke-width="0.5" />
<path d="M924.2 334.4 L921.1 334.9 L918 335.3 L914.8 335.8 L911.7 336.3 L908.6 337 L905.5 337.7 L902.4 338.6 L899.4 339.6 L896.4 340.7 L893.5 342 L890.6 343.4 L887.8 344.9 L885 346.5 L882.3 348.2 L879.6 349.9 L876.9 351.7 L874.3 353.5 L871.8 355.4 L869.3 357.4 L866.9 359.5 L864.6 361.7 L862.3 364 L860.2 366.4 L858.2 368.8 L856.3 371.3 L854.4 373.8 L852.5 376.4 L855.5 378.6 L857.4 376.1 L859.3 373.7 L861.2 371.2 L863.2 368.9 L865.2 366.6 L867.3 364.5 L869.5 362.4 L871.8 360.4 L874.2 358.5 L876.7 356.7 L879.2 354.9 L881.8 353.2 L884.4 351.5 L887 349.9 L889.7 348.4 L892.4 347 L895.1 345.7 L897.9 344.5 L900.7 343.4 L903.6 342.5 L906.5 341.7 L909.5 341 L912.5 340.4 L915.5 339.9 L918.6 339.4 L921.7 339 L924.8 338.6Z" fill="none" stroke="#b9bcc0" stroke-width="0.5" stroke-linejoin="round"/>
<path d="M924.5 336.8 L921.4 337.3 L918.3 337.7 L915.2 338.2 L912.1 338.7 L909.1 339.3 L906.1 340 L903.1 340.8 L900.2 341.8 L897.3 342.9 L894.4 344.1 L891.6 345.5 L888.9 346.9 L886.2 348.5 L883.5 350.1 L880.9 351.8 L878.2 353.6 L875.7 355.4 L873.2 357.2 L870.7 359.2 L868.4 361.2 L866.1 363.3 L864 365.5 L861.9 367.8 L860 370.2 L858 372.7 L856.1 375.2 L854.2 377.7" fill="none" stroke="#c3c6ca" stroke-width="0.4" />
<defs><linearGradient id="cbg" gradientUnits="userSpaceOnUse" x1="852" y1="222" x2="884" y2="232"><stop offset="0" stop-color="#fdfdfe"/><stop offset="0.5" stop-color="#edf1f5"/><stop offset="1" stop-color="#d2dbe6"/></linearGradient></defs>
<path d="M847.2 238.4 L849.2 235.9 L851.3 233.4 L853.4 231 L855.6 228.6 L857.9 226.2 L860.2 224 L862.7 221.9 L865.3 219.9 L868 218.1 L870.9 216.6 L873.8 215.2 L876.8 214.1 L879.9 213.1 L883 212.2 L886.2 211.4 L886.6 218 L885.8 226Z" fill="url(#cbg)" stroke="#e6eaef" stroke-width="0.4" />
<path d="M858 235 L885.8 226" fill="none" stroke="#cdd7e2" stroke-width="0.6" />
<path d="M886.2 211.4 L888.8 215.6 L886.4 217.5Z" fill="#f2f4f7" stroke="#dfe4ea" stroke-width="0.4" />
<path d="M886.8 206.5 L884.1 207.1 L881.4 208 L878.7 208.9 L876 210 L873.3 211.1 L870.6 212.3 L867.9 213.5 L865.2 214.8 L862.5 216.1 L859.8 217.6 L857.1 219.1 L854.4 220.6 L851.7 222.3 L849 224 L846.3 225.8 L843.6 227.7 L840.9 229.6 L838.2 231.7 L835.5 233.8 L832.8 236.1 L830.1 238.4 L827.4 240.8 L824.7 243.5 L822 246.7 L822 249.3 L824.7 246.1 L827.4 243.4 L830.1 241 L832.8 238.7 L835.5 236.4 L838.2 234.3 L840.9 232.2 L843.6 230.3 L846.3 228.4 L849 226.6 L851.7 224.9 L854.4 223.2 L857.1 221.7 L859.8 220.2 L862.5 218.7 L865.2 217.4 L867.9 216.1 L870.6 214.9 L873.3 213.7 L876 212.6 L878.7 211.5 L881.4 210.6 L884.1 209.7 L886.8 209.1Z" fill="#8a8d90" stroke="none" stroke-width="0.5" />
<path d="M573.4 104 L580.5 109.7 L587.6 114.8 L594.7 119.3 L601.8 123.3 L608.9 127 L616 130.3 L623.1 133.3 L630.2 135.9 L637.3 138.2 L644.4 139.9 L651.5 140.9 L658.6 141.6 L665.7 142.6 L672.8 144.3 L679.9 146.7 L687 149.5 L694.1 153.5 L701.3 158 L708.4 162.7 L715.5 167.8 L722.6 173.4 L729.7 179.6 L736.8 186.5 L743.9 194.4 L751 202.2 L758.1 209 L765.2 215.2 L772.3 220.7 L779.4 225.6 L786.5 230 L793.6 233.9 L800.7 237.4 L807.8 240.7 L814.9 243.7 L822 246.7 L822 248.5 L814.9 245.6 L807.8 242.5 L800.7 239.2 L793.6 235.7 L786.5 231.8 L779.4 227.4 L772.3 222.5 L765.2 217.1 L758.1 210.8 L751 204 L743.9 196.2 L736.8 188.3 L729.7 181.5 L722.6 175.2 L715.5 169.6 L708.4 164.6 L701.3 159.8 L694.1 155.3 L687 151.3 L679.9 148.5 L672.8 146.2 L665.7 144.5 L658.6 143.4 L651.5 142.7 L644.4 141.7 L637.3 140 L630.2 137.7 L623.1 135.1 L616 132.2 L608.9 128.8 L601.8 125.1 L594.7 121.1 L587.6 116.6 L580.5 111.6 L573.4 105.8Z" fill="#b3b5b8" stroke="none" stroke-width="0.5" />
<path d="M638.6 63.4 L645.7 69.7 L652.8 75.2 L659.9 80 L667 84.5 L674.1 88.3 L681.1 91.6 L688.2 94.3 L695.3 96.6 L702.4 98.3 L709.5 99.8 L716.6 101 L723.7 101.9 L730.8 103.3 L737.9 105.4 L745 107.9 L752.1 110.7 L759.2 114 L766.2 118 L773.3 122.4 L780.4 127.1 L787.5 132.7 L794.6 139.7 L801.7 147 L808.8 154.2 L815.9 161.2 L823 168 L830.1 174.4 L837.2 179.9 L844.3 184.7 L851.3 189.3 L858.4 193.7 L865.5 197.5 L872.6 200.9 L879.7 203.9 L886.8 206.5 L886.8 206.5 L884.1 207.1 L881.4 208 L878.7 208.9 L876 210 L873.3 211.1 L870.6 212.3 L867.9 213.5 L865.2 214.8 L862.5 216.1 L859.8 217.6 L857.1 219.1 L854.4 220.6 L851.7 222.3 L849 224 L846.3 225.8 L843.6 227.7 L840.9 229.6 L838.2 231.7 L835.5 233.8 L832.8 236.1 L830.1 238.4 L827.4 240.8 L824.7 243.5 L822 246.7 L822 246.7 L814.9 243.7 L807.8 240.7 L800.7 237.4 L793.6 233.9 L786.5 230 L779.4 225.6 L772.3 220.7 L765.2 215.2 L758.1 209 L751 202.2 L743.9 194.4 L736.8 186.5 L729.7 179.6 L722.6 173.4 L715.5 167.8 L708.4 162.7 L701.3 158 L694.1 153.5 L687 149.5 L679.9 146.7 L672.8 144.3 L665.7 142.6 L658.6 141.6 L651.5 140.9 L644.4 139.9 L637.3 138.2 L630.2 135.9 L623.1 133.3 L616 130.3 L608.9 127 L601.8 123.3 L594.7 119.3 L587.6 114.8 L580.5 109.7 L573.4 104 L573.4 104 L576.1 99.6 L578.8 96.2 L581.5 93.2 L584.3 90.3 L587 87.7 L589.7 85.2 L592.4 82.8 L595.1 80.6 L597.9 78.6 L600.6 76.7 L603.3 74.9 L606 73.3 L608.7 71.8 L611.4 70.4 L614.1 69.1 L616.9 68 L619.6 67 L622.3 66.1 L625 65.3 L627.7 64.5 L630.4 63.9 L633.2 63.5 L635.9 63.2 L638.6 63.4Z" fill="#909395" stroke="none" stroke-width="0.5" />
<path d="M638.6 63.4 L637.3 62.3 L637.3 62.9 L636.5 63.1ZM886.8 206.5 L888.4 207.1 L886.1 206.7 L884.7 206.9Z" fill="#888b8e" stroke="none" stroke-width="0.5" />
<path d="M637.5 63.1 L644.6 69.4 L651.7 74.9 L658.8 79.8 L665.9 84.3 L673 88.1 L680.1 91.4 L687.2 94.1 L694.3 96.4 L701.4 98.2 L708.5 99.6 L715.6 100.8 L722.6 101.8 L729.7 103.1 L736.8 105.3 L743.9 107.8 L751 110.5 L758.1 113.9 L765.2 117.9 L772.3 122.4 L779.4 127.1 L786.5 132.7 L793.6 139.7 L800.7 147 L807.7 154.2 L814.8 161.3 L821.9 168 L829 174.4 L836.1 179.9 L843.2 184.8 L850.3 189.4 L857.4 193.7 L864.5 197.6 L871.6 201 L878.7 204 L885.8 206.6 L884.7 206.9 L877.6 204.2 L870.5 201.2 L863.4 197.8 L856.3 194 L849.3 189.6 L842.2 185 L835.1 180.1 L828 174.6 L820.9 168.2 L813.8 161.5 L806.7 154.4 L799.6 147.1 L792.5 139.8 L785.4 132.9 L778.3 127.3 L771.2 122.5 L764.1 118.1 L757.1 114 L750 110.6 L742.9 107.8 L735.8 105.4 L728.7 103.2 L721.6 101.9 L714.5 100.9 L707.4 99.7 L700.3 98.2 L693.2 96.4 L686.1 94.2 L679 91.4 L672 88.1 L664.9 84.3 L657.8 79.8 L650.7 74.9 L643.6 69.4 L636.5 63.1Z" fill="#9b9ea1" stroke="none" stroke-width="0.5" />
<path d="M636.5 63.1 L635.2 62 L635.2 63 L634.4 63.3ZM884.7 206.9 L886.3 207.5 L884 207.3 L882.6 207.5Z" fill="#888b8e" stroke="none" stroke-width="0.5" />
<path d="M635.4 63.2 L642.5 69.5 L649.6 74.9 L656.7 79.8 L663.8 84.3 L670.9 88.2 L678 91.5 L685.1 94.2 L692.2 96.5 L699.3 98.3 L706.4 99.8 L713.5 101 L720.5 102 L727.6 103.4 L734.7 105.5 L741.8 108 L748.9 110.8 L756 114.2 L763.1 118.2 L770.2 122.7 L777.3 127.5 L784.4 133.1 L791.5 140 L798.6 147.3 L805.7 154.6 L812.7 161.7 L819.8 168.5 L826.9 174.9 L834 180.4 L841.1 185.3 L848.2 189.9 L855.3 194.3 L862.4 198.1 L869.5 201.5 L876.6 204.5 L883.7 207.2 L882.6 207.5 L875.5 204.8 L868.4 201.8 L861.3 198.4 L854.3 194.6 L847.2 190.2 L840.1 185.6 L833 180.7 L825.9 175.2 L818.8 168.8 L811.7 162 L804.6 154.8 L797.5 147.6 L790.4 140.3 L783.3 133.3 L776.2 127.7 L769.1 122.9 L762.1 118.5 L755 114.4 L747.9 111 L740.8 108.2 L733.7 105.7 L726.6 103.5 L719.5 102.2 L712.4 101.2 L705.3 100 L698.2 98.5 L691.1 96.6 L684 94.4 L676.9 91.6 L669.9 88.3 L662.8 84.4 L655.7 80 L648.6 75.1 L641.5 69.6 L634.4 63.3Z" fill="#9c9fa2" stroke="none" stroke-width="0.5" />
<path d="M634.4 63.3 L633.1 62.2 L633.1 63.2 L632.3 63.6ZM882.6 207.5 L884.2 208.1 L881.9 208 L880.5 208.3Z" fill="#888b8e" stroke="none" stroke-width="0.5" />
<path d="M633.3 63.4 L640.4 69.7 L647.5 75.2 L654.6 80.1 L661.7 84.6 L668.8 88.4 L675.9 91.8 L683 94.5 L690.1 96.8 L697.2 98.7 L704.3 100.2 L711.4 101.4 L718.5 102.4 L725.5 103.7 L732.6 105.9 L739.7 108.4 L746.8 111.2 L753.9 114.6 L761 118.7 L768.1 123.2 L775.2 128 L782.3 133.6 L789.4 140.5 L796.5 147.9 L803.6 155.1 L810.7 162.3 L817.7 169.1 L824.8 175.5 L831.9 181 L839 185.9 L846.1 190.5 L853.2 194.9 L860.3 198.8 L867.4 202.1 L874.5 205.2 L881.6 207.9 L880.5 208.3 L873.4 205.5 L866.3 202.5 L859.3 199.1 L852.2 195.2 L845.1 190.9 L838 186.3 L830.9 181.4 L823.8 175.8 L816.7 169.4 L809.6 162.6 L802.5 155.4 L795.4 148.1 L788.3 140.8 L781.2 133.9 L774.1 128.3 L767 123.4 L760 119 L752.9 114.8 L745.8 111.4 L738.7 108.6 L731.6 106.1 L724.5 104 L717.4 102.6 L710.3 101.6 L703.2 100.4 L696.1 98.9 L689 97 L681.9 94.7 L674.8 91.9 L667.8 88.6 L660.7 84.7 L653.6 80.3 L646.5 75.3 L639.4 69.9 L632.3 63.6Z" fill="#9c9fa2" stroke="none" stroke-width="0.5" />
<path d="M632.3 63.6 L631 62.5 L631 63.6 L630.2 64ZM880.5 208.3 L882.1 208.9 L879.8 208.8 L878.4 209Z" fill="#888b8e" stroke="none" stroke-width="0.5" />
<path d="M631.2 63.8 L638.3 70.1 L645.4 75.5 L652.5 80.4 L659.6 84.9 L666.7 88.8 L673.8 92.1 L680.9 94.9 L688 97.2 L695.1 99.1 L702.2 100.6 L709.3 101.9 L716.4 102.8 L723.4 104.2 L730.5 106.3 L737.6 108.8 L744.7 111.7 L751.8 115.1 L758.9 119.2 L766 123.7 L773.1 128.6 L780.2 134.2 L787.3 141.1 L794.4 148.4 L801.5 155.7 L808.6 162.9 L815.6 169.8 L822.7 176.2 L829.8 181.7 L836.9 186.6 L844 191.2 L851.1 195.6 L858.2 199.5 L865.3 202.9 L872.4 205.9 L879.5 208.6 L878.4 209 L871.3 206.3 L864.3 203.2 L857.2 199.8 L850.1 196 L843 191.6 L835.9 187 L828.8 182.1 L821.7 176.5 L814.6 170.1 L807.5 163.3 L800.4 156.1 L793.3 148.8 L786.2 141.5 L779.1 134.5 L772 128.9 L765 124 L757.9 119.5 L750.8 115.4 L743.7 111.9 L736.6 109.1 L729.5 106.6 L722.4 104.5 L715.3 103.1 L708.2 102.1 L701.1 100.9 L694 99.3 L686.9 97.4 L679.8 95.1 L672.7 92.3 L665.7 89 L658.6 85.1 L651.5 80.6 L644.4 75.7 L637.3 70.3 L630.2 64Z" fill="#9d9fa2" stroke="none" stroke-width="0.5" />
<path d="M630.2 64 L628.9 62.9 L628.9 64 L628.1 64.5ZM878.4 209 L880 209.6 L877.7 209.6 L876.3 209.8Z" fill="#888b8e" stroke="none" stroke-width="0.5" />
<path d="M629.1 64.2 L636.2 70.5 L643.3 75.9 L650.4 80.9 L657.5 85.3 L664.6 89.2 L671.7 92.6 L678.8 95.4 L685.9 97.7 L693 99.6 L700.1 101.1 L707.2 102.4 L714.3 103.4 L721.3 104.7 L728.4 106.9 L735.5 109.4 L742.6 112.2 L749.7 115.7 L756.8 119.9 L763.9 124.4 L771 129.2 L778.1 134.9 L785.2 141.8 L792.3 149.1 L799.4 156.4 L806.5 163.7 L813.6 170.5 L820.6 176.9 L827.7 182.4 L834.8 187.4 L841.9 192 L849 196.3 L856.1 200.2 L863.2 203.6 L870.3 206.7 L877.4 209.4 L876.3 209.8 L869.3 207.1 L862.2 204 L855.1 200.6 L848 196.7 L840.9 192.4 L833.8 187.8 L826.7 182.8 L819.6 177.3 L812.5 170.9 L805.4 164 L798.3 156.8 L791.2 149.4 L784.1 142.1 L777 135.2 L769.9 129.6 L762.9 124.7 L755.8 120.2 L748.7 116 L741.6 112.5 L734.5 109.7 L727.4 107.2 L720.3 105 L713.2 103.7 L706.1 102.7 L699 101.4 L691.9 99.9 L684.8 97.9 L677.7 95.6 L670.6 92.8 L663.6 89.4 L656.5 85.5 L649.4 81.1 L642.3 76.2 L635.2 70.7 L628.1 64.5Z" fill="#9da0a3" stroke="none" stroke-width="0.5" />
<path d="M628.1 64.5 L626.8 63.3 L626.8 64.5 L626 65ZM876.3 209.8 L877.9 210.5 L875.6 210.4 L874.3 210.7Z" fill="#898c8e" stroke="none" stroke-width="0.5" />
<path d="M627 64.7 L634.1 71 L641.2 76.4 L648.3 81.3 L655.4 85.8 L662.5 89.7 L669.6 93.1 L676.7 95.9 L683.8 98.2 L690.9 100.2 L698 101.7 L705.1 103 L712.2 104 L719.2 105.3 L726.3 107.4 L733.4 110 L740.5 112.8 L747.6 116.3 L754.7 120.5 L761.8 125 L768.9 129.9 L776 135.6 L783.1 142.5 L790.2 149.8 L797.3 157.1 L804.4 164.4 L811.5 171.2 L818.6 177.7 L825.6 183.2 L832.7 188.2 L839.8 192.8 L846.9 197.1 L854 201 L861.1 204.4 L868.2 207.5 L875.3 210.3 L874.3 210.7 L867.2 207.9 L860.1 204.8 L853 201.4 L845.9 197.5 L838.8 193.2 L831.7 188.6 L824.6 183.6 L817.5 178.1 L810.4 171.6 L803.3 164.8 L796.2 157.5 L789.1 150.1 L782 142.8 L774.9 135.9 L767.9 130.3 L760.8 125.4 L753.7 120.9 L746.6 116.7 L739.5 113.1 L732.4 110.3 L725.3 107.8 L718.2 105.6 L711.1 104.3 L704 103.3 L696.9 102 L689.8 100.5 L682.7 98.5 L675.6 96.2 L668.5 93.3 L661.4 89.9 L654.4 86.1 L647.3 81.6 L640.2 76.7 L633.1 71.2 L626 65Z" fill="#9da0a3" stroke="none" stroke-width="0.5" />
<path d="M626 65 L624.7 63.9 L624.7 65.1 L623.9 65.6ZM874.3 210.7 L875.8 211.3 L873.5 211.3 L872.2 211.6Z" fill="#898c8e" stroke="none" stroke-width="0.5" />
<path d="M624.9 65.3 L632 71.5 L639.1 77 L646.2 81.9 L653.3 86.3 L660.4 90.2 L667.5 93.6 L674.6 96.4 L681.7 98.8 L688.8 100.8 L695.9 102.4 L703 103.6 L710.1 104.6 L717.1 106 L724.2 108.1 L731.3 110.6 L738.4 113.5 L745.5 117 L752.6 121.2 L759.7 125.8 L766.8 130.7 L773.9 136.3 L781 143.2 L788.1 150.5 L795.2 157.9 L802.3 165.2 L809.4 172.1 L816.5 178.5 L823.6 184.1 L830.6 189 L837.7 193.6 L844.8 198 L851.9 201.9 L859 205.3 L866.1 208.4 L873.2 211.1 L872.2 211.6 L865.1 208.8 L858 205.7 L850.9 202.3 L843.8 198.4 L836.7 194 L829.6 189.4 L822.5 184.5 L815.4 178.9 L808.3 172.5 L801.2 165.6 L794.1 158.3 L787 150.9 L779.9 143.6 L772.9 136.7 L765.8 131.1 L758.7 126.2 L751.6 121.6 L744.5 117.4 L737.4 113.8 L730.3 110.9 L723.2 108.4 L716.1 106.3 L709 104.9 L701.9 103.9 L694.8 102.7 L687.7 101.1 L680.6 99.1 L673.5 96.8 L666.4 93.9 L659.3 90.5 L652.3 86.6 L645.2 82.2 L638.1 77.3 L631 71.8 L623.9 65.6Z" fill="#9ea1a4" stroke="none" stroke-width="0.5" />
<path d="M623.9 65.6 L622.6 64.5 L622.6 65.7 L621.8 66.2ZM872.2 211.6 L873.7 212.2 L871.4 212.2 L870.1 212.5Z" fill="#898c8e" stroke="none" stroke-width="0.5" />
<path d="M622.8 65.9 L629.9 72.1 L637 77.6 L644.1 82.5 L651.2 86.9 L658.3 90.8 L665.4 94.2 L672.5 97.1 L679.6 99.5 L686.7 101.5 L693.8 103 L700.9 104.3 L708 105.3 L715.1 106.6 L722.1 108.8 L729.2 111.3 L736.3 114.2 L743.4 117.7 L750.5 122 L757.6 126.5 L764.7 131.5 L771.8 137.1 L778.9 144 L786 151.3 L793.1 158.7 L800.2 166.1 L807.3 172.9 L814.4 179.3 L821.5 184.9 L828.6 189.9 L835.7 194.5 L842.7 198.8 L849.8 202.7 L856.9 206.1 L864 209.2 L871.1 212 L870.1 212.5 L863 209.7 L855.9 206.6 L848.8 203.2 L841.7 199.3 L834.6 194.9 L827.5 190.3 L820.4 185.4 L813.3 179.8 L806.2 173.4 L799.1 166.5 L792 159.1 L784.9 151.7 L777.9 144.4 L770.8 137.5 L763.7 131.9 L756.6 126.9 L749.5 122.4 L742.4 118.1 L735.3 114.5 L728.2 111.6 L721.1 109.1 L714 107 L706.9 105.7 L699.8 104.7 L692.7 103.4 L685.6 101.8 L678.5 99.8 L671.4 97.4 L664.3 94.5 L657.2 91.1 L650.2 87.2 L643.1 82.8 L636 77.9 L628.9 72.5 L621.8 66.2Z" fill="#9ea1a4" stroke="none" stroke-width="0.5" />
<path d="M621.8 66.2 L620.5 65.1 L620.5 66.4 L619.7 66.9ZM870.1 212.5 L871.7 213.1 L869.3 213.1 L868 213.5Z" fill="#898c8f" stroke="none" stroke-width="0.5" />
<path d="M620.7 66.6 L627.8 72.8 L634.9 78.3 L642 83.1 L649.1 87.6 L656.2 91.5 L663.3 94.9 L670.4 97.8 L677.5 100.2 L684.6 102.2 L691.7 103.8 L698.8 105 L705.9 106 L713 107.4 L720 109.5 L727.1 112 L734.2 114.9 L741.3 118.5 L748.4 122.8 L755.5 127.4 L762.6 132.3 L769.7 138 L776.8 144.8 L783.9 152.1 L791 159.6 L798.1 166.9 L805.2 173.8 L812.3 180.2 L819.4 185.8 L826.5 190.8 L833.6 195.4 L840.7 199.7 L847.7 203.6 L854.8 207 L861.9 210.2 L869 213 L868 213.5 L860.9 210.6 L853.8 207.5 L846.7 204.1 L839.6 200.2 L832.5 195.9 L825.4 191.3 L818.3 186.3 L811.2 180.7 L804.1 174.3 L797 167.4 L789.9 160 L782.9 152.5 L775.8 145.3 L768.7 138.4 L761.6 132.7 L754.5 127.8 L747.4 123.2 L740.3 118.9 L733.2 115.3 L726.1 112.4 L719 109.9 L711.9 107.8 L704.8 106.4 L697.7 105.4 L690.6 104.2 L683.5 102.6 L676.4 100.5 L669.3 98.1 L662.2 95.2 L655.1 91.8 L648 87.9 L641 83.5 L633.9 78.6 L626.8 73.2 L619.7 66.9Z" fill="#9fa2a4" stroke="none" stroke-width="0.5" />
<path d="M619.7 66.9 L618.4 65.8 L618.4 67.1 L617.6 67.7ZM868 213.5 L869.6 214.1 L867.3 214.1 L865.9 214.5Z" fill="#898c8f" stroke="none" stroke-width="0.5" />
<path d="M618.6 67.3 L625.7 73.5 L632.8 79 L639.9 83.9 L647 88.3 L654.1 92.2 L661.2 95.6 L668.3 98.5 L675.4 100.9 L682.5 103 L689.6 104.6 L696.7 105.8 L703.8 106.8 L710.9 108.2 L717.9 110.3 L725 112.8 L732.1 115.7 L739.2 119.3 L746.3 123.6 L753.4 128.2 L760.5 133.2 L767.6 138.9 L774.7 145.7 L781.8 153 L788.9 160.5 L796 167.9 L803.1 174.7 L810.2 181.2 L817.3 186.8 L824.4 191.7 L831.5 196.4 L838.6 200.7 L845.7 204.6 L852.8 208 L859.8 211.1 L866.9 214 L865.9 214.5 L858.8 211.6 L851.7 208.5 L844.6 205.1 L837.5 201.2 L830.4 196.9 L823.3 192.2 L816.2 187.3 L809.1 181.7 L802 175.2 L794.9 168.4 L787.9 160.9 L780.8 153.4 L773.7 146.2 L766.6 139.3 L759.5 133.6 L752.4 128.7 L745.3 124.1 L738.2 119.8 L731.1 116.1 L724 113.2 L716.9 110.7 L709.8 108.6 L702.7 107.3 L695.6 106.3 L688.5 105 L681.4 103.4 L674.3 101.3 L667.2 98.9 L660.1 96 L653 92.6 L645.9 88.7 L638.9 84.2 L631.8 79.4 L624.7 73.9 L617.6 67.7Z" fill="#9fa2a5" stroke="none" stroke-width="0.5" />
<path d="M617.6 67.7 L616.3 66.6 L616.3 67.9 L615.5 68.6ZM865.9 214.5 L867.5 215.1 L865.2 215.1 L863.8 215.5Z" fill="#898c8f" stroke="none" stroke-width="0.5" />
<path d="M616.5 68.1 L623.6 74.3 L630.7 79.8 L637.8 84.6 L644.9 89.1 L652 93 L659.1 96.4 L666.2 99.3 L673.3 101.7 L680.4 103.8 L687.5 105.4 L694.6 106.7 L701.7 107.7 L708.8 109 L715.9 111.1 L722.9 113.7 L730 116.6 L737.1 120.2 L744.2 124.5 L751.3 129.2 L758.4 134.1 L765.5 139.8 L772.6 146.6 L779.7 153.9 L786.8 161.4 L793.9 168.8 L801 175.7 L808.1 182.2 L815.2 187.8 L822.3 192.7 L829.4 197.4 L836.5 201.7 L843.6 205.6 L850.7 209 L857.8 212.1 L864.9 215 L863.8 215.5 L856.7 212.6 L849.6 209.5 L842.5 206.1 L835.4 202.2 L828.3 197.9 L821.2 193.3 L814.1 188.3 L807 182.7 L799.9 176.2 L792.9 169.3 L785.8 161.9 L778.7 154.4 L771.6 147.1 L764.5 140.3 L757.4 134.6 L750.3 129.6 L743.2 125 L736.1 120.7 L729 117 L721.9 114.1 L714.8 111.6 L707.7 109.5 L700.6 108.1 L693.5 107.1 L686.4 105.9 L679.3 104.2 L672.2 102.2 L665.1 99.7 L658 96.8 L650.9 93.4 L643.8 89.5 L636.8 85.1 L629.7 80.2 L622.6 74.8 L615.5 68.6Z" fill="#a0a2a5" stroke="none" stroke-width="0.5" />
<path d="M615.5 68.6 L614.2 67.4 L614.2 68.8 L613.4 69.5ZM863.8 215.5 L865.4 216.1 L863.1 216.1 L861.7 216.6Z" fill="#898c8f" stroke="none" stroke-width="0.5" />
<path d="M614.4 69 L621.5 75.2 L628.6 80.6 L635.7 85.5 L642.8 89.9 L649.9 93.8 L657 97.3 L664.1 100.2 L671.2 102.6 L678.3 104.7 L685.4 106.4 L692.5 107.6 L699.6 108.6 L706.7 109.9 L713.8 112 L720.8 114.6 L727.9 117.5 L735 121.2 L742.1 125.5 L749.2 130.1 L756.3 135.1 L763.4 140.8 L770.5 147.6 L777.6 154.9 L784.7 162.4 L791.8 169.9 L798.9 176.8 L806 183.2 L813.1 188.8 L820.2 193.8 L827.3 198.4 L834.4 202.7 L841.5 206.6 L848.6 210 L855.7 213.1 L862.8 216 L861.7 216.6 L854.6 213.7 L847.5 210.5 L840.4 207.1 L833.3 203.2 L826.2 198.9 L819.1 194.3 L812 189.3 L804.9 183.7 L797.9 177.3 L790.8 170.4 L783.7 162.9 L776.6 155.4 L769.5 148.1 L762.4 141.3 L755.3 135.6 L748.2 130.6 L741.1 126 L734 121.6 L726.9 117.9 L719.8 115 L712.7 112.5 L705.6 110.4 L698.5 109.1 L691.4 108.1 L684.3 106.8 L677.2 105.2 L670.1 103.1 L663 100.6 L655.9 97.7 L648.8 94.3 L641.7 90.4 L634.6 85.9 L627.6 81.1 L620.5 75.7 L613.4 69.5Z" fill="#a0a3a5" stroke="none" stroke-width="0.5" />
<path d="M613.4 69.5 L612.1 68.4 L612.1 69.7 L611.3 70.5ZM861.7 216.6 L863.3 217.2 L861 217.2 L859.6 217.7Z" fill="#898c8f" stroke="none" stroke-width="0.5" />
<path d="M612.3 70 L619.4 76.2 L626.5 81.6 L633.6 86.4 L640.7 90.8 L647.8 94.7 L654.9 98.2 L662 101.1 L669.1 103.6 L676.2 105.7 L683.3 107.3 L690.4 108.6 L697.5 109.6 L704.6 110.9 L711.7 113 L718.8 115.5 L725.8 118.4 L732.9 122.1 L740 126.5 L747.1 131.1 L754.2 136.1 L761.3 141.8 L768.4 148.6 L775.5 155.9 L782.6 163.5 L789.7 170.9 L796.8 177.8 L803.9 184.3 L811 189.9 L818.1 194.9 L825.2 199.5 L832.3 203.8 L839.4 207.6 L846.5 211.1 L853.6 214.2 L860.7 217.1 L859.6 217.7 L852.5 214.8 L845.4 211.6 L838.3 208.2 L831.2 204.3 L824.1 200 L817 195.4 L810 190.4 L802.9 184.8 L795.8 178.4 L788.7 171.5 L781.6 164 L774.5 156.4 L767.4 149.2 L760.3 142.4 L753.2 136.7 L746.1 131.7 L739 127 L731.9 122.7 L724.8 118.9 L717.7 116 L710.6 113.5 L703.5 111.4 L696.4 110.1 L689.3 109.1 L682.2 107.9 L675.1 106.2 L668 104.1 L660.9 101.6 L653.8 98.6 L646.7 95.2 L639.6 91.3 L632.5 86.9 L625.5 82 L618.4 76.6 L611.3 70.5Z" fill="#a1a3a6" stroke="none" stroke-width="0.5" />
<path d="M611.3 70.5 L610 69.4 L610 70.8 L609.2 71.5ZM859.6 217.7 L861.2 218.3 L858.9 218.4 L857.5 218.8Z" fill="#898c8f" stroke="none" stroke-width="0.5" />
<path d="M610.2 71 L617.3 77.2 L624.4 82.6 L631.5 87.4 L638.6 91.8 L645.7 95.7 L652.8 99.1 L659.9 102.1 L667 104.6 L674.1 106.7 L681.2 108.4 L688.3 109.6 L695.4 110.6 L702.5 111.9 L709.6 114 L716.7 116.5 L723.7 119.5 L730.8 123.2 L737.9 127.5 L745 132.2 L752.1 137.2 L759.2 142.9 L766.3 149.7 L773.4 156.9 L780.5 164.5 L787.6 172.1 L794.7 179 L801.8 185.4 L808.9 191 L816 196 L823.1 200.6 L830.2 204.9 L837.3 208.8 L844.4 212.2 L851.5 215.3 L858.6 218.2 L857.5 218.8 L850.4 215.9 L843.3 212.8 L836.2 209.3 L829.1 205.5 L822.1 201.2 L815 196.6 L807.9 191.6 L800.8 186 L793.7 179.5 L786.6 172.6 L779.5 165.1 L772.4 157.5 L765.3 150.3 L758.2 143.5 L751.1 137.8 L744 132.8 L736.9 128.1 L729.8 123.7 L722.7 120 L715.6 117.1 L708.5 114.5 L701.4 112.5 L694.3 111.2 L687.2 110.2 L680.1 108.9 L673 107.2 L665.9 105.1 L658.8 102.6 L651.7 99.7 L644.6 96.2 L637.5 92.3 L630.4 87.9 L623.3 83.1 L616.3 77.7 L609.2 71.5Z" fill="#a1a4a6" stroke="none" stroke-width="0.5" />
<path d="M609.2 71.5 L607.9 70.4 L607.8 71.9 L607.1 72.7ZM857.5 218.8 L859.1 219.5 L856.8 219.5 L855.4 220Z" fill="#898c8f" stroke="none" stroke-width="0.5" />
<path d="M608.1 72.1 L615.2 78.2 L622.3 83.6 L629.4 88.5 L636.5 92.9 L643.6 96.7 L650.7 100.2 L657.8 103.1 L664.9 105.6 L672 107.8 L679.1 109.5 L686.2 110.7 L693.3 111.7 L700.4 113 L707.5 115.1 L714.6 117.6 L721.7 120.5 L728.7 124.3 L735.8 128.7 L742.9 133.4 L750 138.4 L757.1 144.1 L764.2 150.8 L771.3 158.1 L778.4 165.7 L785.5 173.2 L792.6 180.1 L799.7 186.6 L806.8 192.2 L813.9 197.2 L821 201.8 L828.1 206.1 L835.2 209.9 L842.3 213.3 L849.4 216.5 L856.5 219.4 L855.4 220 L848.3 217.1 L841.3 213.9 L834.2 210.5 L827.1 206.7 L820 202.4 L812.9 197.8 L805.8 192.8 L798.7 187.2 L791.6 180.8 L784.5 173.8 L777.4 166.3 L770.3 158.6 L763.2 151.4 L756.1 144.7 L749 139 L741.9 134 L734.8 129.3 L727.7 124.9 L720.6 121.1 L713.5 118.2 L706.4 115.6 L699.3 113.6 L692.2 112.3 L685.1 111.3 L678 110.1 L670.9 108.4 L663.8 106.2 L656.7 103.7 L649.6 100.8 L642.5 97.3 L635.4 93.4 L628.3 89 L621.2 84.2 L614.1 78.8 L607.1 72.7Z" fill="#a2a4a7" stroke="none" stroke-width="0.5" />
<path d="M607.1 72.7 L605.8 71.5 L605.7 73 L604.9 73.9ZM855.4 220 L857 220.7 L854.7 220.8 L853.4 221.3Z" fill="#8a8c8f" stroke="none" stroke-width="0.5" />
<path d="M606 73.3 L613.1 79.4 L620.2 84.8 L627.3 89.6 L634.4 94 L641.5 97.9 L648.6 101.3 L655.7 104.3 L662.8 106.8 L669.9 109 L677 110.7 L684.1 111.9 L691.2 112.9 L698.3 114.2 L705.4 116.2 L712.5 118.7 L719.6 121.7 L726.7 125.5 L733.7 129.9 L740.8 134.6 L747.9 139.6 L755 145.3 L762.1 152 L769.2 159.2 L776.3 166.9 L783.4 174.5 L790.5 181.4 L797.6 187.8 L804.7 193.4 L811.8 198.4 L818.9 203 L826 207.3 L833.1 211.1 L840.2 214.5 L847.3 217.7 L854.4 220.6 L853.4 221.3 L846.3 218.3 L839.2 215.2 L832.1 211.7 L825 207.9 L817.9 203.6 L810.8 199.1 L803.7 194.1 L796.6 188.4 L789.5 182 L782.4 175.1 L775.3 167.5 L768.2 159.8 L761.1 152.7 L754 145.9 L746.9 140.2 L739.8 135.2 L732.7 130.5 L725.6 126.1 L718.5 122.3 L711.4 119.3 L704.3 116.8 L697.2 114.8 L690.1 113.5 L683 112.5 L675.9 111.3 L668.8 109.6 L661.7 107.4 L654.6 104.9 L647.5 101.9 L640.4 98.4 L633.3 94.6 L626.2 90.2 L619.1 85.4 L612 80 L604.9 73.9Z" fill="#a2a4a7" stroke="none" stroke-width="0.5" />
<path d="M604.9 73.9 L603.7 72.8 L603.6 74.3 L602.8 75.2ZM853.4 221.3 L854.9 221.9 L852.6 222 L851.3 222.5Z" fill="#8a8d8f" stroke="none" stroke-width="0.5" />
<path d="M603.9 74.5 L611 80.6 L618.1 86 L625.2 90.8 L632.3 95.2 L639.4 99.1 L646.5 102.5 L653.6 105.5 L660.7 108 L667.8 110.2 L674.9 111.9 L682 113.1 L689.1 114.1 L696.2 115.4 L703.3 117.4 L710.4 119.9 L717.5 122.9 L724.6 126.7 L731.7 131.1 L738.7 135.8 L745.8 140.9 L752.9 146.6 L760 153.3 L767.1 160.5 L774.2 168.1 L781.3 175.7 L788.4 182.7 L795.5 189.1 L802.6 194.7 L809.7 199.7 L816.8 204.3 L823.9 208.5 L831 212.4 L838.1 215.8 L845.2 219 L852.3 221.9 L851.3 222.5 L844.2 219.6 L837.1 216.4 L830 213 L822.9 209.2 L815.8 204.9 L808.7 200.4 L801.6 195.4 L794.5 189.7 L787.4 183.3 L780.3 176.4 L773.2 168.8 L766.1 161.1 L759 153.9 L751.9 147.2 L744.8 141.5 L737.7 136.5 L730.6 131.7 L723.5 127.3 L716.4 123.5 L709.3 120.6 L702.2 118.1 L695.1 116 L688 114.7 L680.9 113.8 L673.8 112.6 L666.7 110.8 L659.6 108.6 L652.5 106.1 L645.4 103.1 L638.3 99.7 L631.2 95.8 L624.1 91.4 L617 86.6 L609.9 81.3 L602.8 75.2Z" fill="#a2a5a7" stroke="none" stroke-width="0.5" />
<path d="M602.8 75.2 L601.6 74.1 L601.5 75.6 L600.7 76.5ZM851.3 222.5 L852.8 223.2 L850.5 223.3 L849.2 223.9Z" fill="#8a8d8f" stroke="none" stroke-width="0.5" />
<path d="M601.8 75.8 L608.9 82 L616 87.3 L623.1 92.1 L630.2 96.5 L637.3 100.3 L644.4 103.8 L651.5 106.8 L658.6 109.3 L665.7 111.5 L672.8 113.2 L679.9 114.4 L687 115.4 L694.1 116.7 L701.2 118.7 L708.3 121.2 L715.4 124.2 L722.5 128 L729.6 132.4 L736.7 137.1 L743.8 142.2 L750.8 147.9 L757.9 154.6 L765 161.8 L772.1 169.5 L779.2 177.1 L786.3 184 L793.4 190.4 L800.5 196 L807.6 201 L814.7 205.6 L821.8 209.9 L828.9 213.7 L836 217.1 L843.1 220.3 L850.2 223.2 L849.2 223.9 L842.1 220.9 L835 217.8 L827.9 214.3 L820.8 210.5 L813.7 206.3 L806.6 201.7 L799.5 196.7 L792.4 191.1 L785.3 184.7 L778.2 177.8 L771.1 170.1 L764 162.4 L756.9 155.3 L749.8 148.6 L742.7 142.9 L735.6 137.8 L728.5 133.1 L721.4 128.7 L714.3 124.8 L707.2 121.9 L700.1 119.4 L693 117.4 L685.9 116.1 L678.8 115.1 L671.7 113.9 L664.6 112.2 L657.5 110 L650.4 107.4 L643.3 104.5 L636.2 101 L629.1 97.1 L622 92.8 L614.9 88 L607.8 82.6 L600.7 76.5Z" fill="#a3a5a8" stroke="none" stroke-width="0.5" />
<path d="M600.7 76.5 L599.5 75.4 L599.4 77 L598.6 78ZM849.2 223.9 L850.7 224.5 L848.4 224.7 L847.1 225.3Z" fill="#8a8d8f" stroke="none" stroke-width="0.5" />
<path d="M599.7 77.3 L606.8 83.3 L613.9 88.7 L621 93.5 L628.1 97.8 L635.2 101.7 L642.3 105.1 L649.4 108.1 L656.5 110.7 L663.6 112.9 L670.7 114.6 L677.8 115.8 L684.9 116.8 L692 118.1 L699.1 120.1 L706.2 122.6 L713.3 125.5 L720.4 129.4 L727.5 133.8 L734.6 138.5 L741.7 143.6 L748.8 149.3 L755.9 156 L763 163.1 L770 170.8 L777.1 178.5 L784.2 185.4 L791.3 191.8 L798.4 197.4 L805.5 202.4 L812.6 207 L819.7 211.2 L826.8 215 L833.9 218.4 L841 221.6 L848.1 224.6 L847.1 225.3 L840 222.3 L832.9 219.1 L825.8 215.7 L818.7 211.9 L811.6 207.7 L804.5 203.1 L797.4 198.1 L790.3 192.5 L783.2 186.1 L776.1 179.2 L769 171.5 L761.9 163.8 L754.8 156.7 L747.7 150 L740.6 144.3 L733.5 139.2 L726.4 134.5 L719.3 130.1 L712.2 126.2 L705.1 123.3 L698 120.8 L690.9 118.8 L683.8 117.5 L676.7 116.5 L669.6 115.3 L662.5 113.6 L655.4 111.4 L648.3 108.8 L641.2 105.8 L634.1 102.4 L627 98.5 L619.9 94.2 L612.8 89.4 L605.7 84.1 L598.6 78Z" fill="#a3a6a8" stroke="none" stroke-width="0.5" />
<path d="M598.6 78 L597.3 76.9 L597.3 78.5 L596.5 79.5ZM847.1 225.3 L848.7 225.9 L846.4 226.1 L845 226.7Z" fill="#8a8d8f" stroke="none" stroke-width="0.5" />
<path d="M597.6 78.8 L604.7 84.8 L611.8 90.1 L618.9 94.9 L626 99.2 L633.1 103.1 L640.2 106.6 L647.3 109.6 L654.4 112.1 L661.5 114.3 L668.6 116.1 L675.7 117.3 L682.8 118.2 L689.9 119.5 L697 121.5 L704.1 124 L711.2 126.9 L718.3 130.8 L725.4 135.2 L732.5 140 L739.6 145 L746.7 150.8 L753.8 157.4 L760.9 164.5 L768 172.3 L775.1 179.9 L782.2 186.9 L789.2 193.3 L796.3 198.9 L803.4 203.9 L810.5 208.4 L817.6 212.6 L824.7 216.4 L831.8 219.8 L838.9 223 L846 226 L845 226.7 L837.9 223.7 L830.8 220.6 L823.7 217.2 L816.6 213.4 L809.5 209.2 L802.4 204.6 L795.3 199.6 L788.2 194 L781.1 187.6 L774 180.7 L766.9 173 L759.8 165.3 L752.7 158.1 L745.6 151.5 L738.5 145.8 L731.4 140.7 L724.3 136 L717.2 131.5 L710.1 127.6 L703 124.7 L695.9 122.2 L688.8 120.2 L681.7 119 L674.6 118 L667.5 116.8 L660.4 115.1 L653.3 112.9 L646.2 110.3 L639.1 107.3 L632 103.8 L624.9 100 L617.8 95.7 L610.7 90.9 L603.6 85.6 L596.5 79.5Z" fill="#a4a6a9" stroke="none" stroke-width="0.5" />
<path d="M596.5 79.5 L595.2 78.4 L595.2 80.1 L594.4 81.2ZM845 226.7 L846.6 227.4 L844.3 227.6 L842.9 228.2Z" fill="#8a8d8f" stroke="none" stroke-width="0.5" />
<path d="M595.5 80.4 L602.6 86.4 L609.7 91.7 L616.8 96.4 L623.9 100.8 L631 104.6 L638.1 108.1 L645.2 111.1 L652.3 113.6 L659.4 115.9 L666.5 117.6 L673.6 118.8 L680.7 119.7 L687.8 121 L694.9 123 L702 125.4 L709.1 128.4 L716.2 132.3 L723.3 136.7 L730.4 141.5 L737.5 146.6 L744.6 152.3 L751.7 158.9 L758.8 166 L765.9 173.8 L773 181.4 L780.1 188.4 L787.2 194.8 L794.3 200.4 L801.4 205.4 L808.5 209.9 L815.6 214.1 L822.7 217.9 L829.8 221.3 L836.8 224.5 L843.9 227.4 L842.9 228.2 L835.8 225.2 L828.7 222 L821.6 218.6 L814.5 214.9 L807.4 210.7 L800.3 206.1 L793.2 201.1 L786.1 195.5 L779 189.1 L771.9 182.2 L764.8 174.5 L757.7 166.8 L750.6 159.7 L743.5 153.1 L736.4 147.3 L729.3 142.3 L722.2 137.5 L715.1 133.1 L708 129.2 L700.9 126.2 L693.8 123.7 L686.7 121.8 L679.6 120.5 L672.5 119.6 L665.4 118.4 L658.3 116.7 L651.2 114.4 L644.1 111.8 L637 108.9 L629.9 105.4 L622.8 101.6 L615.7 97.2 L608.6 92.5 L601.5 87.2 L594.4 81.2Z" fill="#a4a7a9" stroke="none" stroke-width="0.5" />
<path d="M594.4 81.2 L593.1 80.1 L593.1 81.8 L592.3 82.9ZM842.9 228.2 L844.5 228.8 L842.2 229.1 L840.8 229.7Z" fill="#8a8d8f" stroke="none" stroke-width="0.5" />
<path d="M593.4 82 L600.5 88.1 L607.6 93.3 L614.7 98.1 L621.8 102.4 L628.9 106.2 L636 109.7 L643.1 112.7 L650.2 115.2 L657.3 117.5 L664.4 119.2 L671.5 120.4 L678.6 121.3 L685.7 122.6 L692.8 124.5 L699.9 127 L707 129.9 L714.1 133.8 L721.2 138.3 L728.3 143.1 L735.4 148.2 L742.5 153.9 L749.6 160.4 L756.7 167.5 L763.8 175.3 L770.9 183 L778 189.9 L785.1 196.3 L792.2 201.9 L799.3 206.9 L806.4 211.5 L813.5 215.6 L820.6 219.4 L827.7 222.8 L834.8 226 L841.9 228.9 L840.8 229.7 L833.7 226.7 L826.6 223.6 L819.5 220.2 L812.4 216.4 L805.3 212.3 L798.2 207.7 L791.1 202.7 L784 197.1 L776.9 190.7 L769.8 183.8 L762.7 176.1 L755.6 168.3 L748.5 161.2 L741.4 154.7 L734.3 149 L727.2 143.9 L720.1 139.1 L713 134.7 L705.9 130.7 L698.8 127.8 L691.7 125.3 L684.6 123.4 L677.5 122.2 L670.4 121.2 L663.3 120.1 L656.2 118.3 L649.1 116.1 L642 113.5 L634.9 110.5 L627.8 107 L620.7 103.2 L613.6 98.9 L606.5 94.2 L599.4 88.9 L592.3 82.9Z" fill="#a5a7a9" stroke="none" stroke-width="0.5" />
<path d="M592.3 82.9 L591 81.8 L591 83.6 L590.2 84.7ZM840.8 229.7 L842.4 230.4 L840.1 230.6 L838.7 231.3Z" fill="#8a8d8f" stroke="none" stroke-width="0.5" />
<path d="M591.3 83.8 L598.4 89.8 L605.5 95 L612.6 99.8 L619.7 104 L626.8 107.9 L633.9 111.3 L641 114.3 L648.1 116.9 L655.2 119.2 L662.3 120.9 L669.4 122.1 L676.5 123 L683.6 124.2 L690.7 126.1 L697.8 128.6 L704.9 131.6 L712 135.5 L719.1 139.9 L726.2 144.7 L733.3 149.8 L740.4 155.5 L747.5 162.1 L754.6 169.1 L761.7 176.9 L768.8 184.6 L775.9 191.6 L783 197.9 L790.1 203.5 L797.2 208.5 L804.3 213.1 L811.4 217.2 L818.5 221 L825.6 224.3 L832.7 227.5 L839.8 230.5 L838.7 231.3 L831.6 228.3 L824.5 225.1 L817.4 221.8 L810.3 218 L803.2 213.9 L796.1 209.4 L789 204.4 L781.9 198.8 L774.8 192.4 L767.7 185.5 L760.6 177.8 L753.5 170 L746.4 162.9 L739.3 156.4 L732.2 150.7 L725.1 145.6 L718 140.8 L710.9 136.3 L703.8 132.4 L696.7 129.5 L689.6 127 L682.5 125.1 L675.4 123.9 L668.3 123 L661.2 121.8 L654.1 120 L647 117.8 L639.9 115.2 L632.8 112.2 L625.7 108.7 L618.6 104.9 L611.5 100.6 L604.4 95.9 L597.3 90.7 L590.2 84.7Z" fill="#a5a7aa" stroke="none" stroke-width="0.5" />
<path d="M590.2 84.7 L588.9 83.6 L588.9 85.4 L588.1 86.6ZM838.7 231.3 L840.3 231.9 L838 232.2 L836.6 232.9Z" fill="#8a8d90" stroke="none" stroke-width="0.5" />
<path d="M589.2 85.6 L596.3 91.6 L603.4 96.9 L610.5 101.5 L617.6 105.8 L624.7 109.6 L631.8 113.1 L638.9 116.1 L646 118.7 L653.1 120.9 L660.2 122.7 L667.3 123.9 L674.4 124.7 L681.5 125.9 L688.6 127.9 L695.7 130.3 L702.8 133.2 L709.9 137.2 L717 141.7 L724.1 146.4 L731.2 151.5 L738.3 157.2 L745.4 163.7 L752.5 170.8 L759.6 178.6 L766.7 186.3 L773.8 193.3 L780.9 199.6 L788 205.2 L795.1 210.2 L802.2 214.7 L809.3 218.8 L816.4 222.6 L823.5 225.9 L830.6 229.1 L837.7 232.1 L836.6 232.9 L829.5 229.9 L822.4 226.8 L815.3 223.4 L808.2 219.7 L801.1 215.6 L794 211.1 L786.9 206.1 L779.8 200.5 L772.7 194.1 L765.6 187.2 L758.5 179.5 L751.4 171.7 L744.3 164.6 L737.2 158.1 L730.1 152.4 L723 147.3 L715.9 142.5 L708.8 138.1 L701.7 134.1 L694.6 131.2 L687.5 128.7 L680.4 126.8 L673.3 125.6 L666.2 124.8 L659.1 123.6 L652 121.9 L644.9 119.6 L637.8 117 L630.7 114 L623.6 110.5 L616.5 106.7 L609.4 102.5 L602.3 97.8 L595.2 92.6 L588.1 86.6Z" fill="#a6a8aa" stroke="none" stroke-width="0.5" />
<path d="M588.1 86.6 L586.8 85.5 L586.8 87.4 L586 88.6ZM836.6 232.9 L838.2 233.6 L835.9 233.9 L834.5 234.6Z" fill="#8a8d90" stroke="none" stroke-width="0.5" />
<path d="M587.1 87.6 L594.2 93.5 L601.3 98.8 L608.4 103.4 L615.5 107.7 L622.6 111.5 L629.7 114.9 L636.8 117.9 L643.9 120.5 L651 122.8 L658.1 124.6 L665.2 125.7 L672.3 126.6 L679.4 127.7 L686.5 129.6 L693.6 132.1 L700.7 135 L707.8 139 L714.9 143.4 L722 148.2 L729.1 153.3 L736.2 159 L743.3 165.5 L750.4 172.5 L757.5 180.4 L764.6 188.1 L771.7 195 L778.8 201.4 L785.9 207 L793 211.9 L800.1 216.4 L807.2 220.5 L814.3 224.2 L821.4 227.6 L828.5 230.8 L835.6 233.8 L834.5 234.6 L827.4 231.6 L820.3 228.5 L813.2 225.1 L806.1 221.4 L799 217.3 L791.9 212.8 L784.8 207.8 L777.7 202.3 L770.6 195.9 L763.5 189 L756.4 181.3 L749.3 173.4 L742.2 166.4 L735.1 159.9 L728 154.2 L720.9 149.1 L713.8 144.4 L706.7 139.9 L699.6 135.9 L692.5 133 L685.4 130.6 L678.3 128.7 L671.2 127.5 L664.1 126.6 L657 125.5 L649.9 123.7 L642.8 121.5 L635.7 118.9 L628.6 115.9 L621.5 112.4 L614.4 108.6 L607.3 104.4 L600.2 99.7 L593.1 94.5 L586 88.6Z" fill="#a6a8aa" stroke="none" stroke-width="0.5" />
<path d="M586 88.6 L584.7 87.5 L584.7 89.4 L583.9 90.7ZM834.5 234.6 L836.1 235.3 L833.8 235.6 L832.5 236.4Z" fill="#8a8d90" stroke="none" stroke-width="0.5" />
<path d="M585 89.6 L592.1 95.6 L599.2 100.7 L606.3 105.4 L613.4 109.6 L620.5 113.4 L627.6 116.8 L634.7 119.8 L641.8 122.4 L648.9 124.7 L656 126.5 L663.1 127.6 L670.2 128.5 L677.3 129.6 L684.4 131.5 L691.5 133.9 L698.6 136.9 L705.7 140.8 L712.8 145.3 L719.9 150.1 L727 155.2 L734.1 160.9 L741.2 167.3 L748.3 174.3 L755.4 182.2 L762.5 189.9 L769.6 196.8 L776.7 203.2 L783.8 208.8 L790.9 213.7 L798 218.2 L805.1 222.3 L812.2 226 L819.3 229.3 L826.4 232.5 L833.5 235.5 L832.5 236.4 L825.4 233.4 L818.2 230.2 L811.1 226.9 L804 223.2 L796.9 219.1 L789.8 214.6 L782.7 209.7 L775.6 204.1 L768.5 197.8 L761.4 190.9 L754.3 183.1 L747.2 175.3 L740.1 168.3 L733 161.8 L725.9 156.1 L718.8 151.1 L711.7 146.3 L704.6 141.8 L697.5 137.8 L690.4 134.9 L683.3 132.5 L676.2 130.6 L669.1 129.5 L662 128.6 L654.9 127.5 L647.8 125.7 L640.7 123.4 L633.6 120.8 L626.5 117.8 L619.4 114.4 L612.3 110.6 L605.2 106.4 L598.1 101.8 L591 96.6 L583.9 90.7Z" fill="#a7a9ab" stroke="none" stroke-width="0.5" />
<path d="M583.9 90.7 L582.6 89.6 L582.6 91.6 L581.8 92.9ZM832.5 236.4 L834 237 L831.7 237.4 L830.4 238.2Z" fill="#8b8e90" stroke="none" stroke-width="0.5" />
<path d="M582.9 91.8 L590 97.7 L597.1 102.8 L604.2 107.5 L611.3 111.7 L618.4 115.4 L625.5 118.9 L632.6 121.9 L639.7 124.5 L646.8 126.8 L653.9 128.5 L661 129.6 L668.1 130.5 L675.2 131.6 L682.3 133.4 L689.4 135.9 L696.5 138.8 L703.6 142.8 L710.7 147.3 L717.8 152 L724.9 157.1 L732 162.8 L739.1 169.2 L746.2 176.2 L753.3 184.1 L760.4 191.8 L767.5 198.7 L774.6 205.1 L781.7 210.6 L788.8 215.6 L795.9 220.1 L803 224.1 L810.1 227.8 L817.2 231.1 L824.3 234.3 L831.4 237.3 L830.4 238.2 L823.3 235.2 L816.2 232 L809.1 228.7 L802 225 L794.9 221 L787.8 216.5 L780.7 211.6 L773.6 206 L766.4 199.7 L759.3 192.8 L752.2 185 L745.1 177.2 L738 170.2 L730.9 163.8 L723.8 158.1 L716.7 153 L709.6 148.3 L702.5 143.8 L695.4 139.8 L688.3 136.9 L681.2 134.5 L674.1 132.6 L667 131.5 L659.9 130.7 L652.8 129.6 L645.7 127.8 L638.6 125.5 L631.5 122.9 L624.4 119.9 L617.3 116.5 L610.2 112.7 L603.1 108.5 L596 103.9 L588.9 98.8 L581.8 92.9Z" fill="#a7a9ab" stroke="none" stroke-width="0.5" />
<path d="M581.8 92.9 L580.5 91.8 L580.5 93.8 L579.7 95.2ZM830.4 238.2 L831.9 238.8 L829.6 239.2 L828.3 240Z" fill="#8b8e90" stroke="none" stroke-width="0.5" />
<path d="M580.8 94 L587.9 99.9 L595 105 L602.1 109.6 L609.2 113.8 L616.3 117.6 L623.4 121 L630.5 124 L637.6 126.6 L644.7 128.9 L651.8 130.6 L658.9 131.7 L666 132.6 L673.1 133.7 L680.2 135.5 L687.3 137.9 L694.4 140.8 L701.5 144.8 L708.6 149.3 L715.7 154.1 L722.8 159.2 L729.9 164.8 L737 171.2 L744.1 178.2 L751.2 186 L758.3 193.8 L765.4 200.7 L772.5 207 L779.6 212.6 L786.7 217.5 L793.8 222 L800.9 226 L808 229.6 L815.1 233 L822.2 236.1 L829.3 239.1 L828.3 240 L821.2 237.1 L814.1 233.9 L807 230.6 L799.9 227 L792.8 222.9 L785.7 218.5 L778.6 213.6 L771.5 208 L764.4 201.7 L757.3 194.8 L750.2 187 L743 179.2 L735.9 172.2 L728.8 165.9 L721.7 160.2 L714.6 155.1 L707.5 150.3 L700.4 145.8 L693.3 141.8 L686.2 138.9 L679.1 136.5 L672 134.7 L664.9 133.6 L657.8 132.8 L650.7 131.8 L643.6 130 L636.5 127.7 L629.4 125.1 L622.3 122.1 L615.2 118.7 L608.1 114.9 L601 110.8 L593.9 106.2 L586.8 101.1 L579.7 95.2Z" fill="#a7aaac" stroke="none" stroke-width="0.5" />
<path d="M579.7 95.2 L578.4 94.1 L578.4 96.2 L577.6 97.7ZM828.3 240 L829.8 240.7 L827.5 241.1 L826.2 242Z" fill="#8b8e90" stroke="none" stroke-width="0.5" />
<path d="M578.7 96.4 L585.8 102.3 L592.9 107.4 L600 112 L607.1 116.1 L614.2 119.8 L621.3 123.2 L628.4 126.2 L635.5 128.8 L642.6 131.1 L649.7 132.9 L656.8 134 L663.9 134.8 L671 135.9 L678.1 137.6 L685.2 140 L692.3 142.9 L699.4 146.9 L706.5 151.4 L713.6 156.2 L720.7 161.3 L727.8 166.9 L734.9 173.3 L742 180.2 L749.1 188.1 L756.2 195.9 L763.3 202.8 L770.4 209.1 L777.5 214.6 L784.6 219.5 L791.7 224 L798.8 227.9 L805.9 231.6 L813 234.9 L820.1 238 L827.2 241 L826.2 242 L819.1 239 L812 235.9 L804.9 232.6 L797.8 229 L790.7 225 L783.6 220.6 L776.5 215.6 L769.4 210.1 L762.3 203.8 L755.2 197 L748.1 189.2 L741 181.3 L733.9 174.4 L726.8 168 L719.6 162.4 L712.5 157.3 L705.4 152.5 L698.3 148 L691.2 144 L684.1 141.1 L677 138.8 L669.9 137 L662.8 135.9 L655.7 135.1 L648.6 134.1 L641.5 132.3 L634.4 130 L627.3 127.4 L620.2 124.4 L613.1 121 L606 117.3 L598.9 113.2 L591.8 108.6 L584.7 103.5 L577.6 97.7Z" fill="#a8aaac" stroke="none" stroke-width="0.5" />
<path d="M577.6 97.7 L576.3 96.6 L576.3 98.8 L575.5 100.4ZM826.2 242 L827.7 242.7 L825.4 243.2 L824.1 244.1Z" fill="#8b8e90" stroke="none" stroke-width="0.5" />
<path d="M576.6 99 L583.7 104.8 L590.8 109.9 L597.9 114.4 L605 118.6 L612.1 122.3 L619.2 125.7 L626.3 128.7 L633.4 131.2 L640.5 133.5 L647.6 135.3 L654.7 136.3 L661.8 137.1 L668.9 138.2 L676 139.9 L683.1 142.3 L690.2 145.2 L697.3 149.2 L704.4 153.7 L711.5 158.5 L718.6 163.6 L725.7 169.2 L732.8 175.5 L739.9 182.4 L747 190.3 L754.1 198.1 L761.2 205 L768.3 211.2 L775.4 216.7 L782.5 221.7 L789.6 226.1 L796.7 230 L803.8 233.6 L810.9 236.9 L818 240 L825.1 243 L824.1 244.1 L817 241.1 L809.9 238 L802.8 234.7 L795.7 231.1 L788.6 227.2 L781.5 222.8 L774.4 217.9 L767.3 212.4 L760.2 206.1 L753.1 199.3 L746 191.5 L738.9 183.6 L731.8 176.7 L724.7 170.4 L717.6 164.8 L710.5 159.7 L703.3 154.9 L696.2 150.4 L689.1 146.4 L682 143.5 L674.9 141.2 L667.8 139.4 L660.7 138.4 L653.6 137.6 L646.5 136.6 L639.4 134.9 L632.3 132.5 L625.2 130 L618.1 127 L611 123.6 L603.9 119.9 L596.8 115.8 L589.7 111.3 L582.6 106.2 L575.5 100.4Z" fill="#a8aaac" stroke="none" stroke-width="0.5" />
<path d="M575.5 100.4 L574.2 99.3 L574.2 101.7 L573.4 104ZM824.1 244.1 L825.7 244.8 L823.4 245.4 L822 246.7Z" fill="#8b8e90" stroke="none" stroke-width="0.5" />
<path d="M574.5 101.9 L581.6 107.7 L588.7 112.7 L595.8 117.3 L602.9 121.4 L610 125 L617.1 128.4 L624.2 131.4 L631.3 134 L638.4 136.3 L645.5 138 L652.6 139 L659.7 139.8 L666.8 140.8 L673.9 142.5 L681 144.9 L688.1 147.7 L695.2 151.8 L702.3 156.2 L709.4 161 L716.5 166.1 L723.6 171.7 L730.7 178 L737.8 184.8 L744.9 192.7 L752 200.5 L759.1 207.4 L766.2 213.6 L773.3 219.1 L780.4 224 L787.5 228.4 L794.6 232.3 L801.7 235.9 L808.8 239.2 L815.9 242.3 L823 245.2 L822 246.7 L814.9 243.7 L807.8 240.7 L800.7 237.4 L793.6 233.9 L786.5 230 L779.4 225.6 L772.3 220.7 L765.2 215.2 L758.1 209 L751 202.2 L743.9 194.4 L736.8 186.5 L729.7 179.6 L722.6 173.4 L715.5 167.8 L708.4 162.7 L701.3 158 L694.1 153.5 L687 149.5 L679.9 146.7 L672.8 144.3 L665.7 142.6 L658.6 141.6 L651.5 140.9 L644.4 139.9 L637.3 138.2 L630.2 135.9 L623.1 133.3 L616 130.3 L608.9 127 L601.8 123.3 L594.7 119.3 L587.6 114.8 L580.5 109.7 L573.4 104Z" fill="#a9abad" stroke="none" stroke-width="0.5" />
<path d="M609.2 276.4 L610.9 278.9 L612.4 281.4 L613.8 283.9 L615.1 286.5 L616.3 289.1 L617.4 291.7 L618.4 294.3 L619.4 296.9 L620.2 299.6 L621 302.3 L621.6 305.1 L622.1 307.9 L622.5 310.7 L625.9 310.3 L625.5 307.3 L625 304.4 L624.4 301.5 L623.6 298.6 L622.7 295.8 L621.7 293 L620.6 290.3 L619.2 287.7 L617.6 285.1 L616 282.6 L614.2 280.2 L612.4 277.8 L610.4 275.4Z" fill="#e2e6ea" stroke="#a3a7ac" stroke-width="0.45" stroke-linejoin="round"/>
<path d="M613.6 280.6 L615.2 283.1 L616.8 285.6 L618.2 288.2 L619.4 290.8 L620.5 293.5 L621.5 296.2 L622.4 299 L623.2 301.8 L623.8 304.6 L624.3 307.5 L624.7 310.4" fill="none" stroke="#c6cace" stroke-width="0.35" />
<path d="M592.4 281.3 L595.1 284.3 L597.6 287.4 L599.9 290.5 L602.1 293.6 L604 296.7 L605.7 299.9 L607.4 303 L609 306.2 L610.3 309.4 L611.4 312.7 L612.4 316 L613.2 319.3 L613.8 322.8 L617.2 322.2 L616.6 318.6 L615.8 315.1 L614.8 311.6 L613.6 308.2 L612.2 304.8 L610.6 301.4 L608.8 298.1 L606.7 295 L604.4 291.9 L601.9 288.9 L599.3 286 L596.4 283.1 L593.4 280.3Z" fill="#e2e6ea" stroke="#a3a7ac" stroke-width="0.45" stroke-linejoin="round"/>
<path d="M598.7 286.5 L601.2 289.4 L603.6 292.5 L605.7 295.6 L607.7 298.7 L609.5 302 L611 305.3 L612.4 308.6 L613.6 312 L614.6 315.4 L615.4 318.9 L616 322.4" fill="none" stroke="#c6cace" stroke-width="0.35" />
<path d="M632.8 283.8L633.5 283.8L634.2 310.5L632 310.5Z" fill="#dfe2e6" stroke="#b0b4b8" stroke-width="0.4"/>
<path d="M648.8 288.4 L647.7 289.8 L646.6 291.3 L645.6 292.9 L644.7 294.4 L643.8 296 L643.1 297.7 L642.5 299.4 L641.9 301.2 L641.5 303 L641.1 304.8 L640.7 306.6 L640.5 308.5 L640.3 310.3 L643.7 310.7 L643.9 308.9 L644.2 307.2 L644.5 305.5 L644.9 303.8 L645.3 302.1 L645.8 300.5 L646.3 298.9 L646.8 297.2 L647.3 295.6 L647.9 294 L648.5 292.4 L649.3 290.8 L650 289.2Z" fill="#e2e6ea" stroke="#a3a7ac" stroke-width="0.45" stroke-linejoin="round"/>
<path d="M647.9 292 L647.1 293.6 L646.4 295.2 L645.8 296.8 L645.2 298.5 L644.6 300.1 L644.1 301.8 L643.7 303.5 L643.3 305.2 L643 307 L642.7 308.7 L642.5 310.6" fill="none" stroke="#c6cace" stroke-width="0.35" />
<path d="M660.7 295.2 L658.9 296.7 L657.1 298.3 L655.5 300 L654 301.7 L652.6 303.4 L651.2 305.2 L650.2 307.1 L649.2 309.1 L648.4 311 L647.7 313 L647 315.1 L646.5 317.1 L646.2 319.2 L649.6 319.8 L650 317.9 L650.4 316 L651 314.1 L651.6 312.3 L652.4 310.5 L653.3 308.7 L654.3 307 L655.2 305.2 L656.3 303.4 L657.5 301.6 L658.8 299.8 L660.2 298 L661.7 296.2Z" fill="#e2e6ea" stroke="#a3a7ac" stroke-width="0.45" stroke-linejoin="round"/>
<path d="M658.2 299.3 L656.8 301 L655.5 302.8 L654.3 304.6 L653.2 306.4 L652.2 308.2 L651.3 310 L650.5 311.9 L649.8 313.7 L649.2 315.7 L648.8 317.6 L648.4 319.6" fill="none" stroke="#c6cace" stroke-width="0.35" />
<path d="M594.6 298.4 L597.5 300 L600.1 301.7 L602.6 303.4 L604.9 305.1 L606.9 306.8 L608.7 308.5 L610.5 310.1 L612 311.8 L613.4 313.4 L614.5 315 L615.5 316.7 L616.2 318.3 L616.8 320.1 L620.2 318.9 L619.5 317 L618.6 315.1 L617.5 313.1 L616.1 311.3 L614.6 309.4 L612.9 307.6 L611 305.9 L608.9 304.3 L606.5 302.8 L604 301.3 L601.2 299.8 L598.3 298.4 L595.2 297Z" fill="#e2e6ea" stroke="#a3a7ac" stroke-width="0.45" stroke-linejoin="round"/>
<path d="M600.8 300.5 L603.5 302 L605.9 303.6 L608.2 305.2 L610.2 306.8 L612.1 308.5 L613.7 310.3 L615.2 312 L616.4 313.8 L617.5 315.6 L618.3 317.5 L619 319.3" fill="none" stroke="#c6cace" stroke-width="0.35" />
<path d="M670.8 304.9 L668.1 306 L665.6 307 L663.3 308.1 L661.1 309.2 L659.1 310.4 L657.2 311.6 L655.5 313 L654.1 314.4 L652.8 315.8 L651.6 317.3 L650.7 318.8 L649.9 320.4 L649.3 321.9 L652.5 323.1 L653 321.8 L653.7 320.6 L654.5 319.3 L655.4 318.1 L656.6 316.8 L657.9 315.6 L659.3 314.4 L660.9 313 L662.6 311.6 L664.6 310.3 L666.7 308.9 L668.9 307.6 L671.4 306.3Z" fill="#e2e6ea" stroke="#a3a7ac" stroke-width="0.45" stroke-linejoin="round"/>
<path d="M666.3 308.3 L664.1 309.5 L662.1 310.8 L660.3 312.1 L658.6 313.4 L657.1 314.7 L655.7 316 L654.5 317.3 L653.5 318.6 L652.6 319.9 L651.9 321.3 L651.4 322.7" fill="none" stroke="#c6cace" stroke-width="0.35" />
<path d="M673.9 311.8 L671 312.6 L668.2 313.3 L665.7 314.1 L663.3 315 L661.1 315.8 L659 316.7 L657.2 317.8 L655.6 318.9 L654.1 320 L652.9 321.2 L651.8 322.4 L650.8 323.6 L650.2 324.9 L653.2 326.5 L653.8 325.5 L654.5 324.6 L655.3 323.7 L656.4 322.7 L657.6 321.7 L659.1 320.8 L660.7 319.8 L662.5 318.7 L664.4 317.6 L666.6 316.5 L669 315.4 L671.6 314.3 L674.3 313.2Z" fill="#e2e6ea" stroke="#a3a7ac" stroke-width="0.45" stroke-linejoin="round"/>
<path d="M668.7 314.7 L666.3 315.7 L664 316.7 L662 317.7 L660.1 318.7 L658.4 319.7 L656.9 320.7 L655.6 321.8 L654.5 322.8 L653.5 323.8 L652.8 324.9 L652.2 326" fill="none" stroke="#c6cace" stroke-width="0.35" />
<rect x="614.2" y="322.5" width="2.5" height="35" fill="#d9dce0" stroke="#a6aaaf" stroke-width="0.4"/>
<rect x="649.6" y="322.5" width="2.5" height="35.5" fill="#eaedf0" stroke="#b0b4b9" stroke-width="0.4"/>
<rect x="617.2" y="319.5" width="2.5" height="43" fill="#d9dce0" stroke="#a6aaaf" stroke-width="0.4"/>
<rect x="646.6" y="319.5" width="2.5" height="42" fill="#eaedf0" stroke="#b0b4b9" stroke-width="0.4"/>
<rect x="623" y="310.5" width="2.5" height="56" fill="#eaedf0" stroke="#b0b4b9" stroke-width="0.4"/>
<rect x="640.8" y="310.5" width="2.5" height="56" fill="#eaedf0" stroke="#b0b4b9" stroke-width="0.4"/>
<rect x="632.3" y="310.5" width="1.6" height="57.5" fill="#eaedf0" stroke="#b0b4b9" stroke-width="0.4"/>
<line x1="626.2" y1="321.5" x2="626.2" y2="354" stroke="#a0a3a7" stroke-width="0.9" stroke-dasharray="0.9 2.5"/>
<line x1="640" y1="321.5" x2="640" y2="354" stroke="#a0a3a7" stroke-width="0.9" stroke-dasharray="0.9 2.5"/>
<line x1="622.2" y1="321.5" x2="622.2" y2="354" stroke="#a0a3a7" stroke-width="0.9" stroke-dasharray="0.9 2.5"/>
<line x1="644" y1="321.5" x2="644" y2="354" stroke="#a0a3a7" stroke-width="0.9" stroke-dasharray="0.9 2.5"/>
<path d="M656.7 318.8 L655 318.7 L653.5 318.7 L652 318.8 L650.6 319 L649.3 319.4 L648.1 319.9 L647 320.6 L646.1 321.4 L645.3 322.4 L644.6 323.4 L644.1 324.6 L643.7 325.9 L643.5 327.3 L646.3 327.7 L646.5 326.6 L646.8 325.6 L647.1 324.7 L647.6 324 L648.1 323.3 L648.7 322.8 L649.5 322.3 L650.3 321.9 L651.3 321.6 L652.4 321.3 L653.6 321.2 L655 321.1 L656.5 321.2Z" fill="#e2e6ea" stroke="#a3a7ac" stroke-width="0.45" stroke-linejoin="round"/>
<ellipse cx="633.1" cy="346.2" rx="6.1" ry="3.3" fill="#e2e3e5" stroke="#8f9194" stroke-width="0.6"/>
<ellipse cx="633.1" cy="346.2" rx="3.4" ry="1.6" fill="#f4f4f5" stroke="#9b9da0" stroke-width="0.45"/>
<ellipse cx="633.1" cy="346.2" rx="1.2" ry="0.6" fill="#c9cacc"/>
<ellipse cx="633.1" cy="335.9" rx="6.1" ry="3.3" fill="#e2e3e5" stroke="#8f9194" stroke-width="0.6"/>
<ellipse cx="633.1" cy="335.9" rx="3.4" ry="1.6" fill="#f4f4f5" stroke="#9b9da0" stroke-width="0.45"/>
<ellipse cx="633.1" cy="335.9" rx="1.2" ry="0.6" fill="#c9cacc"/>
<ellipse cx="633.1" cy="325.4" rx="8.2" ry="4.1" fill="#ecedef" stroke="#8f9194" stroke-width="0.65"/>
<ellipse cx="633.1" cy="325.7" rx="5.7" ry="2.5" fill="#ffffff" stroke="#8f9194" stroke-width="0.55"/>
<path d="M643.5 314.5L645.4 313.9M642.1 317L643.8 317M638.3 318.8L639.2 319.3M633.1 319.5L633.1 320.1M627.9 318.8L627 319.3M624.1 317L622.4 317M622.7 314.5L620.8 313.9M624.1 312L622.4 310.8M627.9 310.2L627 308.5M633.1 309.5L633.1 307.7M638.3 310.2L639.2 308.5M642.1 312L643.8 310.8" fill="none" stroke="#9b9ea2" stroke-width="0.6" />
<ellipse cx="633.1" cy="314.5" rx="10.2" ry="4.9" fill="#f1f2f4" stroke="#8f9194" stroke-width="0.7"/>
<ellipse cx="633.1" cy="314.8" rx="7.5" ry="3.2" fill="#ffffff" stroke="#8f9194" stroke-width="0.6"/>
<path d="M551.2 304.3 L552.9 307.2 L554.5 310.2 L555.9 313.1 L557.3 316.1 L558.5 319.2 L559.6 322.2 L560.7 325.3 L561.7 328.4 L562.6 331.5 L563.3 334.7 L563.9 337.9 L564.5 341.2 L564.9 344.6 L568.3 344.2 L567.9 340.8 L567.4 337.3 L566.7 334 L565.9 330.6 L565 327.4 L564 324.1 L562.8 321 L561.4 317.9 L559.8 314.9 L558.2 311.9 L556.4 309.1 L554.4 306.2 L552.4 303.5Z" fill="#e2e6ea" stroke="#a3a7ac" stroke-width="0.45" stroke-linejoin="round"/>
<path d="M555.7 309.4 L557.4 312.4 L558.9 315.3 L560.4 318.3 L561.7 321.4 L562.8 324.5 L563.9 327.7 L564.8 330.9 L565.5 334.2 L566.2 337.6 L566.7 340.9 L567.1 344.3" fill="none" stroke="#c6cace" stroke-width="0.35" />
<path d="M575.1 306.8L575.9 306.8L576.6 344.4L574.4 344.4Z" fill="#dfe2e6" stroke="#b0b4b8" stroke-width="0.4"/>
<path d="M590.7 312.5 L589.7 314.7 L588.7 316.9 L587.7 319.1 L586.8 321.4 L586 323.8 L585.2 326.2 L584.7 328.7 L584.2 331.2 L583.8 333.7 L583.4 336.3 L583.1 338.9 L582.8 341.6 L582.7 344.3 L586.1 344.5 L586.3 341.9 L586.6 339.3 L586.9 336.8 L587.2 334.3 L587.7 331.8 L588.1 329.4 L588.7 327 L589.1 324.6 L589.6 322.3 L590.1 319.9 L590.7 317.6 L591.4 315.3 L592.1 313.1Z" fill="#e2e6ea" stroke="#a3a7ac" stroke-width="0.45" stroke-linejoin="round"/>
<path d="M590 317.4 L589.3 319.6 L588.6 322 L588 324.3 L587.5 326.7 L586.9 329.1 L586.4 331.6 L586 334.1 L585.7 336.6 L585.4 339.2 L585.1 341.8 L584.9 344.4" fill="none" stroke="#c6cace" stroke-width="0.35" />
<path d="M534.5 319.3 L537.3 322 L539.8 324.8 L542.2 327.6 L544.3 330.4 L546.3 333.2 L548.1 336.1 L549.8 338.9 L551.3 341.8 L552.7 344.7 L553.8 347.6 L554.8 350.6 L555.6 353.6 L556.2 356.7 L559.6 356.1 L559 352.8 L558.1 349.6 L557.1 346.4 L555.9 343.3 L554.5 340.2 L552.8 337.2 L551 334.2 L548.9 331.4 L546.6 328.6 L544.1 325.9 L541.4 323.3 L538.5 320.7 L535.5 318.1Z" fill="#e2e6ea" stroke="#a3a7ac" stroke-width="0.45" stroke-linejoin="round"/>
<path d="M540.8 323.8 L543.4 326.5 L545.8 329.2 L548 332 L550 334.9 L551.8 337.8 L553.4 340.8 L554.8 343.8 L556 346.9 L557 350 L557.8 353.1 L558.4 356.3" fill="none" stroke="#c6cace" stroke-width="0.35" />
<path d="M603.7 319.2 L601.8 321.5 L600 323.8 L598.3 326.2 L596.7 328.7 L595.2 331.2 L593.8 333.7 L592.7 336.4 L591.7 339.1 L590.8 341.8 L590.1 344.6 L589.5 347.4 L589 350.3 L588.6 353.2 L592 353.6 L592.4 350.8 L592.9 348.1 L593.5 345.4 L594.2 342.8 L595 340.2 L596 337.6 L597 335.1 L598 332.6 L599.2 330 L600.4 327.5 L601.8 325 L603.3 322.6 L604.9 320.2Z" fill="#e2e6ea" stroke="#a3a7ac" stroke-width="0.45" stroke-linejoin="round"/>
<path d="M601.1 324.6 L599.7 327.1 L598.3 329.6 L597 332.1 L595.9 334.6 L594.8 337.2 L593.9 339.8 L593 342.5 L592.3 345.2 L591.7 347.9 L591.2 350.6 L590.8 353.5" fill="none" stroke="#c6cace" stroke-width="0.35" />
<path d="M613.8 329 L611 330.7 L608.4 332.5 L605.9 334.4 L603.7 336.3 L601.5 338.2 L599.6 340.2 L597.9 342.3 L596.4 344.5 L595.1 346.7 L593.9 349 L593 351.3 L592.2 353.7 L591.6 356 L595 356.8 L595.5 354.6 L596.2 352.5 L597.1 350.5 L598.1 348.4 L599.4 346.4 L600.7 344.4 L602.3 342.4 L603.9 340.4 L605.6 338.3 L607.6 336.3 L609.8 334.2 L612.1 332.2 L614.6 330.2Z" fill="#e2e6ea" stroke="#a3a7ac" stroke-width="0.45" stroke-linejoin="round"/>
<path d="M609.3 333.6 L607 335.6 L605 337.6 L603 339.6 L601.3 341.6 L599.7 343.7 L598.3 345.7 L597.1 347.8 L596 350 L595.1 352.1 L594.4 354.3 L593.8 356.5" fill="none" stroke="#c6cace" stroke-width="0.35" />
<path d="M537.7 339.2 L540.6 340.4 L543.2 341.6 L545.6 342.8 L547.8 344 L549.8 345.3 L551.6 346.5 L553.3 347.6 L554.8 348.7 L556.1 349.8 L557.2 350.9 L558.1 352 L558.8 353 L559.3 354.2 L562.5 352.6 L561.8 351.3 L560.9 349.9 L559.8 348.5 L558.5 347.2 L557 345.9 L555.3 344.7 L553.5 343.5 L551.4 342.5 L549.1 341.5 L546.6 340.5 L544 339.6 L541.2 338.7 L538.3 337.8Z" fill="#e2e6ea" stroke="#a3a7ac" stroke-width="0.45" stroke-linejoin="round"/>
<path d="M543.7 340.3 L546.3 341.3 L548.7 342.4 L550.8 343.5 L552.8 344.6 L554.6 345.7 L556.2 346.9 L557.6 348.1 L558.8 349.3 L559.9 350.6 L560.7 351.9 L561.4 353.2" fill="none" stroke="#c6cace" stroke-width="0.35" />
<path d="M616.7 341.8 L613.7 342.8 L610.9 343.9 L608.3 345 L605.8 346.2 L603.5 347.3 L601.4 348.5 L599.6 349.9 L597.9 351.3 L596.5 352.8 L595.2 354.3 L594.1 355.8 L593.2 357.4 L592.5 358.9 L595.7 360.3 L596.3 359 L597 357.7 L597.9 356.4 L599 355.2 L600.3 353.9 L601.8 352.7 L603.5 351.4 L605.2 350 L607.2 348.6 L609.4 347.3 L611.9 345.9 L614.5 344.5 L617.3 343.2Z" fill="#e2e6ea" stroke="#a3a7ac" stroke-width="0.45" stroke-linejoin="round"/>
<path d="M611.5 345.2 L609 346.5 L606.7 347.8 L604.7 349.1 L602.7 350.4 L601 351.7 L599.5 353 L598.1 354.3 L597 355.7 L596 357 L595.2 358.4 L594.6 359.8" fill="none" stroke="#c6cace" stroke-width="0.35" />
<rect x="556.6" y="356.4" width="2.5" height="35.1" fill="#d9dce0" stroke="#a6aaaf" stroke-width="0.4"/>
<rect x="592" y="356.4" width="2.5" height="35.6" fill="#eaedf0" stroke="#b0b4b9" stroke-width="0.4"/>
<rect x="559.6" y="353.4" width="2.5" height="43.1" fill="#d9dce0" stroke="#a6aaaf" stroke-width="0.4"/>
<rect x="589" y="353.4" width="2.5" height="42.1" fill="#eaedf0" stroke="#b0b4b9" stroke-width="0.4"/>
<rect x="565.4" y="344.4" width="2.5" height="56.1" fill="#eaedf0" stroke="#b0b4b9" stroke-width="0.4"/>
<rect x="583.1" y="344.4" width="2.5" height="56.1" fill="#eaedf0" stroke="#b0b4b9" stroke-width="0.4"/>
<rect x="574.7" y="344.4" width="1.6" height="57.6" fill="#eaedf0" stroke="#b0b4b9" stroke-width="0.4"/>
<line x1="568.6" y1="355.4" x2="568.6" y2="388" stroke="#a0a3a7" stroke-width="0.9" stroke-dasharray="0.9 2.5"/>
<line x1="582.4" y1="355.4" x2="582.4" y2="388" stroke="#a0a3a7" stroke-width="0.9" stroke-dasharray="0.9 2.5"/>
<line x1="564.6" y1="355.4" x2="564.6" y2="388" stroke="#a0a3a7" stroke-width="0.9" stroke-dasharray="0.9 2.5"/>
<line x1="586.4" y1="355.4" x2="586.4" y2="388" stroke="#a0a3a7" stroke-width="0.9" stroke-dasharray="0.9 2.5"/>
<path d="M599.1 352.7 L597.4 352.6 L595.9 352.6 L594.4 352.7 L593 352.9 L591.7 353.3 L590.5 353.8 L589.4 354.5 L588.5 355.3 L587.7 356.3 L587 357.3 L586.5 358.5 L586.1 359.8 L585.9 361.2 L588.7 361.6 L588.9 360.5 L589.2 359.5 L589.5 358.6 L590 357.9 L590.5 357.2 L591.1 356.7 L591.9 356.2 L592.7 355.8 L593.7 355.5 L594.8 355.2 L596 355.1 L597.4 355 L598.9 355.1Z" fill="#e2e6ea" stroke="#a3a7ac" stroke-width="0.45" stroke-linejoin="round"/>
<ellipse cx="575.5" cy="380" rx="6.1" ry="3.3" fill="#e2e3e5" stroke="#8f9194" stroke-width="0.6"/>
<ellipse cx="575.5" cy="380" rx="3.4" ry="1.6" fill="#f4f4f5" stroke="#9b9da0" stroke-width="0.45"/>
<ellipse cx="575.5" cy="380" rx="1.2" ry="0.6" fill="#c9cacc"/>
<ellipse cx="575.5" cy="369.8" rx="6.1" ry="3.3" fill="#e2e3e5" stroke="#8f9194" stroke-width="0.6"/>
<ellipse cx="575.5" cy="369.8" rx="3.4" ry="1.6" fill="#f4f4f5" stroke="#9b9da0" stroke-width="0.45"/>
<ellipse cx="575.5" cy="369.8" rx="1.2" ry="0.6" fill="#c9cacc"/>
<ellipse cx="575.5" cy="359" rx="8.2" ry="4.1" fill="#ecedef" stroke="#8f9194" stroke-width="0.65"/>
<ellipse cx="575.5" cy="359.3" rx="5.7" ry="2.5" fill="#ffffff" stroke="#8f9194" stroke-width="0.55"/>
<path d="M585.9 348.4L587.8 347.8M584.5 350.9L586.2 350.9M580.7 352.7L581.6 353.2M575.5 353.4L575.5 354M570.3 352.7L569.4 353.2M566.5 350.9L564.8 350.9M565.1 348.4L563.2 347.8M566.5 345.9L564.8 344.7M570.3 344.1L569.4 342.4M575.5 343.4L575.5 341.6M580.7 344.1L581.6 342.4M584.5 345.9L586.2 344.7" fill="none" stroke="#9b9ea2" stroke-width="0.6" />
<ellipse cx="575.5" cy="348.4" rx="10.2" ry="4.9" fill="#f1f2f4" stroke="#8f9194" stroke-width="0.7"/>
<ellipse cx="575.5" cy="348.7" rx="7.5" ry="3.2" fill="#ffffff" stroke="#8f9194" stroke-width="0.6"/>
<path d="M681.1 316.3 L682.9 318.5 L684.5 320.8 L686 323.1 L687.3 325.4 L688.5 327.7 L689.6 330 L690.7 332.3 L691.7 334.6 L692.6 337 L693.3 339.4 L694 341.8 L694.5 344.2 L694.9 346.8 L698.3 346.2 L697.9 343.6 L697.4 341 L696.7 338.4 L695.9 335.8 L695 333.3 L693.9 330.8 L692.7 328.4 L691.3 326.1 L689.7 323.8 L688 321.6 L686.2 319.5 L684.3 317.4 L682.3 315.3Z" fill="#e2e6ea" stroke="#a3a7ac" stroke-width="0.45" stroke-linejoin="round"/>
<path d="M685.6 319.9 L687.3 322.1 L688.9 324.4 L690.3 326.6 L691.6 329 L692.8 331.4 L693.8 333.8 L694.7 336.2 L695.5 338.7 L696.2 341.3 L696.7 343.8 L697.1 346.4" fill="none" stroke="#c6cace" stroke-width="0.35" />
<path d="M705.1 319.8L705.9 319.8L706.6 346.5L704.4 346.5Z" fill="#dfe2e6" stroke="#b0b4b8" stroke-width="0.4"/>
<path d="M663.4 322.4 L666.3 325.1 L669 327.8 L671.5 330.5 L673.8 333.2 L675.8 336 L677.7 338.8 L679.5 341.6 L681.1 344.3 L682.5 347.2 L683.7 350 L684.7 352.9 L685.5 355.8 L686.2 358.9 L689.6 358.1 L688.9 355 L688.1 351.8 L687 348.7 L685.7 345.7 L684.2 342.7 L682.5 339.7 L680.6 336.8 L678.4 334.1 L675.9 331.4 L673.3 328.8 L670.5 326.2 L667.5 323.7 L664.4 321.2Z" fill="#e2e6ea" stroke="#a3a7ac" stroke-width="0.45" stroke-linejoin="round"/>
<path d="M670 326.7 L672.7 329.4 L675.2 332 L677.5 334.8 L679.6 337.5 L681.4 340.4 L683.1 343.3 L684.6 346.2 L685.8 349.2 L686.9 352.2 L687.8 355.3 L688.4 358.4" fill="none" stroke="#c6cace" stroke-width="0.35" />
<path d="M732.6 321.4 L730.8 323.6 L729.1 326 L727.5 328.4 L726 330.8 L724.6 333.3 L723.4 335.9 L722.4 338.5 L721.5 341.2 L720.7 344 L720 346.7 L719.4 349.6 L718.9 352.4 L718.6 355.3 L722 355.7 L722.4 352.9 L722.8 350.2 L723.4 347.5 L724 344.9 L724.8 342.3 L725.7 339.7 L726.6 337.2 L727.6 334.6 L728.6 332.1 L729.7 329.6 L731 327.1 L732.3 324.7 L733.8 322.2Z" fill="#e2e6ea" stroke="#a3a7ac" stroke-width="0.45" stroke-linejoin="round"/>
<path d="M730.3 326.7 L728.9 329.2 L727.7 331.6 L726.5 334.2 L725.5 336.7 L724.5 339.3 L723.6 341.9 L722.9 344.5 L722.2 347.2 L721.6 350 L721.2 352.7 L720.8 355.6" fill="none" stroke="#c6cace" stroke-width="0.35" />
<path d="M720.6 323.4 L719.6 325 L718.6 326.5 L717.7 328.1 L716.8 329.8 L716 331.5 L715.2 333.2 L714.7 335 L714.2 336.8 L713.8 338.7 L713.4 340.5 L713.1 342.5 L712.8 344.4 L712.7 346.3 L716.1 346.7 L716.3 344.8 L716.6 343 L716.9 341.2 L717.2 339.4 L717.6 337.7 L718.1 335.9 L718.6 334.3 L719 332.5 L719.5 330.8 L720 329.1 L720.6 327.5 L721.2 325.8 L722 324.2Z" fill="#e2e6ea" stroke="#a3a7ac" stroke-width="0.45" stroke-linejoin="round"/>
<path d="M719.9 327.1 L719.2 328.8 L718.5 330.5 L718 332.2 L717.4 333.9 L716.9 335.6 L716.4 337.4 L716 339.1 L715.7 341 L715.4 342.8 L715.1 344.7 L714.9 346.6" fill="none" stroke="#c6cace" stroke-width="0.35" />
<path d="M739.6 327.2 L737.3 329.2 L735.2 331.3 L733.2 333.5 L731.3 335.7 L729.5 337.9 L727.9 340.3 L726.6 342.7 L725.4 345.2 L724.3 347.7 L723.4 350.3 L722.7 352.9 L722 355.6 L721.6 358.2 L725 358.8 L725.5 356.3 L726 353.8 L726.8 351.4 L727.6 349 L728.6 346.6 L729.7 344.3 L730.9 342 L732.2 339.7 L733.6 337.4 L735.1 335 L736.8 332.8 L738.6 330.5 L740.6 328.2Z" fill="#e2e6ea" stroke="#a3a7ac" stroke-width="0.45" stroke-linejoin="round"/>
<path d="M736.2 332.3 L734.4 334.5 L732.8 336.8 L731.3 339.1 L729.9 341.4 L728.6 343.8 L727.5 346.1 L726.5 348.6 L725.6 351 L724.9 353.5 L724.3 356 L723.8 358.6" fill="none" stroke="#c6cace" stroke-width="0.35" />
<path d="M666.6 333.4 L669.5 335.1 L672.2 336.8 L674.7 338.6 L677 340.4 L679.1 342.2 L681 344 L682.8 345.6 L684.3 347.3 L685.7 349 L686.9 350.8 L687.8 352.5 L688.6 354.2 L689.2 356.1 L692.6 354.9 L691.9 352.9 L691 350.9 L689.8 348.9 L688.5 347 L687 345 L685.2 343.2 L683.3 341.4 L681.1 339.7 L678.7 338.1 L676.1 336.5 L673.3 335 L670.4 333.5 L667.2 332Z" fill="#e2e6ea" stroke="#a3a7ac" stroke-width="0.45" stroke-linejoin="round"/>
<path d="M672.9 335.6 L675.6 337.2 L678.1 338.9 L680.4 340.6 L682.5 342.3 L684.4 344 L686 345.8 L687.5 347.7 L688.8 349.6 L689.9 351.5 L690.7 353.4 L691.4 355.3" fill="none" stroke="#c6cace" stroke-width="0.35" />
<path d="M746.7 334.1 L743.7 335.8 L740.8 337.6 L738.1 339.5 L735.6 341.4 L733.3 343.3 L731.2 345.3 L729.3 347.5 L727.7 349.7 L726.2 351.9 L725 354.2 L723.9 356.5 L723.1 358.9 L722.4 361.2 L725.8 362.2 L726.4 360 L727.2 357.9 L728.1 355.8 L729.2 353.7 L730.6 351.7 L732.1 349.7 L733.8 347.7 L735.6 345.6 L737.5 343.5 L739.7 341.4 L742.1 339.4 L744.7 337.3 L747.5 335.3Z" fill="#e2e6ea" stroke="#a3a7ac" stroke-width="0.45" stroke-linejoin="round"/>
<path d="M741.7 338.8 L739.2 340.7 L736.9 342.8 L734.8 344.8 L732.9 346.8 L731.1 348.9 L729.6 351 L728.2 353.1 L727 355.2 L726 357.4 L725.2 359.6 L724.6 361.8" fill="none" stroke="#c6cace" stroke-width="0.35" />
<rect x="686.6" y="358.5" width="2.5" height="42" fill="#d9dce0" stroke="#a6aaaf" stroke-width="0.4"/>
<rect x="722" y="358.5" width="2.5" height="42.5" fill="#eaedf0" stroke="#b0b4b9" stroke-width="0.4"/>
<rect x="689.6" y="355.5" width="2.5" height="50" fill="#d9dce0" stroke="#a6aaaf" stroke-width="0.4"/>
<rect x="719" y="355.5" width="2.5" height="49" fill="#eaedf0" stroke="#b0b4b9" stroke-width="0.4"/>
<rect x="695.4" y="346.5" width="2.5" height="63" fill="#eaedf0" stroke="#b0b4b9" stroke-width="0.4"/>
<rect x="713.1" y="346.5" width="2.5" height="63" fill="#eaedf0" stroke="#b0b4b9" stroke-width="0.4"/>
<rect x="704.7" y="346.5" width="1.6" height="64.5" fill="#eaedf0" stroke="#b0b4b9" stroke-width="0.4"/>
<line x1="698.6" y1="357.5" x2="698.6" y2="397" stroke="#a0a3a7" stroke-width="0.9" stroke-dasharray="0.9 2.5"/>
<line x1="712.4" y1="357.5" x2="712.4" y2="397" stroke="#a0a3a7" stroke-width="0.9" stroke-dasharray="0.9 2.5"/>
<line x1="694.6" y1="357.5" x2="694.6" y2="397" stroke="#a0a3a7" stroke-width="0.9" stroke-dasharray="0.9 2.5"/>
<line x1="716.4" y1="357.5" x2="716.4" y2="397" stroke="#a0a3a7" stroke-width="0.9" stroke-dasharray="0.9 2.5"/>
<path d="M729.1 354.8 L727.4 354.7 L725.9 354.7 L724.4 354.8 L723 355 L721.7 355.4 L720.5 355.9 L719.4 356.6 L718.5 357.4 L717.7 358.4 L717 359.4 L716.5 360.6 L716.1 361.9 L715.9 363.3 L718.7 363.7 L718.9 362.6 L719.2 361.6 L719.5 360.7 L720 360 L720.5 359.3 L721.1 358.8 L721.9 358.3 L722.7 357.9 L723.7 357.6 L724.8 357.3 L726 357.2 L727.4 357.1 L728.9 357.2Z" fill="#e2e6ea" stroke="#a3a7ac" stroke-width="0.45" stroke-linejoin="round"/>
<ellipse cx="705.5" cy="389.1" rx="6.6" ry="3.6" fill="#e2e3e5" stroke="#8f9194" stroke-width="0.6"/>
<ellipse cx="705.5" cy="389.1" rx="3.7" ry="1.8" fill="#f4f4f5" stroke="#9b9da0" stroke-width="0.45"/>
<ellipse cx="705.5" cy="389.1" rx="1.3" ry="0.6" fill="#c9cacc"/>
<ellipse cx="705.5" cy="377.2" rx="6.6" ry="3.6" fill="#e2e3e5" stroke="#8f9194" stroke-width="0.6"/>
<ellipse cx="705.5" cy="377.2" rx="3.7" ry="1.8" fill="#f4f4f5" stroke="#9b9da0" stroke-width="0.45"/>
<ellipse cx="705.5" cy="377.2" rx="1.3" ry="0.6" fill="#c9cacc"/>
<ellipse cx="705.5" cy="365.3" rx="6.6" ry="3.6" fill="#e2e3e5" stroke="#8f9194" stroke-width="0.6"/>
<ellipse cx="705.5" cy="365.3" rx="3.7" ry="1.8" fill="#f4f4f5" stroke="#9b9da0" stroke-width="0.45"/>
<ellipse cx="705.5" cy="365.3" rx="1.3" ry="0.6" fill="#c9cacc"/>
<path d="M715.9 350.5L717.8 349.9M714.5 353L716.2 353M710.7 354.8L711.6 355.3M705.5 355.5L705.5 356.1M700.3 354.8L699.4 355.3M696.5 353L694.8 353M695.1 350.5L693.2 349.9M696.5 348L694.8 346.8M700.3 346.2L699.4 344.5M705.5 345.5L705.5 343.7M710.7 346.2L711.6 344.5M714.5 348L716.2 346.8" fill="none" stroke="#9b9ea2" stroke-width="0.6" />
<ellipse cx="705.5" cy="350.5" rx="10.6" ry="5.3" fill="#f1f2f4" stroke="#8f9194" stroke-width="0.7" transform="rotate(22 705.5 350.5)"/>
<ellipse cx="705.5" cy="350.8" rx="7.8" ry="3.5" fill="#ffffff" stroke="#8f9194" stroke-width="0.6" transform="rotate(22 705.5 350.5)"/>
<path d="M549.5 224.1 L553.3 227.8 L557.2 231.4 L561.2 234.9 L565.2 238.2 L569.4 241.4 L573.7 244.3 L578.2 246.9 L582.9 249.4 L587.6 251.6 L592.5 253.5 L597.4 255.2 L602.5 256.6 L607.6 257.9 L612.7 259 L617.9 260 L623.2 261 L628.4 262 L633.7 263 L638.9 264.1 L644.1 265.4 L649.3 266.7 L654.5 268.2 L659.7 269.9 L664.8 271.8 L669.8 273.9 L674.7 276.3 L679.5 279 L684 282 L688.4 285.3 L692.5 288.8 L696.5 292.5 L700.4 296.3 L704.1 300.2 L707.8 304.1 L711.4 308 L715 311.8 L718.7 315.6 L722.4 319.3 L726.3 322.9 L730.2 326.4 L734.3 329.8 L738.4 333 L742.7 336.1 L747.1 339 L751.5 341.9 L756 344.7 L760.5 347.5 L765 350.4 L769.5 353.2 L774.1 355.9 L778.6 358.5 L783.3 360.8 L788.1 363.1 L792.9 365.2 L797.8 367.2 L796.2 371.2 L791.2 369.1 L786.3 367 L781.4 364.7 L776.6 362.3 L771.9 359.6 L767.3 356.9 L762.8 354 L758.2 351.2 L753.7 348.3 L749.2 345.5 L744.7 342.6 L740.3 339.6 L735.9 336.4 L731.6 333.1 L727.4 329.7 L723.4 326.1 L719.4 322.4 L715.6 318.7 L711.9 314.8 L708.3 310.9 L704.6 307 L701 303.1 L697.3 299.3 L693.5 295.6 L689.7 292.1 L685.7 288.7 L681.5 285.5 L677.2 282.7 L672.7 280.1 L668 277.8 L663.2 275.8 L658.3 274 L653.3 272.3 L648.2 270.9 L643.1 269.5 L637.9 268.3 L632.8 267.2 L627.6 266.2 L622.4 265.2 L617.1 264.2 L611.9 263.2 L606.6 262.1 L601.4 260.8 L596.1 259.3 L591 257.5 L585.9 255.5 L580.9 253.2 L576.1 250.7 L571.4 247.9 L566.9 244.9 L562.6 241.6 L558.4 238.2 L554.4 234.6 L550.4 230.9 L546.5 227.3Z" fill="#f7f8f9" stroke="none" stroke-width="0.5" />
<path d="M547.8 226 L551.6 229.6 L555.6 233.2 L559.6 236.8 L563.7 240.2 L567.9 243.4 L572.4 246.4 L577 249.1 L581.7 251.6 L586.6 253.9 L591.6 255.9 L596.7 257.6 L601.8 259 L607 260.3 L612.2 261.4 L617.5 262.4 L622.7 263.4 L627.9 264.4 L633.1 265.4 L638.3 266.6 L643.5 267.8 L648.7 269.1 L653.8 270.6 L658.9 272.3 L663.9 274.1 L668.8 276.2 L673.6 278.5 L678.2 281.2 L682.6 284.1 L686.8 287.3 L690.9 290.7 L694.8 294.3 L698.6 298.1 L702.3 301.9 L705.9 305.8 L709.6 309.7 L713.2 313.6 L716.9 317.4 L720.7 321.1 L724.6 324.8 L728.6 328.3 L732.7 331.7 L737 335 L741.3 338.1 L745.7 341.1 L750.2 344 L754.7 346.8 L759.2 349.6 L763.7 352.5 L768.2 355.3 L772.8 358.1 L777.5 360.7 L782.2 363.1 L787 365.3 L791.9 367.5 L796.9 369.5 L796.2 371.2 L791.2 369.1 L786.3 367 L781.4 364.7 L776.6 362.3 L771.9 359.6 L767.3 356.9 L762.8 354 L758.2 351.2 L753.7 348.3 L749.2 345.5 L744.7 342.6 L740.3 339.6 L735.9 336.4 L731.6 333.1 L727.4 329.7 L723.4 326.1 L719.4 322.4 L715.6 318.7 L711.9 314.8 L708.3 310.9 L704.6 307 L701 303.1 L697.3 299.3 L693.5 295.6 L689.7 292.1 L685.7 288.7 L681.5 285.5 L677.2 282.7 L672.7 280.1 L668 277.8 L663.2 275.8 L658.3 274 L653.3 272.3 L648.2 270.9 L643.1 269.5 L637.9 268.3 L632.8 267.2 L627.6 266.2 L622.4 265.2 L617.1 264.2 L611.9 263.2 L606.6 262.1 L601.4 260.8 L596.1 259.3 L591 257.5 L585.9 255.5 L580.9 253.2 L576.1 250.7 L571.4 247.9 L566.9 244.9 L562.6 241.6 L558.4 238.2 L554.4 234.6 L550.4 230.9 L546.5 227.3Z" fill="#e3e5e8" stroke="none" stroke-width="0.5" />
<path d="M549.5 224.1 L553.3 227.8 L557.2 231.4 L561.2 234.9 L565.2 238.2 L569.4 241.4 L573.7 244.3 L578.2 246.9 L582.9 249.4 L587.6 251.6 L592.5 253.5 L597.4 255.2 L602.5 256.6 L607.6 257.9 L612.7 259 L617.9 260 L623.2 261 L628.4 262 L633.7 263 L638.9 264.1 L644.1 265.4 L649.3 266.7 L654.5 268.2 L659.7 269.9 L664.8 271.8 L669.8 273.9 L674.7 276.3 L679.5 279 L684 282 L688.4 285.3 L692.5 288.8 L696.5 292.5 L700.4 296.3 L704.1 300.2 L707.8 304.1 L711.4 308 L715 311.8 L718.7 315.6 L722.4 319.3 L726.3 322.9 L730.2 326.4 L734.3 329.8 L738.4 333 L742.7 336.1 L747.1 339 L751.5 341.9 L756 344.7 L760.5 347.5 L765 350.4 L769.5 353.2 L774.1 355.9 L778.6 358.5 L783.3 360.8 L788.1 363.1 L792.9 365.2 L797.8 367.2 L796.2 371.2 L791.2 369.1 L786.3 367 L781.4 364.7 L776.6 362.3 L771.9 359.6 L767.3 356.9 L762.8 354 L758.2 351.2 L753.7 348.3 L749.2 345.5 L744.7 342.6 L740.3 339.6 L735.9 336.4 L731.6 333.1 L727.4 329.7 L723.4 326.1 L719.4 322.4 L715.6 318.7 L711.9 314.8 L708.3 310.9 L704.6 307 L701 303.1 L697.3 299.3 L693.5 295.6 L689.7 292.1 L685.7 288.7 L681.5 285.5 L677.2 282.7 L672.7 280.1 L668 277.8 L663.2 275.8 L658.3 274 L653.3 272.3 L648.2 270.9 L643.1 269.5 L637.9 268.3 L632.8 267.2 L627.6 266.2 L622.4 265.2 L617.1 264.2 L611.9 263.2 L606.6 262.1 L601.4 260.8 L596.1 259.3 L591 257.5 L585.9 255.5 L580.9 253.2 L576.1 250.7 L571.4 247.9 L566.9 244.9 L562.6 241.6 L558.4 238.2 L554.4 234.6 L550.4 230.9 L546.5 227.3Z" fill="none" stroke="#b9bcc0" stroke-width="0.5" stroke-linejoin="round"/>
<path d="M547.8 226 L551.6 229.6 L555.6 233.2 L559.6 236.8 L563.7 240.2 L567.9 243.4 L572.4 246.4 L577 249.1 L581.7 251.6 L586.6 253.9 L591.6 255.9 L596.7 257.6 L601.8 259 L607 260.3 L612.2 261.4 L617.5 262.4 L622.7 263.4 L627.9 264.4 L633.1 265.4 L638.3 266.6 L643.5 267.8 L648.7 269.1 L653.8 270.6 L658.9 272.3 L663.9 274.1 L668.8 276.2 L673.6 278.5 L678.2 281.2 L682.6 284.1 L686.8 287.3 L690.9 290.7 L694.8 294.3 L698.6 298.1 L702.3 301.9 L705.9 305.8 L709.6 309.7 L713.2 313.6 L716.9 317.4 L720.7 321.1 L724.6 324.8 L728.6 328.3 L732.7 331.7 L737 335 L741.3 338.1 L745.7 341.1 L750.2 344 L754.7 346.8 L759.2 349.6 L763.7 352.5 L768.2 355.3 L772.8 358.1 L777.5 360.7 L782.2 363.1 L787 365.3 L791.9 367.5 L796.9 369.5" fill="none" stroke="#c3c6ca" stroke-width="0.4" />
<path d="M662.6 347.6 L661.5 349.8 L660.5 352.1 L659.5 354.4 L658.6 356.8 L657.7 359.3 L656.9 361.7 L656.3 364.3 L655.8 366.9 L655.3 369.5 L655 372.2 L654.6 374.9 L654.4 377.6 L654.2 380.4 L657.6 380.6 L657.8 377.9 L658.1 375.3 L658.4 372.6 L658.8 370.1 L659.2 367.5 L659.7 365 L660.3 362.5 L660.8 360.1 L661.3 357.6 L661.9 355.2 L662.5 352.9 L663.2 350.5 L664 348.2Z" fill="#e2e6ea" stroke="#a3a7ac" stroke-width="0.45" stroke-linejoin="round"/>
<path d="M661.8 352.6 L661 355 L660.3 357.4 L659.7 359.8 L659.1 362.3 L658.5 364.8 L658 367.3 L657.6 369.9 L657.2 372.5 L656.9 375.1 L656.6 377.8 L656.4 380.5" fill="none" stroke="#c6cace" stroke-width="0.35" />
<path d="M675.6 348.5 L673.6 351.3 L671.7 354.1 L670 357 L668.3 359.9 L666.8 362.9 L665.4 366 L664.3 369.2 L663.3 372.4 L662.4 375.7 L661.6 379.1 L661 382.4 L660.5 385.9 L660.1 389.3 L663.5 389.7 L663.9 386.3 L664.4 383 L665 379.8 L665.8 376.6 L666.6 373.4 L667.6 370.3 L668.7 367.2 L669.7 364.2 L670.9 361.1 L672.2 358.1 L673.6 355.2 L675.2 352.2 L676.8 349.3Z" fill="#e2e6ea" stroke="#a3a7ac" stroke-width="0.45" stroke-linejoin="round"/>
<path d="M673 354.8 L671.4 357.7 L670 360.7 L668.7 363.7 L667.5 366.8 L666.4 369.9 L665.5 373.1 L664.6 376.3 L663.8 379.5 L663.2 382.8 L662.7 386.2 L662.3 389.6" fill="none" stroke="#c6cace" stroke-width="0.35" />
<path d="M627.4 354.9 L628.5 356.8 L629.5 358.7 L630.5 360.7 L631.3 362.6 L632.1 364.6 L632.8 366.5 L633.6 368.5 L634.2 370.4 L634.8 372.4 L635.3 374.4 L635.7 376.5 L636.1 378.6 L636.4 380.7 L639.8 380.3 L639.6 378.1 L639.2 375.8 L638.7 373.6 L638.2 371.5 L637.6 369.4 L636.8 367.3 L636 365.2 L635 363.2 L633.9 361.3 L632.7 359.4 L631.4 357.6 L630 355.8 L628.6 354.1Z" fill="#e2e6ea" stroke="#a3a7ac" stroke-width="0.45" stroke-linejoin="round"/>
<path d="M630.8 358 L631.9 359.9 L633 361.8 L634 363.7 L634.9 365.7 L635.7 367.7 L636.4 369.7 L637 371.8 L637.5 373.9 L638 376.1 L638.3 378.2 L638.6 380.4" fill="none" stroke="#c6cace" stroke-width="0.35" />
<path d="M684.5 356.3 L681.8 358.6 L679.2 361.1 L676.9 363.6 L674.6 366.2 L672.6 368.8 L670.7 371.5 L669.1 374.3 L667.6 377.2 L666.4 380.1 L665.3 383.1 L664.4 386.1 L663.6 389.1 L663.1 392.2 L666.5 392.8 L667.1 389.9 L667.8 387 L668.6 384.2 L669.6 381.4 L670.8 378.7 L672.2 376 L673.7 373.3 L675.2 370.6 L676.9 367.9 L678.8 365.2 L680.9 362.6 L683.1 359.9 L685.5 357.3Z" fill="#e2e6ea" stroke="#a3a7ac" stroke-width="0.45" stroke-linejoin="round"/>
<path d="M680.3 362 L678.1 364.6 L676.1 367.3 L674.3 370 L672.6 372.7 L671.1 375.4 L669.7 378.1 L668.5 380.9 L667.4 383.8 L666.6 386.7 L665.9 389.6 L665.3 392.6" fill="none" stroke="#c6cace" stroke-width="0.35" />
<path d="M605.5 360.4 L608.4 362.8 L611 365.2 L613.4 367.7 L615.7 370.1 L617.7 372.6 L619.5 375.1 L621.2 377.6 L622.8 380 L624.1 382.5 L625.3 385.1 L626.3 387.6 L627.1 390.2 L627.7 392.9 L631.1 392.1 L630.5 389.3 L629.6 386.5 L628.5 383.7 L627.3 381 L625.8 378.3 L624.1 375.6 L622.3 373 L620.1 370.6 L617.7 368.2 L615.2 365.9 L612.4 363.6 L609.5 361.4 L606.5 359.2Z" fill="#e2e6ea" stroke="#a3a7ac" stroke-width="0.45" stroke-linejoin="round"/>
<path d="M611.9 364.2 L614.6 366.5 L617 368.9 L619.2 371.3 L621.3 373.8 L623.1 376.3 L624.7 378.9 L626.2 381.5 L627.4 384.2 L628.4 386.9 L629.3 389.6 L629.9 392.4" fill="none" stroke="#c6cace" stroke-width="0.35" />
<path d="M646.6 360.5L647.4 360.5L648.1 380.5L645.9 380.5Z" fill="#dfe2e6" stroke="#b0b4b8" stroke-width="0.4"/>
<path d="M687.5 364.1 L684.6 366.1 L681.8 368.2 L679.2 370.4 L676.7 372.6 L674.5 374.8 L672.4 377.2 L670.6 379.6 L669 382.2 L667.6 384.7 L666.4 387.3 L665.4 390 L664.5 392.6 L663.9 395.3 L667.3 396.1 L667.9 393.6 L668.7 391.1 L669.6 388.7 L670.7 386.3 L672 383.9 L673.5 381.6 L675.2 379.3 L676.9 376.9 L678.8 374.6 L680.9 372.2 L683.2 369.9 L685.7 367.6 L688.5 365.3Z" fill="#e2e6ea" stroke="#a3a7ac" stroke-width="0.45" stroke-linejoin="round"/>
<path d="M682.7 369.3 L680.3 371.6 L678.1 373.9 L676 376.2 L674.2 378.6 L672.5 380.9 L671 383.3 L669.6 385.7 L668.5 388.2 L667.5 390.7 L666.7 393.2 L666.1 395.8" fill="none" stroke="#c6cace" stroke-width="0.35" />
<path d="M609.8 377.2 L612.5 378.3 L615.1 379.4 L617.5 380.4 L619.7 381.5 L621.6 382.6 L623.4 383.7 L625 384.7 L626.5 385.6 L627.7 386.6 L628.8 387.5 L629.6 388.4 L630.3 389.4 L630.9 390.4 L633.9 388.6 L633.3 387.5 L632.3 386.2 L631.2 385 L630 383.9 L628.5 382.8 L626.9 381.7 L625.1 380.6 L623 379.8 L620.8 378.9 L618.4 378.1 L615.9 377.3 L613.1 376.5 L610.2 375.8Z" fill="#e2e6ea" stroke="#a3a7ac" stroke-width="0.45" stroke-linejoin="round"/>
<path d="M615.6 378 L618.1 378.9 L620.4 379.8 L622.5 380.8 L624.5 381.7 L626.2 382.7 L627.8 383.8 L629.2 384.8 L630.4 385.9 L631.4 387 L632.2 388.1 L632.9 389.2" fill="none" stroke="#c6cace" stroke-width="0.35" />
<rect x="628.1" y="392.5" width="2.5" height="41" fill="#d9dce0" stroke="#a6aaaf" stroke-width="0.4"/>
<rect x="663.5" y="392.5" width="2.5" height="41.5" fill="#eaedf0" stroke="#b0b4b9" stroke-width="0.4"/>
<rect x="631.1" y="389.5" width="2.5" height="49" fill="#d9dce0" stroke="#a6aaaf" stroke-width="0.4"/>
<rect x="660.5" y="389.5" width="2.5" height="48" fill="#eaedf0" stroke="#b0b4b9" stroke-width="0.4"/>
<rect x="636.9" y="380.5" width="2.5" height="62" fill="#eaedf0" stroke="#b0b4b9" stroke-width="0.4"/>
<rect x="654.6" y="380.5" width="2.5" height="62" fill="#eaedf0" stroke="#b0b4b9" stroke-width="0.4"/>
<rect x="646.2" y="380.5" width="1.6" height="63.5" fill="#eaedf0" stroke="#b0b4b9" stroke-width="0.4"/>
<line x1="640.1" y1="391.5" x2="640.1" y2="430" stroke="#a0a3a7" stroke-width="0.9" stroke-dasharray="0.9 2.5"/>
<line x1="653.9" y1="391.5" x2="653.9" y2="430" stroke="#a0a3a7" stroke-width="0.9" stroke-dasharray="0.9 2.5"/>
<line x1="636.1" y1="391.5" x2="636.1" y2="430" stroke="#a0a3a7" stroke-width="0.9" stroke-dasharray="0.9 2.5"/>
<line x1="657.9" y1="391.5" x2="657.9" y2="430" stroke="#a0a3a7" stroke-width="0.9" stroke-dasharray="0.9 2.5"/>
<path d="M670.6 388.8 L668.9 388.7 L667.4 388.7 L665.9 388.8 L664.5 389 L663.2 389.4 L662 389.9 L660.9 390.6 L660 391.4 L659.2 392.4 L658.5 393.4 L658 394.6 L657.6 395.9 L657.4 397.3 L660.2 397.7 L660.4 396.6 L660.7 395.6 L661 394.7 L661.5 394 L662 393.3 L662.6 392.8 L663.4 392.3 L664.2 391.9 L665.2 391.6 L666.3 391.3 L667.5 391.2 L668.9 391.1 L670.4 391.2Z" fill="#e2e6ea" stroke="#a3a7ac" stroke-width="0.45" stroke-linejoin="round"/>
<ellipse cx="647" cy="422.1" rx="6.6" ry="3.6" fill="#e2e3e5" stroke="#8f9194" stroke-width="0.6"/>
<ellipse cx="647" cy="422.1" rx="3.7" ry="1.8" fill="#f4f4f5" stroke="#9b9da0" stroke-width="0.45"/>
<ellipse cx="647" cy="422.1" rx="1.3" ry="0.6" fill="#c9cacc"/>
<ellipse cx="647" cy="410.2" rx="6.6" ry="3.6" fill="#e2e3e5" stroke="#8f9194" stroke-width="0.6"/>
<ellipse cx="647" cy="410.2" rx="3.7" ry="1.8" fill="#f4f4f5" stroke="#9b9da0" stroke-width="0.45"/>
<ellipse cx="647" cy="410.2" rx="1.3" ry="0.6" fill="#c9cacc"/>
<ellipse cx="647" cy="398.4" rx="6.6" ry="3.6" fill="#e2e3e5" stroke="#8f9194" stroke-width="0.6"/>
<ellipse cx="647" cy="398.4" rx="3.7" ry="1.8" fill="#f4f4f5" stroke="#9b9da0" stroke-width="0.45"/>
<ellipse cx="647" cy="398.4" rx="1.3" ry="0.6" fill="#c9cacc"/>
<path d="M657.4 384.5L659.3 383.9M656 387L657.7 387M652.2 388.8L653.1 389.3M647 389.5L647 390.1M641.8 388.8L640.9 389.3M638 387L636.3 387M636.6 384.5L634.7 383.9M638 382L636.3 380.8M641.8 380.2L640.9 378.5M647 379.5L647 377.7M652.2 380.2L653.1 378.5M656 382L657.7 380.8" fill="none" stroke="#9b9ea2" stroke-width="0.6" />
<ellipse cx="647" cy="384.5" rx="10.6" ry="5.3" fill="#f1f2f4" stroke="#8f9194" stroke-width="0.7" transform="rotate(22 647 384.5)"/>
<ellipse cx="647" cy="384.8" rx="7.8" ry="3.5" fill="#ffffff" stroke="#8f9194" stroke-width="0.6" transform="rotate(22 647 384.5)"/>
<path d="M787.6 357.8 L789.4 361.6 L791.1 365.4 L792.6 369.3 L794 373.2 L795.2 377.1 L796.4 381.2 L797.5 385.2 L798.5 389.3 L799.5 393.4 L800.2 397.6 L800.9 401.9 L801.4 406.2 L801.9 410.7 L805.3 410.3 L804.9 405.9 L804.4 401.4 L803.7 397 L802.9 392.7 L802 388.5 L800.9 384.3 L799.7 380.1 L798.2 376.1 L796.6 372.2 L794.9 368.3 L793 364.5 L791.1 360.8 L789 357.2Z" fill="#e2e6ea" stroke="#a3a7ac" stroke-width="0.45" stroke-linejoin="round"/>
<path d="M792.3 364.8 L794.1 368.6 L795.7 372.5 L797.2 376.5 L798.5 380.5 L799.7 384.6 L800.8 388.7 L801.7 393 L802.5 397.2 L803.2 401.6 L803.7 406 L804.1 410.5" fill="none" stroke="#c6cace" stroke-width="0.35" />
<path d="M769.8 363.9 L772.8 368.1 L775.5 372.3 L778 376.6 L780.3 381 L782.5 385.4 L784.4 389.9 L786.2 394.4 L787.9 398.9 L789.3 403.5 L790.6 408.2 L791.6 413 L792.5 417.8 L793.2 422.7 L796.6 422.3 L796 417.3 L795.1 412.3 L794 407.4 L792.7 402.6 L791.2 397.8 L789.5 393.1 L787.6 388.5 L785.3 384 L782.8 379.6 L780.2 375.3 L777.3 371.1 L774.2 367 L771 362.9Z" fill="#e2e6ea" stroke="#a3a7ac" stroke-width="0.45" stroke-linejoin="round"/>
<path d="M776.7 371.5 L779.4 375.8 L782 380.1 L784.3 384.5 L786.5 389 L788.3 393.6 L790 398.2 L791.5 402.9 L792.8 407.7 L793.9 412.5 L794.8 417.5 L795.4 422.4" fill="none" stroke="#c6cace" stroke-width="0.35" />
<path d="M811.4 367.1L812.1 367.1L812.2 410.5L811.2 410.5Z" fill="#dfe2e6" stroke="#b0b4b8" stroke-width="0.4"/>
<path d="M826.7 376.6 L825.8 378.9 L824.9 381.2 L824.1 383.7 L823.3 386.1 L822.5 388.6 L821.9 391.2 L821.4 393.8 L821 396.5 L820.6 399.2 L820.3 401.9 L820 404.7 L819.8 407.6 L819.7 410.4 L823.1 410.6 L823.3 407.8 L823.5 405 L823.8 402.3 L824.1 399.6 L824.4 397 L824.9 394.4 L825.3 391.8 L825.7 389.3 L826 386.8 L826.5 384.3 L827 381.8 L827.5 379.4 L828.1 377Z" fill="#e2e6ea" stroke="#a3a7ac" stroke-width="0.45" stroke-linejoin="round"/>
<path d="M826.2 381.6 L825.6 384.1 L825.1 386.5 L824.6 389.1 L824.1 391.6 L823.6 394.2 L823.2 396.8 L822.9 399.5 L822.6 402.2 L822.3 404.9 L822.1 407.7 L821.9 410.5" fill="none" stroke="#c6cace" stroke-width="0.35" />
<path d="M772.9 381.8 L775.9 384.6 L778.6 387.4 L781.2 390.2 L783.5 393.1 L785.6 396 L787.5 398.9 L789.4 401.8 L791 404.7 L792.4 407.6 L793.7 410.6 L794.7 413.6 L795.5 416.7 L796.2 419.9 L799.6 419.1 L798.9 415.9 L798 412.6 L796.9 409.4 L795.6 406.2 L794.1 403.1 L792.4 400 L790.4 396.9 L788.2 394.1 L785.7 391.2 L783 388.5 L780.2 385.8 L777.1 383.2 L773.9 380.6Z" fill="#e2e6ea" stroke="#a3a7ac" stroke-width="0.45" stroke-linejoin="round"/>
<path d="M779.6 386.4 L782.4 389.1 L784.9 391.9 L787.3 394.7 L789.4 397.6 L791.3 400.6 L793 403.6 L794.5 406.7 L795.8 409.8 L796.9 413 L797.7 416.2 L798.4 419.4" fill="none" stroke="#c6cace" stroke-width="0.35" />
<path d="M838.7 387.3 L837 389.4 L835.4 391.6 L833.9 393.9 L832.5 396.2 L831.2 398.5 L830 400.9 L829.1 403.4 L828.3 406 L827.5 408.6 L826.9 411.2 L826.3 413.9 L825.9 416.6 L825.6 419.3 L829 419.7 L829.4 417.1 L829.8 414.5 L830.3 412 L830.9 409.5 L831.6 407 L832.4 404.6 L833.3 402.2 L834.2 399.8 L835.1 397.4 L836.1 395.1 L837.3 392.7 L838.5 390.4 L839.9 388.1Z" fill="#e2e6ea" stroke="#a3a7ac" stroke-width="0.45" stroke-linejoin="round"/>
<path d="M836.6 392.3 L835.4 394.7 L834.2 397 L833.1 399.4 L832.2 401.8 L831.2 404.2 L830.4 406.7 L829.7 409.2 L829.1 411.7 L828.6 414.3 L828.1 416.9 L827.8 419.6" fill="none" stroke="#c6cace" stroke-width="0.35" />
<path d="M848.9 403.9 L846.4 405 L844 406.2 L841.8 407.4 L839.7 408.6 L837.8 409.8 L836 411.1 L834.5 412.6 L833.1 414 L831.9 415.6 L830.8 417.1 L829.9 418.7 L829.2 420.4 L828.6 421.9 L832 423.1 L832.4 421.6 L833 420.3 L833.8 419 L834.7 417.7 L835.8 416.3 L837 415 L838.4 413.7 L839.8 412.3 L841.4 410.9 L843.2 409.5 L845.1 408.1 L847.2 406.7 L849.5 405.3Z" fill="#e2e6ea" stroke="#a3a7ac" stroke-width="0.45" stroke-linejoin="round"/>
<path d="M844.7 407.4 L842.7 408.7 L840.8 410.1 L839.1 411.4 L837.5 412.8 L836.1 414.2 L834.8 415.5 L833.7 416.9 L832.8 418.3 L832 419.8 L831.3 421.2 L830.8 422.7" fill="none" stroke="#c6cace" stroke-width="0.35" />
<path d="M852.9 414.8 L850.1 415.3 L847.4 415.9 L844.9 416.5 L842.6 417.1 L840.4 417.7 L838.4 418.4 L836.7 419.2 L835.1 420 L833.6 420.9 L832.4 421.8 L831.3 422.7 L830.3 423.7 L829.7 424.7 L832.5 426.7 L833.1 425.9 L833.7 425.3 L834.5 424.5 L835.6 423.8 L836.8 423.1 L838.2 422.3 L839.8 421.6 L841.6 420.7 L843.5 419.8 L845.7 418.9 L848 418 L850.6 417.1 L853.3 416.2Z" fill="#e2e6ea" stroke="#a3a7ac" stroke-width="0.45" stroke-linejoin="round"/>
<path d="M847.8 417.3 L845.4 418 L843.2 418.8 L841.2 419.6 L839.3 420.4 L837.7 421.2 L836.2 422 L834.9 422.8 L833.8 423.6 L832.8 424.4 L832.1 425.2 L831.5 426" fill="none" stroke="#c6cace" stroke-width="0.35" />
<rect x="793.6" y="422.5" width="2.5" height="38" fill="#d9dce0" stroke="#a6aaaf" stroke-width="0.4"/>
<rect x="829" y="422.5" width="2.5" height="38.5" fill="#eaedf0" stroke="#b0b4b9" stroke-width="0.4"/>
<rect x="796.6" y="419.5" width="2.5" height="46" fill="#d9dce0" stroke="#a6aaaf" stroke-width="0.4"/>
<rect x="826" y="419.5" width="2.5" height="45" fill="#eaedf0" stroke="#b0b4b9" stroke-width="0.4"/>
<rect x="802.4" y="410.5" width="2.5" height="59" fill="#eaedf0" stroke="#b0b4b9" stroke-width="0.4"/>
<rect x="820.1" y="410.5" width="2.5" height="59" fill="#eaedf0" stroke="#b0b4b9" stroke-width="0.4"/>
<rect x="811.7" y="410.5" width="1.6" height="60.5" fill="#eaedf0" stroke="#b0b4b9" stroke-width="0.4"/>
<line x1="805.6" y1="421.5" x2="805.6" y2="457" stroke="#a0a3a7" stroke-width="0.9" stroke-dasharray="0.9 2.5"/>
<line x1="819.4" y1="421.5" x2="819.4" y2="457" stroke="#a0a3a7" stroke-width="0.9" stroke-dasharray="0.9 2.5"/>
<line x1="801.6" y1="421.5" x2="801.6" y2="457" stroke="#a0a3a7" stroke-width="0.9" stroke-dasharray="0.9 2.5"/>
<line x1="823.4" y1="421.5" x2="823.4" y2="457" stroke="#a0a3a7" stroke-width="0.9" stroke-dasharray="0.9 2.5"/>
<path d="M836.1 418.8 L834.4 418.7 L832.9 418.7 L831.4 418.8 L830 419 L828.7 419.4 L827.5 419.9 L826.4 420.6 L825.5 421.4 L824.7 422.4 L824 423.4 L823.5 424.6 L823.1 425.9 L822.9 427.3 L825.7 427.7 L825.9 426.6 L826.2 425.6 L826.5 424.7 L827 424 L827.5 423.3 L828.1 422.8 L828.9 422.3 L829.7 421.9 L830.7 421.6 L831.8 421.3 L833 421.2 L834.4 421.1 L835.9 421.2Z" fill="#e2e6ea" stroke="#a3a7ac" stroke-width="0.45" stroke-linejoin="round"/>
<ellipse cx="812.5" cy="449.1" rx="6.6" ry="3.6" fill="#e2e3e5" stroke="#8f9194" stroke-width="0.6"/>
<ellipse cx="812.5" cy="449.1" rx="3.7" ry="1.8" fill="#f4f4f5" stroke="#9b9da0" stroke-width="0.45"/>
<ellipse cx="812.5" cy="449.1" rx="1.3" ry="0.6" fill="#c9cacc"/>
<ellipse cx="812.5" cy="437.2" rx="6.6" ry="3.6" fill="#e2e3e5" stroke="#8f9194" stroke-width="0.6"/>
<ellipse cx="812.5" cy="437.2" rx="3.7" ry="1.8" fill="#f4f4f5" stroke="#9b9da0" stroke-width="0.45"/>
<ellipse cx="812.5" cy="437.2" rx="1.3" ry="0.6" fill="#c9cacc"/>
<ellipse cx="812.5" cy="426.3" rx="6.6" ry="3.6" fill="#e2e3e5" stroke="#8f9194" stroke-width="0.6"/>
<ellipse cx="812.5" cy="426.3" rx="3.7" ry="1.8" fill="#f4f4f5" stroke="#9b9da0" stroke-width="0.45"/>
<ellipse cx="812.5" cy="426.3" rx="1.3" ry="0.6" fill="#c9cacc"/>
<path d="M822.9 414.5L824.8 413.9M821.5 417L823.2 417M817.7 418.8L818.6 419.3M812.5 419.5L812.5 420.1M807.3 418.8L806.4 419.3M803.5 417L801.8 417M802.1 414.5L800.2 413.9M803.5 412L801.8 410.8M807.3 410.2L806.4 408.5M812.5 409.5L812.5 407.7M817.7 410.2L818.6 408.5M821.5 412L823.2 410.8" fill="none" stroke="#9b9ea2" stroke-width="0.6" />
<ellipse cx="812.5" cy="414.5" rx="10.6" ry="5.3" fill="#f1f2f4" stroke="#8f9194" stroke-width="0.7" transform="rotate(22 812.5 414.5)"/>
<ellipse cx="812.5" cy="414.8" rx="7.8" ry="3.5" fill="#ffffff" stroke="#8f9194" stroke-width="0.6" transform="rotate(22 812.5 414.5)"/>
<path d="M859.4 420.1 L861.2 422.7 L862.8 425.3 L864.3 427.9 L865.6 430.6 L866.9 433.3 L868 436 L869.1 438.7 L870.1 441.5 L871 444.3 L871.8 447.1 L872.4 449.9 L873 452.8 L873.4 455.8 L876.8 455.4 L876.4 452.3 L875.9 449.2 L875.2 446.2 L874.4 443.3 L873.4 440.3 L872.4 437.4 L871.2 434.6 L869.7 431.9 L868.1 429.2 L866.4 426.6 L864.6 424.1 L862.7 421.6 L860.6 419.1Z" fill="#e2e6ea" stroke="#a3a7ac" stroke-width="0.45" stroke-linejoin="round"/>
<path d="M864 424.5 L865.7 427.1 L867.3 429.7 L868.7 432.4 L870.1 435.1 L871.2 437.9 L872.3 440.7 L873.2 443.6 L874 446.5 L874.7 449.5 L875.2 452.5 L875.6 455.5" fill="none" stroke="#c6cace" stroke-width="0.35" />
<path d="M842.6 427.1 L845.4 430.1 L848 433.1 L850.4 436.1 L852.6 439.2 L854.6 442.3 L856.4 445.4 L858.2 448.5 L859.7 451.6 L861.1 454.8 L862.3 458 L863.3 461.2 L864.1 464.5 L864.7 467.9 L868.1 467.3 L867.5 463.8 L866.6 460.3 L865.6 456.9 L864.3 453.5 L862.9 450.1 L861.2 446.8 L859.4 443.6 L857.2 440.5 L854.9 437.5 L852.3 434.5 L849.6 431.6 L846.7 428.8 L843.6 426.1Z" fill="#e2e6ea" stroke="#a3a7ac" stroke-width="0.45" stroke-linejoin="round"/>
<path d="M849 432.2 L851.7 435.1 L854.1 438.1 L856.3 441.1 L858.4 444.2 L860.2 447.4 L861.8 450.6 L863.2 453.9 L864.4 457.2 L865.4 460.6 L866.3 464 L866.9 467.5" fill="none" stroke="#c6cace" stroke-width="0.35" />
<path d="M883.6 427.7L884.4 427.7L884.5 455.6L883.5 455.6Z" fill="#dfe2e6" stroke="#b0b4b8" stroke-width="0.4"/>
<path d="M899 433.1 L898 434.6 L897.1 436.1 L896.1 437.7 L895.3 439.3 L894.5 440.9 L893.7 442.6 L893.2 444.4 L892.7 446.1 L892.3 448 L891.9 449.8 L891.6 451.7 L891.3 453.5 L891.2 455.4 L894.6 455.8 L894.8 453.9 L895.1 452.2 L895.3 450.4 L895.7 448.7 L896.1 447 L896.5 445.3 L897 443.7 L897.5 442 L897.9 440.4 L898.4 438.7 L899 437.1 L899.6 435.5 L900.4 433.9Z" fill="#e2e6ea" stroke="#a3a7ac" stroke-width="0.45" stroke-linejoin="round"/>
<path d="M898.3 436.8 L897.6 438.4 L897 440 L896.4 441.6 L895.9 443.3 L895.4 445 L894.9 446.7 L894.5 448.4 L894.1 450.2 L893.8 452 L893.6 453.8 L893.4 455.7" fill="none" stroke="#c6cace" stroke-width="0.35" />
<path d="M911.9 441.1 L910 442.5 L908.3 444.1 L906.6 445.7 L905.1 447.3 L903.6 449 L902.3 450.7 L901.2 452.6 L900.2 454.4 L899.3 456.4 L898.6 458.3 L898 460.3 L897.5 462.3 L897.1 464.3 L900.5 464.9 L900.9 463 L901.3 461.2 L901.9 459.5 L902.6 457.7 L903.4 456 L904.2 454.3 L905.2 452.6 L906.2 450.8 L907.3 449.1 L908.5 447.3 L909.9 445.6 L911.3 443.9 L912.9 442.1Z" fill="#e2e6ea" stroke="#a3a7ac" stroke-width="0.45" stroke-linejoin="round"/>
<path d="M909.3 445.1 L907.9 446.7 L906.5 448.5 L905.3 450.2 L904.2 451.9 L903.2 453.7 L902.2 455.4 L901.4 457.2 L900.7 459.1 L900.2 460.9 L899.7 462.8 L899.3 464.7" fill="none" stroke="#c6cace" stroke-width="0.35" />
<path d="M847.4 444.6 L850 446.2 L852.5 447.7 L854.7 449.4 L856.8 451 L858.6 452.6 L860.3 454.2 L861.9 455.8 L863.3 457.3 L864.6 458.8 L865.6 460.4 L866.5 461.9 L867.2 463.5 L867.7 465.2 L871.1 464 L870.4 462.2 L869.6 460.4 L868.6 458.5 L867.4 456.8 L866 455 L864.4 453.3 L862.7 451.6 L860.6 450.1 L858.4 448.7 L856.1 447.3 L853.6 445.9 L850.9 444.5 L848 443.2Z" fill="#e2e6ea" stroke="#a3a7ac" stroke-width="0.45" stroke-linejoin="round"/>
<path d="M853.2 446.5 L855.6 448 L857.9 449.5 L859.9 451 L861.8 452.5 L863.5 454.2 L865 455.8 L866.4 457.5 L867.5 459.2 L868.5 460.9 L869.3 462.7 L869.9 464.4" fill="none" stroke="#c6cace" stroke-width="0.35" />
<path d="M922.5 451.3 L919.8 452.2 L917.2 453.2 L914.8 454.2 L912.5 455.2 L910.4 456.3 L908.5 457.4 L906.8 458.6 L905.2 459.9 L903.9 461.3 L902.7 462.6 L901.6 464 L900.8 465.5 L900.2 466.9 L903.4 468.3 L903.9 467.1 L904.6 465.9 L905.4 464.8 L906.4 463.7 L907.6 462.5 L908.9 461.4 L910.5 460.2 L912.1 459 L913.9 457.7 L915.9 456.4 L918.1 455.2 L920.5 453.9 L923.1 452.7Z" fill="#e2e6ea" stroke="#a3a7ac" stroke-width="0.45" stroke-linejoin="round"/>
<path d="M917.8 454.5 L915.5 455.7 L913.4 456.8 L911.5 458 L909.8 459.2 L908.2 460.4 L906.8 461.6 L905.5 462.8 L904.4 464.1 L903.6 465.3 L902.8 466.5 L902.3 467.8" fill="none" stroke="#c6cace" stroke-width="0.35" />
<path d="M924.9 458.2 L922 458.9 L919.2 459.5 L916.7 460.3 L914.3 461 L912.1 461.7 L910 462.5 L908.2 463.5 L906.6 464.5 L905.1 465.5 L903.8 466.5 L902.7 467.6 L901.8 468.8 L901.1 469.9 L904.1 471.7 L904.6 470.8 L905.3 470 L906.2 469.1 L907.2 468.3 L908.5 467.4 L909.9 466.5 L911.6 465.7 L913.4 464.7 L915.4 463.6 L917.5 462.6 L919.9 461.6 L922.5 460.6 L925.3 459.6Z" fill="#e2e6ea" stroke="#a3a7ac" stroke-width="0.45" stroke-linejoin="round"/>
<path d="M919.7 460.9 L917.2 461.8 L915 462.7 L912.9 463.6 L911 464.6 L909.3 465.5 L907.8 466.4 L906.5 467.3 L905.3 468.2 L904.4 469.2 L903.6 470.1 L903 471.1" fill="none" stroke="#c6cace" stroke-width="0.35" />
<rect x="865.1" y="467.6" width="2.5" height="34.9" fill="#d9dce0" stroke="#a6aaaf" stroke-width="0.4"/>
<rect x="900.5" y="467.6" width="2.5" height="35.4" fill="#eaedf0" stroke="#b0b4b9" stroke-width="0.4"/>
<rect x="868.1" y="464.6" width="2.5" height="42.9" fill="#d9dce0" stroke="#a6aaaf" stroke-width="0.4"/>
<rect x="897.5" y="464.6" width="2.5" height="41.9" fill="#eaedf0" stroke="#b0b4b9" stroke-width="0.4"/>
<rect x="873.9" y="455.6" width="2.5" height="55.9" fill="#eaedf0" stroke="#b0b4b9" stroke-width="0.4"/>
<rect x="891.6" y="455.6" width="2.5" height="55.9" fill="#eaedf0" stroke="#b0b4b9" stroke-width="0.4"/>
<rect x="883.2" y="455.6" width="1.6" height="57.4" fill="#eaedf0" stroke="#b0b4b9" stroke-width="0.4"/>
<line x1="877.1" y1="466.6" x2="877.1" y2="499" stroke="#a0a3a7" stroke-width="0.9" stroke-dasharray="0.9 2.5"/>
<line x1="890.9" y1="466.6" x2="890.9" y2="499" stroke="#a0a3a7" stroke-width="0.9" stroke-dasharray="0.9 2.5"/>
<line x1="873.1" y1="466.6" x2="873.1" y2="499" stroke="#a0a3a7" stroke-width="0.9" stroke-dasharray="0.9 2.5"/>
<line x1="894.9" y1="466.6" x2="894.9" y2="499" stroke="#a0a3a7" stroke-width="0.9" stroke-dasharray="0.9 2.5"/>
<path d="M907.6 463.9 L905.9 463.8 L904.4 463.8 L902.9 463.9 L901.5 464.1 L900.2 464.5 L899 465 L897.9 465.7 L897 466.5 L896.2 467.5 L895.5 468.5 L895 469.7 L894.6 471 L894.4 472.4 L897.2 472.8 L897.4 471.7 L897.7 470.7 L898 469.8 L898.5 469.1 L899 468.4 L899.6 467.9 L900.4 467.4 L901.2 467 L902.2 466.7 L903.3 466.4 L904.5 466.3 L905.9 466.2 L907.4 466.3Z" fill="#e2e6ea" stroke="#a3a7ac" stroke-width="0.45" stroke-linejoin="round"/>
<ellipse cx="884" cy="491.3" rx="6.1" ry="3.3" fill="#e2e3e5" stroke="#8f9194" stroke-width="0.6"/>
<ellipse cx="884" cy="491.3" rx="3.4" ry="1.6" fill="#f4f4f5" stroke="#9b9da0" stroke-width="0.45"/>
<ellipse cx="884" cy="491.3" rx="1.2" ry="0.6" fill="#c9cacc"/>
<ellipse cx="884" cy="480.9" rx="6.1" ry="3.3" fill="#e2e3e5" stroke="#8f9194" stroke-width="0.6"/>
<ellipse cx="884" cy="480.9" rx="3.4" ry="1.6" fill="#f4f4f5" stroke="#9b9da0" stroke-width="0.45"/>
<ellipse cx="884" cy="480.9" rx="1.2" ry="0.6" fill="#c9cacc"/>
<ellipse cx="884" cy="470.5" rx="8.2" ry="4.1" fill="#ecedef" stroke="#8f9194" stroke-width="0.65"/>
<ellipse cx="884" cy="470.8" rx="5.7" ry="2.5" fill="#ffffff" stroke="#8f9194" stroke-width="0.55"/>
<path d="M894.4 459.6L896.3 459M893 462.1L894.7 462.1M889.2 463.9L890.1 464.4M884 464.6L884 465.2M878.8 463.9L877.9 464.4M875 462.1L873.3 462.1M873.6 459.6L871.7 459M875 457.1L873.3 455.9M878.8 455.3L877.9 453.6M884 454.6L884 452.8M889.2 455.3L890.1 453.6M893 457.1L894.7 455.9" fill="none" stroke="#9b9ea2" stroke-width="0.6" />
<ellipse cx="884" cy="459.6" rx="10.2" ry="4.9" fill="#f1f2f4" stroke="#8f9194" stroke-width="0.7"/>
<ellipse cx="884" cy="459.9" rx="7.5" ry="3.2" fill="#ffffff" stroke="#8f9194" stroke-width="0.6"/>
<path d="M729.3 388 L731.2 392.1 L733 396.2 L734.6 400.4 L736 404.6 L737.3 408.9 L738.6 413.2 L739.8 417.6 L740.9 422 L741.8 426.5 L742.7 431 L743.4 435.7 L743.9 440.4 L744.4 445.2 L747.8 444.8 L747.4 440 L746.8 435.2 L746.1 430.5 L745.3 425.8 L744.3 421.2 L743.2 416.7 L741.9 412.2 L740.4 407.9 L738.7 403.6 L736.9 399.4 L734.9 395.3 L732.9 391.3 L730.7 387.4Z" fill="#e2e6ea" stroke="#a3a7ac" stroke-width="0.45" stroke-linejoin="round"/>
<path d="M734.2 395.6 L736.1 399.8 L737.8 404 L739.3 408.2 L740.7 412.6 L742 417 L743.1 421.5 L744.1 426 L744.9 430.7 L745.6 435.4 L746.2 440.1 L746.6 445" fill="none" stroke="#c6cace" stroke-width="0.35" />
<path d="M753.9 391.2L754.6 391.2L754.8 445L753.8 445Z" fill="#dfe2e6" stroke="#b0b4b8" stroke-width="0.4"/>
<path d="M769.8 399.1 L768.8 402.3 L767.8 405.5 L766.9 408.8 L766.1 412.1 L765.3 415.5 L764.6 419 L764.1 422.5 L763.6 426.1 L763.2 429.8 L762.9 433.5 L762.6 437.3 L762.3 441.1 L762.2 444.9 L765.6 445.1 L765.8 441.3 L766.1 437.5 L766.3 433.8 L766.7 430.1 L767.1 426.5 L767.5 423 L768 419.5 L768.4 416.1 L768.9 412.7 L769.4 409.3 L769.9 406 L770.6 402.7 L771.2 399.5Z" fill="#e2e6ea" stroke="#a3a7ac" stroke-width="0.45" stroke-linejoin="round"/>
<path d="M769.2 405.8 L768.5 409.1 L767.9 412.5 L767.3 415.9 L766.8 419.3 L766.3 422.8 L765.9 426.4 L765.5 430 L765.1 433.7 L764.8 437.4 L764.6 441.2 L764.4 445" fill="none" stroke="#c6cace" stroke-width="0.35" />
<path d="M712.1 405.5 L715.1 409.2 L717.9 413 L720.4 416.8 L722.8 420.7 L724.9 424.6 L726.8 428.5 L728.7 432.4 L730.4 436.4 L731.8 440.4 L733.1 444.6 L734.1 448.7 L735 452.9 L735.7 457.3 L739.1 456.7 L738.5 452.3 L737.6 447.9 L736.5 443.6 L735.1 439.3 L733.6 435.1 L731.9 431 L730 426.9 L727.7 423 L725.2 419.1 L722.5 415.4 L719.6 411.7 L716.5 408 L713.3 404.5Z" fill="#e2e6ea" stroke="#a3a7ac" stroke-width="0.45" stroke-linejoin="round"/>
<path d="M719 412.1 L721.8 415.9 L724.3 419.7 L726.7 423.5 L728.9 427.5 L730.8 431.5 L732.5 435.6 L734 439.7 L735.3 443.9 L736.4 448.2 L737.2 452.5 L737.9 456.9" fill="none" stroke="#c6cace" stroke-width="0.35" />
<path d="M781.3 411.7 L779.6 414.5 L778 417.5 L776.5 420.5 L775.1 423.5 L773.8 426.6 L772.6 429.8 L771.6 433.1 L770.8 436.4 L770 439.8 L769.4 443.3 L768.8 446.7 L768.4 450.3 L768.1 453.8 L771.5 454.2 L771.9 450.7 L772.3 447.2 L772.8 443.9 L773.4 440.5 L774.2 437.3 L775 434 L775.9 430.9 L776.8 427.7 L777.8 424.5 L778.8 421.4 L780 418.4 L781.3 415.3 L782.7 412.3Z" fill="#e2e6ea" stroke="#a3a7ac" stroke-width="0.45" stroke-linejoin="round"/>
<path d="M779.3 418.1 L778 421.1 L776.8 424.2 L775.7 427.3 L774.7 430.5 L773.8 433.7 L773 437 L772.2 440.3 L771.6 443.7 L771.1 447.1 L770.7 450.5 L770.3 454" fill="none" stroke="#c6cace" stroke-width="0.35" />
<path d="M716.9 425.3 L719.7 427.5 L722.3 429.7 L724.7 431.9 L726.9 434.1 L728.8 436.4 L730.6 438.6 L732.4 440.8 L733.9 443 L735.2 445.2 L736.4 447.5 L737.3 449.7 L738.1 452 L738.7 454.4 L742.1 453.6 L741.4 451 L740.6 448.5 L739.5 446 L738.3 443.5 L736.8 441.1 L735.2 438.7 L733.3 436.4 L731.2 434.2 L728.8 432.1 L726.3 430 L723.6 428 L720.8 426 L717.7 424.1Z" fill="#e2e6ea" stroke="#a3a7ac" stroke-width="0.45" stroke-linejoin="round"/>
<path d="M723.2 428.6 L725.7 430.7 L728.1 432.8 L730.4 434.9 L732.4 437.2 L734.2 439.4 L735.8 441.8 L737.2 444.1 L738.4 446.5 L739.4 448.9 L740.3 451.4 L740.9 453.9" fill="none" stroke="#c6cace" stroke-width="0.35" />
<path d="M794.4 427.6 L791.5 429.5 L788.7 431.4 L786.1 433.4 L783.7 435.4 L781.5 437.5 L779.5 439.7 L777.7 442 L776.1 444.3 L774.7 446.7 L773.5 449.1 L772.5 451.6 L771.7 454.1 L771.1 456.6 L774.5 457.4 L775.1 455.1 L775.8 452.8 L776.7 450.6 L777.8 448.4 L779.1 446.2 L780.5 444 L782.2 441.9 L783.9 439.7 L785.8 437.5 L787.8 435.3 L790.1 433.1 L792.6 430.9 L795.2 428.8Z" fill="#e2e6ea" stroke="#a3a7ac" stroke-width="0.45" stroke-linejoin="round"/>
<path d="M789.6 432.5 L787.2 434.6 L785.1 436.8 L783 438.9 L781.2 441.1 L779.6 443.3 L778.1 445.5 L776.8 447.8 L775.6 450.1 L774.7 452.4 L773.9 454.7 L773.3 457.1" fill="none" stroke="#c6cace" stroke-width="0.35" />
<path d="M725 436.8 L726.9 438.5 L728.7 440.1 L730.4 441.8 L731.9 443.5 L733.3 445.1 L734.5 446.8 L735.7 448.4 L736.8 450 L737.7 451.7 L738.5 453.3 L739.2 455 L739.8 456.6 L740.2 458.4 L743.6 457.6 L743.1 455.7 L742.5 453.8 L741.7 451.9 L740.8 450 L739.8 448.2 L738.6 446.4 L737.2 444.6 L735.7 443 L733.9 441.4 L732.1 439.9 L730.1 438.4 L728 437 L725.8 435.6Z" fill="#e2e6ea" stroke="#a3a7ac" stroke-width="0.45" stroke-linejoin="round"/>
<path d="M729.7 439 L731.5 440.6 L733.2 442.1 L734.8 443.7 L736.3 445.4 L737.6 447.1 L738.7 448.8 L739.7 450.6 L740.6 452.4 L741.4 454.2 L742 456 L742.4 457.9" fill="none" stroke="#c6cace" stroke-width="0.35" />
<path d="M794.5 443.6 L791.8 444.6 L789.1 445.6 L786.7 446.6 L784.4 447.6 L782.3 448.7 L780.3 449.8 L778.6 451.1 L777.1 452.4 L775.7 453.8 L774.5 455.2 L773.5 456.6 L772.6 458.1 L772 459.5 L775.2 460.9 L775.7 459.6 L776.4 458.5 L777.2 457.3 L778.2 456.2 L779.4 455 L780.8 453.8 L782.3 452.7 L784 451.4 L785.8 450.1 L787.8 448.8 L790.1 447.5 L792.5 446.3 L795.1 445Z" fill="#e2e6ea" stroke="#a3a7ac" stroke-width="0.45" stroke-linejoin="round"/>
<path d="M789.7 446.8 L787.4 448 L785.3 449.2 L783.4 450.4 L781.6 451.7 L780 452.9 L778.6 454.1 L777.3 455.3 L776.3 456.6 L775.4 457.8 L774.6 459.1 L774.1 460.4" fill="none" stroke="#c6cace" stroke-width="0.35" />
<rect x="736.1" y="457" width="2.5" height="36.5" fill="#d9dce0" stroke="#a6aaaf" stroke-width="0.4"/>
<rect x="771.5" y="457" width="2.5" height="37" fill="#eaedf0" stroke="#b0b4b9" stroke-width="0.4"/>
<rect x="739.1" y="454" width="2.5" height="44.5" fill="#d9dce0" stroke="#a6aaaf" stroke-width="0.4"/>
<rect x="768.5" y="454" width="2.5" height="43.5" fill="#eaedf0" stroke="#b0b4b9" stroke-width="0.4"/>
<rect x="744.9" y="445" width="2.5" height="57.5" fill="#eaedf0" stroke="#b0b4b9" stroke-width="0.4"/>
<rect x="762.6" y="445" width="2.5" height="57.5" fill="#eaedf0" stroke="#b0b4b9" stroke-width="0.4"/>
<rect x="754.2" y="445" width="1.6" height="59" fill="#eaedf0" stroke="#b0b4b9" stroke-width="0.4"/>
<line x1="748.1" y1="456" x2="748.1" y2="490" stroke="#a0a3a7" stroke-width="0.9" stroke-dasharray="0.9 2.5"/>
<line x1="761.9" y1="456" x2="761.9" y2="490" stroke="#a0a3a7" stroke-width="0.9" stroke-dasharray="0.9 2.5"/>
<line x1="744.1" y1="456" x2="744.1" y2="490" stroke="#a0a3a7" stroke-width="0.9" stroke-dasharray="0.9 2.5"/>
<line x1="765.9" y1="456" x2="765.9" y2="490" stroke="#a0a3a7" stroke-width="0.9" stroke-dasharray="0.9 2.5"/>
<path d="M778.6 453.3 L776.9 453.2 L775.4 453.2 L773.9 453.3 L772.5 453.5 L771.2 453.9 L770 454.4 L768.9 455.1 L768 455.9 L767.2 456.9 L766.5 457.9 L766 459.1 L765.6 460.4 L765.4 461.8 L768.2 462.2 L768.4 461.1 L768.7 460.1 L769 459.2 L769.5 458.5 L770 457.8 L770.6 457.3 L771.4 456.8 L772.2 456.4 L773.2 456.1 L774.3 455.8 L775.5 455.7 L776.9 455.6 L778.4 455.7Z" fill="#e2e6ea" stroke="#a3a7ac" stroke-width="0.45" stroke-linejoin="round"/>
<ellipse cx="755" cy="482.5" rx="6.6" ry="3.6" fill="#e2e3e5" stroke="#8f9194" stroke-width="0.6"/>
<ellipse cx="755" cy="482.5" rx="3.7" ry="1.8" fill="#f4f4f5" stroke="#9b9da0" stroke-width="0.45"/>
<ellipse cx="755" cy="482.5" rx="1.3" ry="0.6" fill="#c9cacc"/>
<ellipse cx="755" cy="470.9" rx="6.6" ry="3.6" fill="#e2e3e5" stroke="#8f9194" stroke-width="0.6"/>
<ellipse cx="755" cy="470.9" rx="3.7" ry="1.8" fill="#f4f4f5" stroke="#9b9da0" stroke-width="0.45"/>
<ellipse cx="755" cy="470.9" rx="1.3" ry="0.6" fill="#c9cacc"/>
<ellipse cx="755" cy="459.4" rx="6.6" ry="3.6" fill="#e2e3e5" stroke="#8f9194" stroke-width="0.6"/>
<ellipse cx="755" cy="459.4" rx="3.7" ry="1.8" fill="#f4f4f5" stroke="#9b9da0" stroke-width="0.45"/>
<ellipse cx="755" cy="459.4" rx="1.3" ry="0.6" fill="#c9cacc"/>
<path d="M765.4 449L767.3 448.4M764 451.5L765.7 451.5M760.2 453.3L761.1 453.8M755 454L755 454.6M749.8 453.3L748.9 453.8M746 451.5L744.3 451.5M744.6 449L742.7 448.4M746 446.5L744.3 445.3M749.8 444.7L748.9 443M755 444L755 442.2M760.2 444.7L761.1 443M764 446.5L765.7 445.3" fill="none" stroke="#9b9ea2" stroke-width="0.6" />
<ellipse cx="755" cy="449" rx="10.6" ry="5.3" fill="#f1f2f4" stroke="#8f9194" stroke-width="0.7" transform="rotate(22 755 449)"/>
<ellipse cx="755" cy="449.3" rx="7.8" ry="3.5" fill="#ffffff" stroke="#8f9194" stroke-width="0.6" transform="rotate(22 755 449)"/>
<path d="M805.1 457.2 L806.4 459.5 L807.7 461.9 L808.8 464.3 L809.9 466.6 L810.8 469.1 L811.6 471.5 L812.5 473.9 L813.3 476.4 L814 478.8 L814.6 481.4 L815.1 483.9 L815.5 486.5 L815.9 489.2 L819.3 488.8 L819 486.1 L818.6 483.3 L818 480.6 L817.4 478 L816.7 475.3 L815.8 472.8 L814.9 470.2 L813.7 467.8 L812.4 465.4 L811 463.1 L809.6 460.8 L808 458.6 L806.3 456.4Z" fill="#e2e6ea" stroke="#a3a7ac" stroke-width="0.45" stroke-linejoin="round"/>
<path d="M808.9 461.2 L810.3 463.5 L811.5 465.8 L812.7 468.2 L813.8 470.7 L814.7 473.2 L815.5 475.7 L816.2 478.3 L816.8 480.9 L817.4 483.5 L817.8 486.2 L818.1 488.9" fill="none" stroke="#c6cace" stroke-width="0.35" />
<path d="M841.7 457.5 L840.7 459.6 L839.7 461.8 L838.7 464.1 L837.8 466.3 L837 468.7 L836.2 471 L835.7 473.5 L835.2 475.9 L834.8 478.5 L834.4 481 L834.1 483.6 L833.8 486.2 L833.7 488.9 L837.1 489.1 L837.3 486.5 L837.6 484 L837.9 481.5 L838.2 479 L838.7 476.6 L839.1 474.2 L839.7 471.8 L840.1 469.5 L840.6 467.1 L841.1 464.8 L841.7 462.6 L842.4 460.3 L843.1 458.1Z" fill="#e2e6ea" stroke="#a3a7ac" stroke-width="0.45" stroke-linejoin="round"/>
<path d="M841 462.3 L840.3 464.6 L839.6 466.9 L839 469.2 L838.5 471.5 L837.9 473.9 L837.4 476.4 L837 478.8 L836.7 481.3 L836.4 483.9 L836.1 486.4 L835.9 489" fill="none" stroke="#c6cace" stroke-width="0.35" />
<path d="M784.4 463.4 L787.3 466.1 L790 469 L792.5 471.8 L794.8 474.7 L796.8 477.5 L798.7 480.5 L800.5 483.3 L802.1 486.2 L803.5 489.1 L804.7 492.1 L805.7 495.1 L806.5 498.2 L807.2 501.3 L810.6 500.7 L809.9 497.4 L809.1 494.1 L808 490.9 L806.7 487.7 L805.2 484.6 L803.5 481.5 L801.6 478.5 L799.4 475.6 L797 472.8 L794.3 470.1 L791.5 467.4 L788.6 464.8 L785.4 462.2Z" fill="#e2e6ea" stroke="#a3a7ac" stroke-width="0.45" stroke-linejoin="round"/>
<path d="M791 467.9 L793.7 470.7 L796.2 473.5 L798.5 476.3 L800.6 479.2 L802.5 482.2 L804.1 485.2 L805.6 488.2 L806.8 491.3 L807.9 494.5 L808.8 497.7 L809.4 500.9" fill="none" stroke="#c6cace" stroke-width="0.35" />
<path d="M853.6 464.4 L851.8 466.6 L850.1 468.9 L848.5 471.3 L847 473.7 L845.7 476.1 L844.4 478.6 L843.4 481.3 L842.5 483.9 L841.7 486.6 L841 489.4 L840.4 492.1 L839.9 495 L839.6 497.8 L843 498.2 L843.4 495.5 L843.8 492.8 L844.4 490.1 L845 487.5 L845.8 485 L846.7 482.5 L847.6 480 L848.6 477.5 L849.6 475 L850.7 472.5 L852 470 L853.3 467.6 L854.8 465.2Z" fill="#e2e6ea" stroke="#a3a7ac" stroke-width="0.45" stroke-linejoin="round"/>
<path d="M851.3 469.6 L849.9 472.1 L848.7 474.5 L847.5 477 L846.5 479.5 L845.5 482 L844.6 484.6 L843.9 487.2 L843.2 489.9 L842.6 492.6 L842.2 495.3 L841.8 498.1" fill="none" stroke="#c6cace" stroke-width="0.35" />
<path d="M826.1 465.7L826.9 465.7L827.6 489L825.4 489Z" fill="#dfe2e6" stroke="#b0b4b8" stroke-width="0.4"/>
<path d="M862.7 475 L860.2 476.6 L857.8 478.3 L855.6 480.1 L853.5 481.9 L851.6 483.7 L849.8 485.6 L848.3 487.6 L846.9 489.7 L845.7 491.8 L844.7 494 L843.8 496.2 L843.1 498.4 L842.6 500.6 L846 501.4 L846.5 499.3 L847.1 497.3 L847.9 495.4 L848.8 493.5 L849.9 491.5 L851.1 489.6 L852.5 487.8 L854 485.8 L855.5 483.9 L857.3 481.9 L859.2 480 L861.3 478.1 L863.5 476.2Z" fill="#e2e6ea" stroke="#a3a7ac" stroke-width="0.45" stroke-linejoin="round"/>
<path d="M858.7 479.4 L856.7 481.3 L854.8 483.2 L853.1 485.1 L851.6 487 L850.1 488.9 L848.9 490.9 L847.7 492.9 L846.8 494.9 L846 496.9 L845.3 499 L844.8 501.1" fill="none" stroke="#c6cace" stroke-width="0.35" />
<path d="M788.7 485.3 L791.5 486.4 L794.2 487.5 L796.6 488.6 L798.8 489.7 L800.9 490.9 L802.7 492 L804.4 493 L805.9 494 L807.1 494.9 L808.2 495.9 L809.1 496.9 L809.8 497.8 L810.4 498.9 L813.4 497.1 L812.7 495.9 L811.8 494.6 L810.7 493.4 L809.4 492.2 L807.9 491.1 L806.2 490 L804.4 488.9 L802.3 488 L800 487.1 L797.5 486.3 L794.9 485.5 L792.1 484.7 L789.1 483.9Z" fill="#e2e6ea" stroke="#a3a7ac" stroke-width="0.45" stroke-linejoin="round"/>
<path d="M794.6 486.2 L797.2 487.1 L799.6 488 L801.8 489 L803.8 490 L805.6 491 L807.2 492.1 L808.6 493.2 L809.8 494.3 L810.9 495.4 L811.7 496.6 L812.4 497.7" fill="none" stroke="#c6cace" stroke-width="0.35" />
<path d="M864.8 485.8 L862.2 486.9 L859.7 488 L857.3 489.2 L855.2 490.4 L853.1 491.6 L851.3 492.9 L849.7 494.3 L848.2 495.8 L846.9 497.3 L845.8 498.8 L844.8 500.4 L844 502 L843.5 503.6 L846.7 504.8 L847.3 503.4 L847.9 502.1 L848.7 500.8 L849.6 499.5 L850.8 498.2 L852.1 496.9 L853.5 495.6 L855 494.2 L856.8 492.8 L858.7 491.3 L860.7 489.9 L863 488.6 L865.4 487.2Z" fill="#e2e6ea" stroke="#a3a7ac" stroke-width="0.45" stroke-linejoin="round"/>
<path d="M860.4 489.3 L858.2 490.6 L856.2 491.9 L854.4 493.3 L852.7 494.6 L851.2 496 L849.9 497.3 L848.7 498.7 L847.7 500.1 L846.8 501.5 L846.1 502.9 L845.6 504.4" fill="none" stroke="#c6cace" stroke-width="0.35" />
<rect x="807.6" y="501" width="2.5" height="35.5" fill="#d9dce0" stroke="#a6aaaf" stroke-width="0.4"/>
<rect x="843" y="501" width="2.5" height="36" fill="#eaedf0" stroke="#b0b4b9" stroke-width="0.4"/>
<rect x="810.6" y="498" width="2.5" height="43.5" fill="#d9dce0" stroke="#a6aaaf" stroke-width="0.4"/>
<rect x="840" y="498" width="2.5" height="42.5" fill="#eaedf0" stroke="#b0b4b9" stroke-width="0.4"/>
<rect x="816.4" y="489" width="2.5" height="56.5" fill="#eaedf0" stroke="#b0b4b9" stroke-width="0.4"/>
<rect x="834.1" y="489" width="2.5" height="56.5" fill="#eaedf0" stroke="#b0b4b9" stroke-width="0.4"/>
<rect x="825.7" y="489" width="1.6" height="58" fill="#eaedf0" stroke="#b0b4b9" stroke-width="0.4"/>
<line x1="819.6" y1="500" x2="819.6" y2="533" stroke="#a0a3a7" stroke-width="0.9" stroke-dasharray="0.9 2.5"/>
<line x1="833.4" y1="500" x2="833.4" y2="533" stroke="#a0a3a7" stroke-width="0.9" stroke-dasharray="0.9 2.5"/>
<line x1="815.6" y1="500" x2="815.6" y2="533" stroke="#a0a3a7" stroke-width="0.9" stroke-dasharray="0.9 2.5"/>
<line x1="837.4" y1="500" x2="837.4" y2="533" stroke="#a0a3a7" stroke-width="0.9" stroke-dasharray="0.9 2.5"/>
<path d="M850.1 497.3 L848.4 497.2 L846.9 497.2 L845.4 497.3 L844 497.5 L842.7 497.9 L841.5 498.4 L840.4 499.1 L839.5 499.9 L838.7 500.9 L838 501.9 L837.5 503.1 L837.1 504.4 L836.9 505.8 L839.7 506.2 L839.9 505.1 L840.2 504.1 L840.5 503.2 L841 502.5 L841.5 501.8 L842.1 501.3 L842.9 500.8 L843.7 500.4 L844.7 500.1 L845.8 499.8 L847 499.7 L848.4 499.6 L849.9 499.7Z" fill="#e2e6ea" stroke="#a3a7ac" stroke-width="0.45" stroke-linejoin="round"/>
<ellipse cx="826.5" cy="524.2" rx="6.1" ry="3.3" fill="#e2e3e5" stroke="#8f9194" stroke-width="0.6"/>
<ellipse cx="826.5" cy="524.2" rx="3.4" ry="1.6" fill="#f4f4f5" stroke="#9b9da0" stroke-width="0.45"/>
<ellipse cx="826.5" cy="524.2" rx="1.2" ry="0.6" fill="#c9cacc"/>
<ellipse cx="826.5" cy="513.7" rx="6.1" ry="3.3" fill="#e2e3e5" stroke="#8f9194" stroke-width="0.6"/>
<ellipse cx="826.5" cy="513.7" rx="3.4" ry="1.6" fill="#f4f4f5" stroke="#9b9da0" stroke-width="0.45"/>
<ellipse cx="826.5" cy="513.7" rx="1.2" ry="0.6" fill="#c9cacc"/>
<ellipse cx="826.5" cy="503.4" rx="8.2" ry="4.1" fill="#ecedef" stroke="#8f9194" stroke-width="0.65"/>
<ellipse cx="826.5" cy="503.7" rx="5.7" ry="2.5" fill="#ffffff" stroke="#8f9194" stroke-width="0.55"/>
<path d="M836.9 493L838.8 492.4M835.5 495.5L837.2 495.5M831.7 497.3L832.6 497.8M826.5 498L826.5 498.6M821.3 497.3L820.4 497.8M817.5 495.5L815.8 495.5M816.1 493L814.2 492.4M817.5 490.5L815.8 489.3M821.3 488.7L820.4 487M826.5 488L826.5 486.2M831.7 488.7L832.6 487M835.5 490.5L837.2 489.3" fill="none" stroke="#9b9ea2" stroke-width="0.6" />
<ellipse cx="826.5" cy="493" rx="10.2" ry="4.9" fill="#f1f2f4" stroke="#8f9194" stroke-width="0.7"/>
<ellipse cx="826.5" cy="493.3" rx="7.5" ry="3.2" fill="#ffffff" stroke="#8f9194" stroke-width="0.6"/>
<g style="filter:grayscale(1)">
<g font-size="8.2" fill="#111" stroke="#111" stroke-width="0.22">
<text transform="translate(528.8 177.8) scale(.915 1)">LB</text>
<text transform="translate(571.2 184.8) scale(.915 1)">TB3L</text>
<text transform="translate(612 238) scale(.915 1)">MB</text>
<text transform="translate(648 223.8) scale(.915 1)">TB2L</text>
<text transform="translate(543.2 248.8) scale(.915 1)">SBF</text>
<text transform="translate(669 248.4) scale(.915 1)">MB</text>
<text transform="translate(703.8 250.6) scale(.915 1)">TB</text>
<text transform="translate(692.2 262.2) scale(.915 1)">TB</text>
<text transform="translate(723.4 237.6) scale(.915 1)">TB</text>
<text transform="translate(737.8 232.6) scale(.915 1)">TB</text>
<text transform="translate(752.8 227.6) scale(.915 1)">TB</text>
<text transform="translate(716 282.4) scale(.915 1)">MB</text>
<text transform="translate(750.2 276.1) scale(.915 1)">TB2R</text>
<text transform="translate(888.8 226) scale(.915 1)">CB</text>
<text transform="translate(902.2 293.8) scale(.915 1)">SBB</text>
<text transform="translate(790.2 340.8) scale(.915 1)">MB</text>
<text transform="translate(818 334.6) scale(.915 1)">TB3R</text>
<text transform="translate(923.6 349.2) scale(.915 1)">RB</text>
</g><g font-size="7.7" fill="#111" stroke="#111" stroke-width="0.2">
<text transform="translate(526 351.2) scale(.915 1)">R3</text>
<text transform="translate(531.2 362.1) scale(.915 1)">R2</text>
<text transform="translate(537.2 372.6) scale(.915 1)">R1</text>
<text transform="translate(537.6 385.2) scale(.915 1)">R1</text>
<text transform="translate(602.2 390.1) scale(.915 1)">R4</text>
<text transform="translate(606.6 400.6) scale(.915 1)">R1</text>
<text transform="translate(611.2 413.2) scale(.915 1)">R1</text>
<text transform="translate(611.2 424.6) scale(.915 1)">R1</text>
<text transform="translate(705.8 402.2) scale(.915 1)">A1</text>
<text transform="translate(725.8 386.2) scale(.915 1)">A2</text>
<text transform="translate(750.8 388.2) scale(.915 1)">A3</text>
<text transform="translate(767.8 396.8) scale(.915 1)">A4</text>
<text transform="translate(779.2 409.2) scale(.915 1)">A5</text>
<text transform="translate(792.2 428.2) scale(.915 1)">A6</text>
<text transform="translate(793.2 445.2) scale(.915 1)">A7</text>
<text transform="translate(702 496.8) scale(.915 1)">A12</text>
<text transform="translate(706.8 512.9) scale(.915 1)">A11</text>
<text transform="translate(722.8 522.1) scale(.915 1)">A10</text>
<text transform="translate(748.4 524.2) scale(.915 1)">A9</text>
<text transform="translate(769.4 519.2) scale(.915 1)">A8</text>
<text transform="translate(856.2 416.2) scale(.915 1)">B1</text>
<text transform="translate(837.8 424.2) scale(.915 1)">B2</text>
<text transform="translate(839.4 443.3) scale(.915 1)">B3</text>
<text transform="translate(877.8 425.8) scale(.915 1)">B12</text>
<text transform="translate(897.8 431.8) scale(.915 1)">B11</text>
<text transform="translate(912.8 439.8) scale(.915 1)">B10</text>
<text transform="translate(923.6 451.1) scale(.915 1)">B9</text>
<text transform="translate(928.8 461.6) scale(.915 1)">B8</text>
<text transform="translate(853.8 515.5) scale(.915 1)">B4</text>
<text transform="translate(862.8 523.4) scale(.915 1)">B5</text>
<text transform="translate(879.8 525.8) scale(.915 1)">B6</text>
<text transform="translate(896.8 524) scale(.915 1)">B7</text>
</g>
<path d="M537 348.6L566 348.6M542.5 359.4L567 359.4M548 370.3L569 370.3M548.5 382.6L569 380.5M613.5 387.4L636 386M617.5 398.2L640 398.2M622 410.7L640 410.7M622 422L640 422M717 495L733 495M723 504.4L734 501M737 511.6L744 507M753.6 509L753.6 515M769 512.4L765 506M866 509L869 507M872.5 515.5L874 512M884 514L884 519M898.5 516L895 512" fill="none" stroke="#c4c6c8" stroke-width="0.5" />
</g>
</svg>
</body></html>
